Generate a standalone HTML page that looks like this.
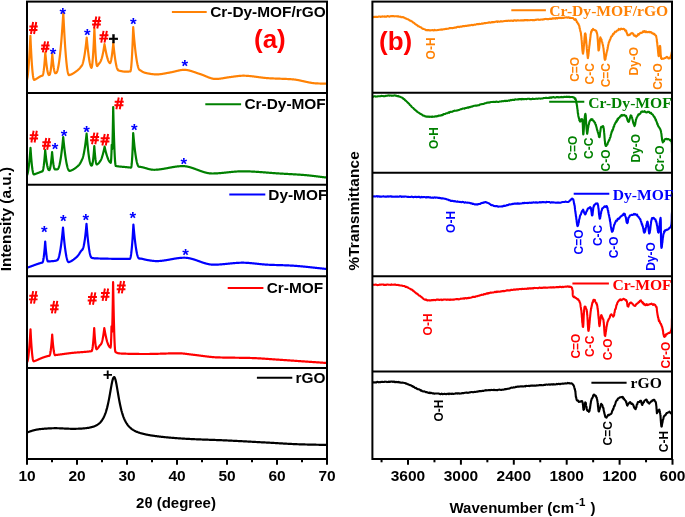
<!DOCTYPE html><html><head><meta charset="utf-8"><style>html,body{margin:0;padding:0;background:#fff;}svg{display:block;will-change:transform;filter:blur(0.35px);}</style></head><body><svg width="685" height="517" viewBox="0 0 685 517">
<rect width="685" height="517" fill="#fff"/>
<defs>
<clipPath id="ca"><rect x="27" y="1.6" width="300" height="457.4"/></clipPath>
<clipPath id="cb"><rect x="372.4" y="1.6" width="299.6" height="457.4"/></clipPath>
</defs>
<g clip-path="url(#ca)" fill="none" stroke-width="2.2" stroke-linejoin="round" stroke-linecap="round">
<path d="M27.00,79.77 L27.25,78.68 L27.50,77.26 L27.75,75.50 L28.00,73.39 L28.25,70.94 L28.50,68.15 L28.75,65.02 L29.00,61.54 L29.25,57.73 L29.50,53.58 L29.75,49.08 L30.00,44.25 L30.25,39.07 L30.40,35.80 L30.50,38.14 L30.75,43.70 L31.00,48.87 L31.25,53.64 L31.50,58.02 L31.75,62.00 L32.00,65.58 L32.25,68.76 L32.50,71.55 L32.75,73.93 L33.00,75.92 L33.25,77.51 L33.50,78.69 L33.75,79.47 L34.00,79.85 L34.25,79.85 L34.50,79.76 L34.75,79.65 L35.00,79.54 L35.25,79.42 L35.50,79.29 L35.75,79.15 L36.00,79.02 L36.25,78.87 L36.50,78.72 L36.75,78.57 L37.00,78.42 L37.25,78.26 L37.50,78.10 L37.75,77.94 L38.00,77.79 L38.25,77.63 L38.50,77.47 L38.75,77.31 L39.00,77.16 L39.25,77.01 L39.50,76.86 L39.75,76.72 L40.00,76.58 L40.25,76.45 L40.50,76.32 L40.75,76.21 L41.00,76.09 L41.25,75.99 L41.50,75.90 L41.75,75.81 L42.00,75.74 L42.25,75.67 L42.50,75.59 L42.75,75.23 L43.00,74.54 L43.25,73.51 L43.50,72.15 L43.75,70.46 L44.00,68.43 L44.25,66.06 L44.50,63.35 L44.75,60.30 L45.00,56.91 L45.25,53.19 L45.30,52.40 L45.50,54.72 L45.75,57.44 L46.00,59.98 L46.25,62.33 L46.50,64.49 L46.75,66.45 L47.00,68.21 L47.25,69.76 L47.50,71.11 L47.75,72.26 L48.00,73.21 L48.25,73.95 L48.50,74.51 L48.75,74.87 L49.00,75.03 L49.25,75.00 L49.50,74.87 L49.75,74.50 L50.00,73.83 L50.25,72.87 L50.50,71.61 L50.75,70.08 L51.00,68.26 L51.25,66.15 L51.50,63.77 L51.75,61.10 L52.00,58.14 L52.25,54.89 L52.30,54.20 L52.50,56.56 L52.75,59.28 L53.00,61.77 L53.25,64.01 L53.50,66.01 L53.75,67.76 L54.00,69.27 L54.25,70.54 L54.50,71.56 L54.75,72.34 L55.00,72.87 L55.25,73.15 L55.50,73.20 L55.75,73.13 L56.00,73.07 L56.25,72.96 L56.50,72.71 L56.75,72.32 L57.00,71.79 L57.25,71.12 L57.50,70.31 L57.75,69.37 L58.00,68.29 L58.25,67.07 L58.50,65.72 L58.75,64.24 L59.00,62.62 L59.25,60.86 L59.50,58.97 L59.75,56.94 L60.00,54.78 L60.25,52.47 L60.50,50.03 L60.75,47.45 L61.00,44.73 L61.25,41.87 L61.50,38.86 L61.75,35.72 L62.00,32.43 L62.25,29.00 L62.50,25.42 L62.75,21.70 L63.00,17.83 L63.25,13.82 L63.30,13.00 L63.50,17.23 L63.75,22.32 L64.00,27.18 L64.25,31.80 L64.50,36.19 L64.75,40.36 L65.00,44.28 L65.25,47.98 L65.50,51.44 L65.75,54.67 L66.00,57.66 L66.25,60.42 L66.50,62.94 L66.75,65.22 L67.00,67.27 L67.25,69.08 L67.50,70.65 L67.75,71.99 L68.00,73.09 L68.25,73.96 L68.50,74.59 L68.75,74.98 L69.00,75.14 L69.25,75.10 L69.50,75.04 L69.75,74.97 L70.00,74.89 L70.25,74.81 L70.50,74.72 L70.75,74.62 L71.00,74.52 L71.25,74.41 L71.50,74.30 L71.75,74.18 L72.00,74.05 L72.25,73.92 L72.50,73.78 L72.75,73.64 L73.00,73.50 L73.25,73.35 L73.50,73.19 L73.75,73.04 L74.00,72.87 L74.25,72.71 L74.50,72.54 L74.75,72.37 L75.00,72.19 L75.25,72.01 L75.50,71.83 L75.75,71.65 L76.00,71.47 L76.25,71.28 L76.50,71.09 L76.75,70.90 L77.00,70.71 L77.25,70.51 L77.50,70.32 L77.75,70.12 L78.00,69.92 L78.25,69.71 L78.50,69.49 L78.75,69.26 L79.00,69.02 L79.25,68.76 L79.50,68.49 L79.75,68.21 L80.00,67.91 L80.25,67.61 L80.50,67.29 L80.75,66.97 L81.00,66.65 L81.25,66.33 L81.50,66.02 L81.75,65.70 L82.00,65.28 L82.25,64.75 L82.50,64.11 L82.75,63.37 L83.00,62.53 L83.25,61.58 L83.50,60.53 L83.75,59.39 L84.00,58.14 L84.25,56.80 L84.50,55.36 L84.75,53.80 L85.00,52.15 L85.25,50.38 L85.50,48.49 L85.75,46.48 L86.00,44.35 L86.25,42.09 L86.50,39.71 L86.70,37.70 L86.75,38.25 L87.00,40.94 L87.25,43.52 L87.50,45.99 L87.75,48.35 L88.00,50.60 L88.25,52.73 L88.50,54.74 L88.75,56.62 L89.00,58.38 L89.25,60.00 L89.50,61.47 L89.75,62.79 L90.00,63.96 L90.25,64.98 L90.50,65.87 L90.75,66.65 L91.00,67.29 L91.25,67.79 L91.50,67.87 L91.75,67.34 L92.00,66.20 L92.25,64.47 L92.50,62.14 L92.75,59.26 L93.00,55.91 L93.25,52.09 L93.50,47.81 L93.75,43.08 L94.00,37.86 L94.25,32.15 L94.40,28.50 L94.50,31.16 L94.75,37.38 L95.00,43.01 L95.25,48.03 L95.50,52.44 L95.75,56.24 L96.00,59.42 L96.25,62.00 L96.50,63.95 L96.75,65.28 L97.00,66.00 L97.25,66.11 L97.50,65.80 L97.75,65.45 L98.00,65.10 L98.25,64.73 L98.50,64.36 L98.75,64.02 L99.00,63.69 L99.25,63.39 L99.50,63.12 L99.75,62.81 L100.00,62.44 L100.25,62.01 L100.50,61.53 L100.75,61.00 L101.00,60.40 L101.25,59.75 L101.50,59.03 L101.75,58.24 L102.00,57.39 L102.25,56.45 L102.50,55.43 L102.75,54.32 L103.00,53.12 L103.25,51.84 L103.50,50.47 L103.75,49.01 L104.00,47.46 L104.25,45.83 L104.50,44.10 L104.75,45.61 L105.00,47.06 L105.25,48.45 L105.50,49.80 L105.75,51.08 L106.00,52.31 L106.25,53.48 L106.50,54.59 L106.75,55.64 L107.00,56.63 L107.25,57.56 L107.50,58.44 L107.75,59.25 L108.00,60.00 L108.25,60.68 L108.50,61.26 L108.75,61.77 L109.00,62.20 L109.25,62.55 L109.50,62.84 L109.75,63.09 L110.00,63.11 L110.25,62.89 L110.50,62.42 L110.75,61.68 L111.00,60.71 L111.25,59.52 L111.50,58.14 L111.75,56.57 L112.00,54.85 L112.25,52.95 L112.50,50.90 L112.75,48.70 L113.00,46.31 L113.25,43.74 L113.30,43.20 L113.50,45.17 L113.75,47.56 L114.00,49.84 L114.25,52.02 L114.50,54.10 L114.75,56.06 L115.00,57.90 L115.25,59.62 L115.50,61.21 L115.75,62.67 L116.00,64.01 L116.25,65.21 L116.50,66.29 L116.75,67.24 L117.00,68.06 L117.25,68.75 L117.50,69.32 L117.75,69.77 L118.00,70.09 L118.25,70.29 L118.50,70.39 L118.75,70.47 L119.00,70.54 L119.25,70.62 L119.50,70.69 L119.75,70.76 L120.00,70.82 L120.25,70.89 L120.50,70.95 L120.75,71.01 L121.00,71.07 L121.25,71.13 L121.50,71.18 L121.75,71.23 L122.00,71.28 L122.25,71.33 L122.50,71.37 L122.75,71.41 L123.00,71.45 L123.25,71.48 L123.50,71.51 L123.75,71.54 L124.00,71.57 L124.25,71.59 L124.50,71.61 L124.75,71.63 L125.00,71.65 L125.25,71.66 L125.50,71.66 L125.75,71.67 L126.00,71.67 L126.25,71.67 L126.50,71.67 L126.75,71.66 L127.00,71.66 L127.25,71.64 L127.50,71.63 L127.75,71.62 L128.00,71.60 L128.25,71.58 L128.50,71.56 L128.75,71.54 L129.00,71.51 L129.25,71.49 L129.50,71.46 L129.75,71.44 L130.00,71.41 L130.25,71.38 L130.50,71.14 L130.75,70.26 L131.00,68.73 L131.25,66.55 L131.50,63.72 L131.75,60.24 L132.00,56.10 L132.25,51.32 L132.50,45.88 L132.75,39.80 L133.00,33.06 L133.20,27.20 L133.25,27.85 L133.50,31.02 L133.75,34.07 L134.00,36.98 L134.25,39.77 L134.50,42.43 L134.75,44.96 L135.00,47.36 L135.25,49.64 L135.50,51.79 L135.75,53.82 L136.00,55.72 L136.25,57.50 L136.50,59.16 L136.75,60.69 L137.00,62.11 L137.25,63.40 L137.50,64.58 L137.75,65.64 L138.00,66.59 L138.25,67.42 L138.50,68.14 L138.75,68.75 L139.00,69.24 L139.25,69.62 L139.50,69.89 L139.75,70.05 L140.00,70.16 L140.25,70.30 L140.50,70.44 L140.75,70.59 L141.00,70.75 L141.25,70.92 L141.50,71.09 L141.75,71.25 L142.00,71.41 L142.25,71.57 L142.50,71.72 L142.75,71.86 L143.00,71.99 L143.25,72.12 L143.50,72.23 L143.75,72.34 L144.00,72.44 L144.25,72.53 L144.50,72.61 L144.75,72.69 L145.00,72.76 L145.25,72.82 L145.50,72.88 L145.75,72.94 L146.00,73.00 L146.25,73.06 L146.50,73.11 L146.75,73.17 L147.00,73.22 L147.25,73.28 L147.50,73.33 L147.75,73.38 L148.00,73.43 L148.25,73.48 L148.50,73.53 L148.75,73.57 L149.00,73.62 L149.25,73.67 L149.50,73.71 L149.75,73.75 L150.00,73.79 L150.25,73.84 L150.50,73.87 L150.75,73.91 L151.00,73.95 L151.25,73.98 L151.50,74.02 L151.75,74.05 L152.00,74.08 L152.25,74.11 L152.50,74.14 L152.75,74.17 L153.00,74.19 L153.25,74.22 L153.50,74.24 L153.75,74.26 L154.00,74.28 L154.25,74.30 L154.50,74.32 L154.75,74.33 L155.00,74.34 L155.25,74.35 L155.50,74.36 L155.75,74.37 L156.00,74.38 L156.25,74.38 L156.50,74.38 L156.75,74.38 L157.00,74.38 L157.25,74.37 L157.50,74.37 L157.75,74.36 L158.00,74.35 L158.25,74.34 L158.50,74.32 L158.75,74.30 L159.00,74.29 L159.25,74.26 L159.50,74.24 L159.75,74.22 L160.00,74.19 L160.25,74.16 L160.50,74.14 L160.75,74.11 L161.00,74.07 L161.25,74.04 L161.50,74.00 L161.75,73.97 L162.00,73.93 L162.25,73.89 L162.50,73.85 L162.75,73.81 L163.00,73.77 L163.25,73.73 L163.50,73.69 L163.75,73.64 L164.00,73.60 L164.25,73.55 L164.50,73.51 L164.75,73.46 L165.00,73.42 L165.25,73.37 L165.50,73.32 L165.75,73.28 L166.00,73.23 L166.25,73.18 L166.50,73.13 L166.75,73.09 L167.00,73.04 L167.25,72.99 L167.50,72.95 L167.75,72.90 L168.00,72.85 L168.25,72.81 L168.50,72.76 L168.75,72.72 L169.00,72.67 L169.25,72.63 L169.50,72.59 L169.75,72.54 L170.00,72.50 L170.25,72.45 L170.50,72.40 L170.75,72.36 L171.00,72.31 L171.25,72.26 L171.50,72.21 L171.75,72.16 L172.00,72.10 L172.25,72.05 L172.50,71.99 L172.75,71.94 L173.00,71.88 L173.25,71.82 L173.50,71.76 L173.75,71.70 L174.00,71.64 L174.25,71.58 L174.50,71.52 L174.75,71.46 L175.00,71.40 L175.25,71.33 L175.50,71.27 L175.75,71.21 L176.00,71.15 L176.25,71.09 L176.50,71.02 L176.75,70.96 L177.00,70.90 L177.25,70.84 L177.50,70.78 L177.75,70.72 L178.00,70.67 L178.25,70.61 L178.50,70.56 L178.75,70.50 L179.00,70.45 L179.25,70.40 L179.50,70.35 L179.75,70.30 L180.00,70.26 L180.25,70.21 L180.50,70.17 L180.75,70.13 L181.00,70.09 L181.25,70.05 L181.50,70.02 L181.75,69.99 L182.00,69.96 L182.25,69.93 L182.50,69.91 L182.75,69.89 L183.00,69.87 L183.25,69.86 L183.50,69.85 L183.75,69.84 L184.00,69.83 L184.25,69.83 L184.50,69.83 L184.75,69.84 L185.00,69.85 L185.25,69.86 L185.50,69.88 L185.75,69.90 L186.00,69.92 L186.25,69.95 L186.50,69.98 L186.75,70.01 L187.00,70.05 L187.25,70.08 L187.50,70.13 L187.75,70.17 L188.00,70.22 L188.25,70.27 L188.50,70.32 L188.75,70.38 L189.00,70.44 L189.25,70.50 L189.50,70.56 L189.75,70.62 L190.00,70.69 L190.25,70.76 L190.50,70.83 L190.75,70.90 L191.00,70.98 L191.25,71.05 L191.50,71.13 L191.75,71.21 L192.00,71.29 L192.25,71.37 L192.50,71.45 L192.75,71.53 L193.00,71.62 L193.25,71.70 L193.50,71.79 L193.75,71.88 L194.00,71.96 L194.25,72.05 L194.50,72.14 L194.75,72.23 L195.00,72.32 L195.25,72.40 L195.50,72.49 L195.75,72.58 L196.00,72.67 L196.25,72.76 L196.50,72.84 L196.75,72.93 L197.00,73.02 L197.25,73.10 L197.50,73.19 L197.75,73.27 L198.00,73.36 L198.25,73.44 L198.50,73.52 L198.75,73.60 L199.00,73.68 L199.25,73.76 L199.50,73.84 L199.75,73.93 L200.00,74.01 L200.25,74.09 L200.50,74.17 L200.75,74.25 L201.00,74.34 L201.25,74.42 L201.50,74.51 L201.75,74.60 L202.00,74.69 L202.25,74.78 L202.50,74.88 L202.75,74.97 L203.00,75.07 L203.25,75.17 L203.50,75.27 L203.75,75.38 L204.00,75.48 L204.25,75.58 L204.50,75.69 L204.75,75.79 L205.00,75.90 L205.25,76.01 L205.50,76.11 L205.75,76.22 L206.00,76.33 L206.25,76.43 L206.50,76.54 L206.75,76.64 L207.00,76.75 L207.25,76.85 L207.50,76.95 L207.75,77.06 L208.00,77.16 L208.25,77.26 L208.50,77.35 L208.75,77.45 L209.00,77.55 L209.25,77.64 L209.50,77.73 L209.75,77.82 L210.00,77.90 L210.25,77.99 L210.50,78.07 L210.75,78.15 L211.00,78.22 L211.25,78.30 L211.50,78.37 L211.75,78.43 L212.00,78.50 L212.25,78.56 L212.50,78.61 L212.75,78.67 L213.00,78.71 L213.25,78.76 L213.50,78.80 L213.75,78.83 L214.00,78.87 L214.25,78.89 L214.50,78.92 L214.75,78.93 L215.00,78.95 L215.25,78.96 L215.50,78.97 L215.75,78.97 L216.00,78.97 L216.25,78.97 L216.50,78.96 L216.75,78.95 L217.00,78.94 L217.25,78.93 L217.50,78.91 L217.75,78.90 L218.00,78.88 L218.25,78.86 L218.50,78.83 L218.75,78.81 L219.00,78.78 L219.25,78.76 L219.50,78.73 L219.75,78.70 L220.00,78.67 L220.25,78.63 L220.50,78.60 L220.75,78.57 L221.00,78.53 L221.25,78.49 L221.50,78.46 L221.75,78.42 L222.00,78.38 L222.25,78.34 L222.50,78.30 L222.75,78.26 L223.00,78.22 L223.25,78.17 L223.50,78.13 L223.75,78.09 L224.00,78.05 L224.25,78.00 L224.50,77.96 L224.75,77.92 L225.00,77.87 L225.25,77.83 L225.50,77.79 L225.75,77.74 L226.00,77.70 L226.25,77.66 L226.50,77.62 L226.75,77.58 L227.00,77.54 L227.25,77.50 L227.50,77.46 L227.75,77.42 L228.00,77.38 L228.25,77.34 L228.50,77.31 L228.75,77.27 L229.00,77.24 L229.25,77.20 L229.50,77.17 L229.75,77.14 L230.00,77.10 L230.25,77.07 L230.50,77.04 L230.75,77.01 L231.00,76.97 L231.25,76.94 L231.50,76.91 L231.75,76.88 L232.00,76.84 L232.25,76.81 L232.50,76.78 L232.75,76.74 L233.00,76.71 L233.25,76.67 L233.50,76.64 L233.75,76.60 L234.00,76.57 L234.25,76.53 L234.50,76.50 L234.75,76.46 L235.00,76.43 L235.25,76.40 L235.50,76.36 L235.75,76.33 L236.00,76.30 L236.25,76.26 L236.50,76.23 L236.75,76.20 L237.00,76.17 L237.25,76.14 L237.50,76.11 L237.75,76.08 L238.00,76.05 L238.25,76.02 L238.50,75.99 L238.75,75.97 L239.00,75.94 L239.25,75.92 L239.50,75.90 L239.75,75.88 L240.00,75.85 L240.25,75.84 L240.50,75.82 L240.75,75.80 L241.00,75.79 L241.25,75.77 L241.50,75.76 L241.75,75.75 L242.00,75.74 L242.25,75.73 L242.50,75.72 L242.75,75.72 L243.00,75.72 L243.25,75.71 L243.50,75.71 L243.75,75.71 L244.00,75.72 L244.25,75.72 L244.50,75.72 L244.75,75.73 L245.00,75.74 L245.25,75.74 L245.50,75.75 L245.75,75.76 L246.00,75.77 L246.25,75.79 L246.50,75.80 L246.75,75.81 L247.00,75.83 L247.25,75.84 L247.50,75.86 L247.75,75.88 L248.00,75.90 L248.25,75.91 L248.50,75.93 L248.75,75.96 L249.00,75.98 L249.25,76.00 L249.50,76.02 L249.75,76.04 L250.00,76.07 L250.25,76.09 L250.50,76.12 L250.75,76.14 L251.00,76.17 L251.25,76.20 L251.50,76.23 L251.75,76.25 L252.00,76.28 L252.25,76.31 L252.50,76.34 L252.75,76.37 L253.00,76.40 L253.25,76.43 L253.50,76.46 L253.75,76.49 L254.00,76.53 L254.25,76.56 L254.50,76.59 L254.75,76.62 L255.00,76.66 L255.25,76.69 L255.50,76.72 L255.75,76.76 L256.00,76.79 L256.25,76.82 L256.50,76.86 L256.75,76.89 L257.00,76.93 L257.25,76.96 L257.50,76.99 L257.75,77.03 L258.00,77.06 L258.25,77.10 L258.50,77.13 L258.75,77.16 L259.00,77.20 L259.25,77.23 L259.50,77.27 L259.75,77.30 L260.00,77.33 L260.25,77.37 L260.50,77.40 L260.75,77.43 L261.00,77.46 L261.25,77.50 L261.50,77.53 L261.75,77.56 L262.00,77.59 L262.25,77.62 L262.50,77.65 L262.75,77.68 L263.00,77.71 L263.25,77.74 L263.50,77.77 L263.75,77.80 L264.00,77.82 L264.25,77.85 L264.50,77.88 L264.75,77.90 L265.00,77.93 L265.25,77.95 L265.50,77.98 L265.75,78.00 L266.00,78.02 L266.25,78.05 L266.50,78.07 L266.75,78.09 L267.00,78.11 L267.25,78.13 L267.50,78.15 L267.75,78.16 L268.00,78.18 L268.25,78.20 L268.50,78.21 L268.75,78.23 L269.00,78.25 L269.25,78.26 L269.50,78.27 L269.75,78.29 L270.00,78.30 L270.25,78.32 L270.50,78.33 L270.75,78.34 L271.00,78.36 L271.25,78.37 L271.50,78.38 L271.75,78.39 L272.00,78.40 L272.25,78.42 L272.50,78.43 L272.75,78.44 L273.00,78.45 L273.25,78.46 L273.50,78.47 L273.75,78.48 L274.00,78.49 L274.25,78.50 L274.50,78.51 L274.75,78.52 L275.00,78.53 L275.25,78.54 L275.50,78.55 L275.75,78.56 L276.00,78.57 L276.25,78.58 L276.50,78.59 L276.75,78.60 L277.00,78.61 L277.25,78.62 L277.50,78.63 L277.75,78.63 L278.00,78.64 L278.25,78.65 L278.50,78.66 L278.75,78.67 L279.00,78.68 L279.25,78.69 L279.50,78.70 L279.75,78.70 L280.00,78.71 L280.25,78.72 L280.50,78.73 L280.75,78.74 L281.00,78.75 L281.25,78.76 L281.50,78.77 L281.75,78.78 L282.00,78.78 L282.25,78.79 L282.50,78.80 L282.75,78.81 L283.00,78.82 L283.25,78.83 L283.50,78.84 L283.75,78.85 L284.00,78.86 L284.25,78.87 L284.50,78.88 L284.75,78.89 L285.00,78.90 L285.25,78.91 L285.50,78.92 L285.75,78.93 L286.00,78.94 L286.25,78.96 L286.50,78.97 L286.75,78.98 L287.00,78.99 L287.25,79.00 L287.50,79.01 L287.75,79.03 L288.00,79.04 L288.25,79.05 L288.50,79.07 L288.75,79.08 L289.00,79.09 L289.25,79.11 L289.50,79.12 L289.75,79.14 L290.00,79.15 L290.25,79.17 L290.50,79.18 L290.75,79.20 L291.00,79.21 L291.25,79.23 L291.50,79.25 L291.75,79.27 L292.00,79.29 L292.25,79.30 L292.50,79.33 L292.75,79.35 L293.00,79.37 L293.25,79.39 L293.50,79.42 L293.75,79.44 L294.00,79.47 L294.25,79.50 L294.50,79.53 L294.75,79.56 L295.00,79.60 L295.25,79.63 L295.50,79.67 L295.75,79.70 L296.00,79.74 L296.25,79.78 L296.50,79.82 L296.75,79.86 L297.00,79.90 L297.25,79.95 L297.50,79.99 L297.75,80.03 L298.00,80.08 L298.25,80.13 L298.50,80.17 L298.75,80.22 L299.00,80.27 L299.25,80.32 L299.50,80.37 L299.75,80.42 L300.00,80.48 L300.25,80.53 L300.50,80.58 L300.75,80.63 L301.00,80.69 L301.25,80.74 L301.50,80.80 L301.75,80.85 L302.00,80.91 L302.25,80.96 L302.50,81.02 L302.75,81.07 L303.00,81.13 L303.25,81.18 L303.50,81.24 L303.75,81.30 L304.00,81.35 L304.25,81.41 L304.50,81.47 L304.75,81.52 L305.00,81.58 L305.25,81.63 L305.50,81.69 L305.75,81.74 L306.00,81.80 L306.25,81.85 L306.50,81.91 L306.75,81.96 L307.00,82.02 L307.25,82.07 L307.50,82.12 L307.75,82.17 L308.00,82.23 L308.25,82.28 L308.50,82.33 L308.75,82.38 L309.00,82.43 L309.25,82.47 L309.50,82.52 L309.75,82.57 L310.00,82.61 L310.25,82.66 L310.50,82.70 L310.75,82.75 L311.00,82.79 L311.25,82.83 L311.50,82.87 L311.75,82.91 L312.00,82.95 L312.25,82.98 L312.50,83.02 L312.75,83.05 L313.00,83.08 L313.25,83.12 L313.50,83.15 L313.75,83.17 L314.00,83.20 L314.25,83.23 L314.50,83.25 L314.75,83.27 L315.00,83.30 L315.25,83.32 L315.50,83.33 L315.75,83.35 L316.00,83.37 L316.25,83.38 L316.50,83.40 L316.75,83.41 L317.00,83.42 L317.25,83.43 L317.50,83.44 L317.75,83.45 L318.00,83.46 L318.25,83.47 L318.50,83.48 L318.75,83.49 L319.00,83.50 L319.25,83.50 L319.50,83.51 L319.75,83.52 L320.00,83.53 L320.25,83.53 L320.50,83.54 L320.75,83.55 L321.00,83.55 L321.25,83.56 L321.50,83.57 L321.75,83.57 L322.00,83.58 L322.25,83.58 L322.50,83.59 L322.75,83.60 L323.00,83.60 L323.25,83.61 L323.50,83.61 L323.75,83.62 L324.00,83.63 L324.25,83.63 L324.50,83.64 L324.75,83.64 L325.00,83.65 L325.25,83.66 L325.50,83.66 L325.75,83.67 L326.00,83.67 L326.25,83.68 L326.50,83.68 L326.75,83.68 L327.00,83.69" stroke="#ff8205"/>
<path d="M27.00,175.39 L27.25,174.79 L27.50,173.98 L27.75,172.97 L28.00,171.74 L28.25,170.30 L28.50,168.65 L28.75,166.78 L29.00,164.71 L29.25,162.43 L29.50,159.94 L29.75,157.24 L30.00,154.34 L30.25,151.22 L30.50,147.90 L30.75,151.64 L31.00,155.11 L31.25,158.28 L31.50,161.17 L31.75,163.78 L32.00,166.11 L32.25,168.14 L32.50,169.90 L32.75,171.37 L33.00,172.55 L33.25,173.45 L33.50,174.06 L33.75,174.39 L34.00,174.43 L34.25,174.35 L34.50,174.27 L34.75,174.19 L35.00,174.10 L35.25,174.01 L35.50,173.92 L35.75,173.83 L36.00,173.74 L36.25,173.64 L36.50,173.55 L36.75,173.45 L37.00,173.35 L37.25,173.25 L37.50,173.16 L37.75,173.06 L38.00,172.96 L38.25,172.86 L38.50,172.76 L38.75,172.66 L39.00,172.57 L39.25,172.47 L39.50,172.37 L39.75,172.28 L40.00,172.19 L40.25,172.10 L40.50,172.01 L40.75,171.92 L41.00,171.84 L41.25,171.75 L41.50,171.67 L41.75,171.60 L42.00,171.52 L42.25,171.45 L42.50,171.28 L42.75,170.82 L43.00,170.05 L43.25,168.98 L43.50,167.60 L43.75,165.93 L44.00,163.94 L44.25,161.66 L44.50,159.07 L44.75,156.18 L45.00,152.98 L45.20,150.20 L45.25,150.71 L45.50,153.18 L45.75,155.47 L46.00,157.60 L46.25,159.56 L46.50,161.36 L46.75,162.99 L47.00,164.45 L47.25,165.74 L47.50,166.87 L47.75,167.83 L48.00,168.62 L48.25,169.25 L48.50,169.71 L48.75,170.00 L49.00,170.12 L49.25,170.10 L49.50,169.87 L49.75,169.39 L50.00,168.64 L50.25,167.63 L50.50,166.35 L50.75,164.82 L51.00,163.02 L51.25,160.96 L51.50,158.64 L51.75,156.05 L52.00,153.21 L52.10,152.00 L52.25,153.75 L52.50,156.47 L52.75,158.93 L53.00,161.13 L53.25,163.07 L53.50,164.75 L53.75,166.17 L54.00,167.34 L54.25,168.24 L54.50,168.89 L54.75,169.28 L55.00,169.40 L55.25,169.40 L55.50,169.40 L55.75,169.39 L56.00,169.39 L56.25,169.38 L56.50,169.36 L56.75,169.35 L57.00,169.33 L57.25,169.31 L57.50,169.27 L57.75,169.14 L58.00,168.88 L58.25,168.50 L58.50,168.00 L58.75,167.38 L59.00,166.64 L59.25,165.78 L59.50,164.81 L59.75,163.72 L60.00,162.52 L60.25,161.20 L60.50,159.77 L60.75,158.23 L61.00,156.58 L61.25,154.81 L61.50,152.93 L61.75,150.94 L62.00,148.83 L62.25,146.61 L62.50,144.27 L62.75,141.82 L63.00,139.24 L63.20,137.10 L63.25,137.62 L63.50,140.16 L63.75,142.60 L64.00,144.95 L64.25,147.20 L64.50,149.36 L64.75,151.41 L65.00,153.37 L65.25,155.23 L65.50,156.98 L65.75,158.63 L66.00,160.18 L66.25,161.63 L66.50,162.97 L66.75,164.21 L67.00,165.34 L67.25,166.37 L67.50,167.29 L67.75,168.11 L68.00,168.83 L68.25,169.43 L68.50,169.94 L68.75,170.34 L69.00,170.63 L69.25,170.82 L69.50,170.91 L69.75,170.89 L70.00,170.83 L70.25,170.76 L70.50,170.68 L70.75,170.60 L71.00,170.51 L71.25,170.42 L71.50,170.32 L71.75,170.21 L72.00,170.10 L72.25,169.98 L72.50,169.86 L72.75,169.73 L73.00,169.59 L73.25,169.45 L73.50,169.30 L73.75,169.15 L74.00,168.99 L74.25,168.83 L74.50,168.67 L74.75,168.50 L75.00,168.32 L75.25,168.14 L75.50,167.95 L75.75,167.76 L76.00,167.57 L76.25,167.37 L76.50,167.17 L76.75,166.96 L77.00,166.75 L77.25,166.54 L77.50,166.32 L77.75,166.10 L78.00,165.88 L78.25,165.65 L78.50,165.42 L78.75,165.18 L79.00,164.91 L79.25,164.62 L79.50,164.30 L79.75,163.95 L80.00,163.57 L80.25,163.16 L80.50,162.71 L80.75,162.24 L81.00,161.75 L81.25,161.23 L81.50,160.71 L81.75,160.18 L82.00,159.64 L82.25,159.12 L82.50,158.55 L82.75,157.84 L83.00,157.02 L83.25,156.08 L83.50,155.03 L83.75,153.89 L84.00,152.65 L84.25,151.31 L84.50,149.89 L84.75,148.36 L85.00,146.74 L85.25,145.01 L85.50,143.17 L85.75,141.21 L86.00,139.12 L86.25,136.89 L86.50,134.50 L86.60,133.50 L86.75,135.38 L87.00,138.43 L87.25,141.33 L87.50,144.10 L87.75,146.71 L88.00,149.16 L88.25,151.44 L88.50,153.54 L88.75,155.48 L89.00,157.24 L89.25,158.82 L89.50,160.23 L89.75,161.47 L90.00,162.54 L90.25,163.45 L90.50,164.19 L90.75,164.76 L91.00,165.19 L91.25,165.47 L91.50,165.60 L91.75,165.59 L92.00,165.30 L92.25,164.66 L92.50,163.67 L92.75,162.32 L93.00,160.62 L93.25,158.57 L93.50,156.16 L93.75,153.41 L94.00,150.30 L94.25,146.83 L94.30,146.10 L94.50,148.90 L94.75,152.08 L95.00,154.90 L95.25,157.36 L95.50,159.46 L95.75,161.20 L96.00,162.57 L96.25,163.58 L96.50,164.23 L96.75,164.51 L97.00,164.45 L97.25,164.30 L97.50,164.14 L97.75,163.96 L98.00,163.77 L98.25,163.56 L98.50,163.33 L98.75,163.06 L99.00,162.77 L99.25,162.45 L99.50,162.11 L99.75,161.76 L100.00,161.40 L100.25,161.05 L100.50,160.69 L100.75,160.26 L101.00,159.75 L101.25,159.20 L101.50,158.58 L101.75,157.90 L102.00,157.16 L102.25,156.38 L102.50,155.55 L102.75,154.69 L103.00,153.78 L103.25,152.83 L103.50,151.83 L103.75,150.77 L104.00,149.63 L104.25,148.42 L104.50,147.14 L104.60,146.60 L104.75,147.33 L105.00,148.51 L105.25,149.62 L105.50,150.69 L105.75,151.70 L106.00,152.65 L106.25,153.55 L106.50,154.40 L106.75,155.21 L107.00,155.99 L107.25,156.73 L107.50,157.45 L107.75,158.13 L108.00,158.78 L108.25,159.39 L108.50,159.95 L108.75,160.46 L109.00,160.92 L109.25,161.31 L109.50,161.64 L109.75,161.91 L110.00,162.17 L110.25,162.41 L110.50,162.64 L110.75,162.78 L111.00,161.37 L111.25,157.81 L111.50,152.07 L111.70,144.91 L111.75,146.12 L112.00,149.48 L112.25,148.34 L112.50,142.70 L112.75,132.59 L113.00,119.32 L113.20,107.00 L113.25,109.21 L113.50,119.65 L113.75,129.04 L114.00,137.37 L114.25,144.64 L114.50,150.84 L114.75,155.99 L115.00,160.06 L115.25,163.07 L115.50,165.00 L115.75,165.87 L116.00,165.98 L116.25,166.04 L116.50,166.10 L116.75,166.14 L117.00,166.19 L117.25,166.23 L117.50,166.27 L117.75,166.30 L118.00,166.34 L118.25,166.38 L118.50,166.41 L118.75,166.44 L119.00,166.47 L119.25,166.50 L119.50,166.53 L119.75,166.56 L120.00,166.58 L120.25,166.61 L120.50,166.63 L120.75,166.66 L121.00,166.68 L121.25,166.70 L121.50,166.72 L121.75,166.74 L122.00,166.76 L122.25,166.78 L122.50,166.81 L122.75,166.83 L123.00,166.85 L123.25,166.87 L123.50,166.89 L123.75,166.91 L124.00,166.93 L124.25,166.95 L124.50,166.97 L124.75,166.99 L125.00,167.01 L125.25,167.04 L125.50,167.06 L125.75,167.08 L126.00,167.11 L126.25,167.13 L126.50,167.16 L126.75,167.19 L127.00,167.21 L127.25,167.24 L127.50,167.27 L127.75,167.30 L128.00,167.33 L128.25,167.35 L128.50,167.38 L128.75,167.41 L129.00,167.43 L129.25,167.45 L129.50,167.48 L129.75,167.50 L130.00,167.51 L130.25,167.53 L130.50,167.54 L130.75,167.55 L131.00,167.56 L131.25,167.19 L131.50,165.92 L131.75,163.73 L132.00,160.62 L132.25,156.60 L132.50,151.67 L132.75,145.83 L133.00,139.07 L133.20,133.00 L133.25,133.58 L133.50,136.43 L133.75,139.15 L134.00,141.73 L134.25,144.18 L134.50,146.51 L134.75,148.70 L135.00,150.77 L135.25,152.71 L135.50,154.52 L135.75,156.20 L136.00,157.76 L136.25,159.20 L136.50,160.50 L136.75,161.68 L137.00,162.74 L137.25,163.68 L137.50,164.49 L137.75,165.17 L138.00,165.74 L138.25,166.18 L138.50,166.49 L138.75,166.69 L139.00,166.76 L139.25,166.77 L139.50,166.78 L139.75,166.81 L140.00,166.83 L140.25,166.86 L140.50,166.89 L140.75,166.93 L141.00,166.97 L141.25,167.01 L141.50,167.06 L141.75,167.11 L142.00,167.16 L142.25,167.21 L142.50,167.27 L142.75,167.33 L143.00,167.39 L143.25,167.45 L143.50,167.52 L143.75,167.59 L144.00,167.65 L144.25,167.72 L144.50,167.79 L144.75,167.87 L145.00,167.94 L145.25,168.01 L145.50,168.09 L145.75,168.16 L146.00,168.24 L146.25,168.31 L146.50,168.38 L146.75,168.46 L147.00,168.53 L147.25,168.60 L147.50,168.68 L147.75,168.75 L148.00,168.82 L148.25,168.89 L148.50,168.95 L148.75,169.02 L149.00,169.08 L149.25,169.15 L149.50,169.21 L149.75,169.27 L150.00,169.32 L150.25,169.37 L150.50,169.42 L150.75,169.47 L151.00,169.52 L151.25,169.56 L151.50,169.59 L151.75,169.63 L152.00,169.66 L152.25,169.69 L152.50,169.71 L152.75,169.73 L153.00,169.74 L153.25,169.76 L153.50,169.77 L153.75,169.77 L154.00,169.78 L154.25,169.78 L154.50,169.78 L154.75,169.77 L155.00,169.76 L155.25,169.76 L155.50,169.75 L155.75,169.73 L156.00,169.72 L156.25,169.71 L156.50,169.69 L156.75,169.67 L157.00,169.66 L157.25,169.64 L157.50,169.62 L157.75,169.59 L158.00,169.57 L158.25,169.55 L158.50,169.52 L158.75,169.49 L159.00,169.47 L159.25,169.44 L159.50,169.41 L159.75,169.38 L160.00,169.35 L160.25,169.31 L160.50,169.28 L160.75,169.25 L161.00,169.21 L161.25,169.17 L161.50,169.14 L161.75,169.10 L162.00,169.06 L162.25,169.02 L162.50,168.98 L162.75,168.94 L163.00,168.90 L163.25,168.86 L163.50,168.82 L163.75,168.78 L164.00,168.73 L164.25,168.69 L164.50,168.65 L164.75,168.60 L165.00,168.56 L165.25,168.51 L165.50,168.47 L165.75,168.42 L166.00,168.37 L166.25,168.33 L166.50,168.28 L166.75,168.23 L167.00,168.19 L167.25,168.14 L167.50,168.09 L167.75,168.04 L168.00,168.00 L168.25,167.95 L168.50,167.90 L168.75,167.86 L169.00,167.81 L169.25,167.76 L169.50,167.71 L169.75,167.67 L170.00,167.62 L170.25,167.57 L170.50,167.53 L170.75,167.48 L171.00,167.43 L171.25,167.39 L171.50,167.34 L171.75,167.30 L172.00,167.25 L172.25,167.21 L172.50,167.17 L172.75,167.12 L173.00,167.08 L173.25,167.04 L173.50,167.00 L173.75,166.96 L174.00,166.92 L174.25,166.88 L174.50,166.84 L174.75,166.80 L175.00,166.76 L175.25,166.73 L175.50,166.69 L175.75,166.65 L176.00,166.62 L176.25,166.59 L176.50,166.55 L176.75,166.52 L177.00,166.49 L177.25,166.46 L177.50,166.43 L177.75,166.41 L178.00,166.38 L178.25,166.35 L178.50,166.33 L178.75,166.31 L179.00,166.28 L179.25,166.26 L179.50,166.24 L179.75,166.23 L180.00,166.21 L180.25,166.19 L180.50,166.18 L180.75,166.17 L181.00,166.15 L181.25,166.14 L181.50,166.14 L181.75,166.13 L182.00,166.12 L182.25,166.12 L182.50,166.12 L182.75,166.12 L183.00,166.12 L183.25,166.13 L183.50,166.14 L183.75,166.15 L184.00,166.16 L184.25,166.18 L184.50,166.20 L184.75,166.22 L185.00,166.24 L185.25,166.27 L185.50,166.30 L185.75,166.33 L186.00,166.37 L186.25,166.41 L186.50,166.45 L186.75,166.49 L187.00,166.54 L187.25,166.58 L187.50,166.63 L187.75,166.69 L188.00,166.74 L188.25,166.80 L188.50,166.85 L188.75,166.91 L189.00,166.98 L189.25,167.04 L189.50,167.11 L189.75,167.17 L190.00,167.24 L190.25,167.31 L190.50,167.39 L190.75,167.46 L191.00,167.54 L191.25,167.61 L191.50,167.69 L191.75,167.77 L192.00,167.85 L192.25,167.93 L192.50,168.02 L192.75,168.10 L193.00,168.19 L193.25,168.27 L193.50,168.36 L193.75,168.45 L194.00,168.54 L194.25,168.63 L194.50,168.72 L194.75,168.81 L195.00,168.90 L195.25,168.99 L195.50,169.09 L195.75,169.18 L196.00,169.27 L196.25,169.37 L196.50,169.46 L196.75,169.55 L197.00,169.65 L197.25,169.74 L197.50,169.84 L197.75,169.93 L198.00,170.03 L198.25,170.12 L198.50,170.22 L198.75,170.31 L199.00,170.40 L199.25,170.50 L199.50,170.59 L199.75,170.68 L200.00,170.77 L200.25,170.86 L200.50,170.95 L200.75,171.04 L201.00,171.13 L201.25,171.22 L201.50,171.31 L201.75,171.40 L202.00,171.48 L202.25,171.57 L202.50,171.65 L202.75,171.73 L203.00,171.81 L203.25,171.89 L203.50,171.97 L203.75,172.05 L204.00,172.12 L204.25,172.20 L204.50,172.27 L204.75,172.34 L205.00,172.41 L205.25,172.48 L205.50,172.55 L205.75,172.61 L206.00,172.67 L206.25,172.73 L206.50,172.79 L206.75,172.85 L207.00,172.90 L207.25,172.96 L207.50,173.01 L207.75,173.05 L208.00,173.10 L208.25,173.14 L208.50,173.18 L208.75,173.22 L209.00,173.26 L209.25,173.29 L209.50,173.32 L209.75,173.35 L210.00,173.38 L210.25,173.40 L210.50,173.42 L210.75,173.43 L211.00,173.45 L211.25,173.46 L211.50,173.47 L211.75,173.48 L212.00,173.48 L212.25,173.49 L212.50,173.49 L212.75,173.49 L213.00,173.48 L213.25,173.48 L213.50,173.48 L213.75,173.47 L214.00,173.47 L214.25,173.46 L214.50,173.45 L214.75,173.44 L215.00,173.43 L215.25,173.42 L215.50,173.41 L215.75,173.40 L216.00,173.39 L216.25,173.38 L216.50,173.37 L216.75,173.35 L217.00,173.34 L217.25,173.32 L217.50,173.31 L217.75,173.29 L218.00,173.27 L218.25,173.26 L218.50,173.24 L218.75,173.22 L219.00,173.20 L219.25,173.18 L219.50,173.16 L219.75,173.14 L220.00,173.12 L220.25,173.10 L220.50,173.08 L220.75,173.06 L221.00,173.04 L221.25,173.02 L221.50,172.99 L221.75,172.97 L222.00,172.95 L222.25,172.92 L222.50,172.90 L222.75,172.87 L223.00,172.85 L223.25,172.82 L223.50,172.80 L223.75,172.77 L224.00,172.75 L224.25,172.72 L224.50,172.70 L224.75,172.67 L225.00,172.64 L225.25,172.62 L225.50,172.59 L225.75,172.57 L226.00,172.54 L226.25,172.51 L226.50,172.49 L226.75,172.46 L227.00,172.43 L227.25,172.41 L227.50,172.38 L227.75,172.35 L228.00,172.32 L228.25,172.30 L228.50,172.27 L228.75,172.24 L229.00,172.22 L229.25,172.19 L229.50,172.17 L229.75,172.14 L230.00,172.11 L230.25,172.09 L230.50,172.06 L230.75,172.04 L231.00,172.01 L231.25,171.99 L231.50,171.96 L231.75,171.94 L232.00,171.91 L232.25,171.89 L232.50,171.86 L232.75,171.84 L233.00,171.82 L233.25,171.79 L233.50,171.77 L233.75,171.75 L234.00,171.73 L234.25,171.71 L234.50,171.68 L234.75,171.66 L235.00,171.64 L235.25,171.62 L235.50,171.60 L235.75,171.59 L236.00,171.57 L236.25,171.55 L236.50,171.53 L236.75,171.52 L237.00,171.50 L237.25,171.48 L237.50,171.47 L237.75,171.45 L238.00,171.44 L238.25,171.43 L238.50,171.41 L238.75,171.40 L239.00,171.39 L239.25,171.38 L239.50,171.37 L239.75,171.36 L240.00,171.35 L240.25,171.34 L240.50,171.34 L240.75,171.33 L241.00,171.32 L241.25,171.32 L241.50,171.32 L241.75,171.31 L242.00,171.31 L242.25,171.31 L242.50,171.31 L242.75,171.31 L243.00,171.31 L243.25,171.31 L243.50,171.31 L243.75,171.31 L244.00,171.31 L244.25,171.31 L244.50,171.31 L244.75,171.32 L245.00,171.32 L245.25,171.33 L245.50,171.33 L245.75,171.33 L246.00,171.34 L246.25,171.34 L246.50,171.35 L246.75,171.36 L247.00,171.36 L247.25,171.37 L247.50,171.38 L247.75,171.38 L248.00,171.39 L248.25,171.40 L248.50,171.41 L248.75,171.41 L249.00,171.42 L249.25,171.43 L249.50,171.44 L249.75,171.45 L250.00,171.46 L250.25,171.47 L250.50,171.48 L250.75,171.49 L251.00,171.50 L251.25,171.52 L251.50,171.53 L251.75,171.54 L252.00,171.55 L252.25,171.56 L252.50,171.58 L252.75,171.59 L253.00,171.60 L253.25,171.62 L253.50,171.63 L253.75,171.64 L254.00,171.66 L254.25,171.67 L254.50,171.69 L254.75,171.70 L255.00,171.72 L255.25,171.73 L255.50,171.75 L255.75,171.76 L256.00,171.78 L256.25,171.79 L256.50,171.81 L256.75,171.82 L257.00,171.84 L257.25,171.86 L257.50,171.87 L257.75,171.89 L258.00,171.91 L258.25,171.93 L258.50,171.94 L258.75,171.96 L259.00,171.98 L259.25,172.00 L259.50,172.01 L259.75,172.03 L260.00,172.05 L260.25,172.07 L260.50,172.09 L260.75,172.10 L261.00,172.12 L261.25,172.14 L261.50,172.16 L261.75,172.18 L262.00,172.20 L262.25,172.22 L262.50,172.24 L262.75,172.26 L263.00,172.27 L263.25,172.29 L263.50,172.31 L263.75,172.33 L264.00,172.35 L264.25,172.37 L264.50,172.39 L264.75,172.41 L265.00,172.43 L265.25,172.45 L265.50,172.47 L265.75,172.49 L266.00,172.51 L266.25,172.53 L266.50,172.55 L266.75,172.57 L267.00,172.59 L267.25,172.61 L267.50,172.63 L267.75,172.65 L268.00,172.67 L268.25,172.69 L268.50,172.71 L268.75,172.73 L269.00,172.75 L269.25,172.77 L269.50,172.79 L269.75,172.81 L270.00,172.83 L270.25,172.85 L270.50,172.87 L270.75,172.89 L271.00,172.91 L271.25,172.93 L271.50,172.94 L271.75,172.96 L272.00,172.98 L272.25,173.00 L272.50,173.02 L272.75,173.04 L273.00,173.06 L273.25,173.08 L273.50,173.10 L273.75,173.11 L274.00,173.13 L274.25,173.15 L274.50,173.17 L274.75,173.19 L275.00,173.21 L275.25,173.22 L275.50,173.24 L275.75,173.26 L276.00,173.28 L276.25,173.29 L276.50,173.31 L276.75,173.33 L277.00,173.35 L277.25,173.36 L277.50,173.38 L277.75,173.39 L278.00,173.41 L278.25,173.43 L278.50,173.44 L278.75,173.46 L279.00,173.47 L279.25,173.49 L279.50,173.50 L279.75,173.52 L280.00,173.54 L280.25,173.55 L280.50,173.56 L280.75,173.58 L281.00,173.59 L281.25,173.61 L281.50,173.62 L281.75,173.64 L282.00,173.65 L282.25,173.67 L282.50,173.68 L282.75,173.70 L283.00,173.71 L283.25,173.72 L283.50,173.74 L283.75,173.75 L284.00,173.77 L284.25,173.78 L284.50,173.79 L284.75,173.81 L285.00,173.82 L285.25,173.83 L285.50,173.85 L285.75,173.86 L286.00,173.88 L286.25,173.89 L286.50,173.90 L286.75,173.92 L287.00,173.93 L287.25,173.95 L287.50,173.96 L287.75,173.97 L288.00,173.99 L288.25,174.00 L288.50,174.01 L288.75,174.03 L289.00,174.04 L289.25,174.06 L289.50,174.07 L289.75,174.08 L290.00,174.10 L290.25,174.11 L290.50,174.12 L290.75,174.14 L291.00,174.15 L291.25,174.17 L291.50,174.18 L291.75,174.19 L292.00,174.21 L292.25,174.22 L292.50,174.24 L292.75,174.25 L293.00,174.27 L293.25,174.28 L293.50,174.30 L293.75,174.31 L294.00,174.32 L294.25,174.34 L294.50,174.35 L294.75,174.37 L295.00,174.38 L295.25,174.40 L295.50,174.41 L295.75,174.43 L296.00,174.44 L296.25,174.46 L296.50,174.48 L296.75,174.49 L297.00,174.51 L297.25,174.52 L297.50,174.54 L297.75,174.55 L298.00,174.57 L298.25,174.59 L298.50,174.60 L298.75,174.62 L299.00,174.64 L299.25,174.65 L299.50,174.67 L299.75,174.69 L300.00,174.71 L300.25,174.72 L300.50,174.74 L300.75,174.76 L301.00,174.78 L301.25,174.79 L301.50,174.81 L301.75,174.83 L302.00,174.85 L302.25,174.87 L302.50,174.89 L302.75,174.90 L303.00,174.92 L303.25,174.94 L303.50,174.96 L303.75,174.98 L304.00,175.00 L304.25,175.02 L304.50,175.04 L304.75,175.06 L305.00,175.09 L305.25,175.11 L305.50,175.13 L305.75,175.15 L306.00,175.17 L306.25,175.20 L306.50,175.22 L306.75,175.24 L307.00,175.27 L307.25,175.29 L307.50,175.31 L307.75,175.34 L308.00,175.36 L308.25,175.39 L308.50,175.41 L308.75,175.44 L309.00,175.46 L309.25,175.49 L309.50,175.52 L309.75,175.54 L310.00,175.57 L310.25,175.60 L310.50,175.62 L310.75,175.65 L311.00,175.68 L311.25,175.71 L311.50,175.74 L311.75,175.76 L312.00,175.79 L312.25,175.82 L312.50,175.85 L312.75,175.88 L313.00,175.91 L313.25,175.94 L313.50,175.97 L313.75,175.99 L314.00,176.02 L314.25,176.05 L314.50,176.08 L314.75,176.11 L315.00,176.14 L315.25,176.17 L315.50,176.20 L315.75,176.23 L316.00,176.27 L316.25,176.30 L316.50,176.33 L316.75,176.36 L317.00,176.39 L317.25,176.42 L317.50,176.45 L317.75,176.48 L318.00,176.51 L318.25,176.54 L318.50,176.57 L318.75,176.60 L319.00,176.63 L319.25,176.67 L319.50,176.70 L319.75,176.73 L320.00,176.76 L320.25,176.79 L320.50,176.82 L320.75,176.85 L321.00,176.88 L321.25,176.91 L321.50,176.94 L321.75,176.97 L322.00,177.01 L322.25,177.04 L322.50,177.07 L322.75,177.10 L323.00,177.13 L323.25,177.16 L323.50,177.19 L323.75,177.22 L324.00,177.25 L324.25,177.28 L324.50,177.31 L324.75,177.34 L325.00,177.37 L325.25,177.40 L325.50,177.43 L325.75,177.45 L326.00,177.47 L326.25,177.50 L326.50,177.51 L326.75,177.53 L327.00,177.55" stroke="#008000"/>
<path d="M27.00,267.64 L27.25,267.59 L27.50,267.54 L27.75,267.49 L28.00,267.41 L28.25,267.34 L28.50,267.27 L28.75,267.18 L29.00,267.09 L29.25,267.00 L29.50,266.91 L29.75,266.82 L30.00,266.73 L30.25,266.64 L30.50,266.55 L30.75,266.45 L31.00,266.36 L31.25,266.27 L31.50,266.18 L31.75,266.08 L32.00,265.99 L32.25,265.90 L32.50,265.80 L32.75,265.71 L33.00,265.62 L33.25,265.52 L33.50,265.43 L33.75,265.34 L34.00,265.25 L34.25,265.15 L34.50,265.06 L34.75,264.97 L35.00,264.88 L35.25,264.79 L35.50,264.70 L35.75,264.61 L36.00,264.52 L36.25,264.43 L36.50,264.34 L36.75,264.25 L37.00,264.17 L37.25,264.08 L37.50,264.00 L37.75,263.91 L38.00,263.83 L38.25,263.74 L38.50,263.66 L38.75,263.58 L39.00,263.50 L39.25,263.42 L39.50,263.35 L39.75,263.27 L40.00,263.19 L40.25,263.12 L40.50,263.05 L40.75,262.97 L41.00,262.90 L41.25,262.83 L41.50,262.77 L41.75,262.70 L42.00,262.64 L42.25,262.57 L42.50,262.41 L42.75,261.96 L43.00,261.20 L43.25,260.15 L43.50,258.79 L43.75,257.14 L44.00,255.18 L44.25,252.92 L44.50,250.36 L44.75,247.50 L45.00,244.34 L45.20,241.60 L45.25,242.28 L45.50,245.53 L45.75,248.47 L46.00,251.12 L46.25,253.46 L46.50,255.51 L46.75,257.25 L47.00,258.70 L47.25,259.84 L47.50,260.68 L47.75,261.23 L48.00,261.47 L48.25,261.47 L48.50,261.44 L48.75,261.42 L49.00,261.40 L49.25,261.38 L49.50,261.36 L49.75,261.34 L50.00,261.32 L50.25,261.30 L50.50,261.28 L50.75,261.26 L51.00,261.25 L51.25,261.23 L51.50,261.21 L51.75,261.19 L52.00,261.17 L52.25,261.16 L52.50,261.14 L52.75,261.12 L53.00,261.10 L53.25,261.07 L53.50,261.05 L53.75,261.03 L54.00,261.00 L54.25,260.97 L54.50,260.94 L54.75,260.91 L55.00,260.88 L55.25,260.83 L55.50,260.78 L55.75,260.72 L56.00,260.65 L56.25,260.58 L56.50,260.49 L56.75,260.40 L57.00,260.31 L57.25,260.21 L57.50,260.04 L57.75,259.75 L58.00,259.33 L58.25,258.80 L58.50,258.16 L58.75,257.40 L59.00,256.53 L59.25,255.56 L59.50,254.48 L59.75,253.30 L60.00,252.00 L60.25,250.61 L60.50,249.10 L60.75,247.49 L61.00,245.76 L61.25,243.91 L61.50,241.95 L61.75,239.87 L62.00,237.68 L62.25,235.37 L62.50,232.93 L62.75,230.38 L63.00,227.70 L63.25,230.62 L63.50,233.42 L63.75,236.09 L64.00,238.64 L64.25,241.06 L64.50,243.35 L64.75,245.52 L65.00,247.55 L65.25,249.46 L65.50,251.23 L65.75,252.87 L66.00,254.38 L66.25,255.76 L66.50,257.00 L66.75,258.10 L67.00,259.08 L67.25,259.92 L67.50,260.62 L67.75,261.19 L68.00,261.63 L68.25,261.93 L68.50,262.09 L68.75,262.13 L69.00,262.07 L69.25,261.99 L69.50,261.91 L69.75,261.82 L70.00,261.72 L70.25,261.61 L70.50,261.50 L70.75,261.37 L71.00,261.24 L71.25,261.11 L71.50,260.96 L71.75,260.81 L72.00,260.66 L72.25,260.49 L72.50,260.33 L72.75,260.15 L73.00,259.97 L73.25,259.79 L73.50,259.61 L73.75,259.42 L74.00,259.22 L74.25,259.02 L74.50,258.82 L74.75,258.62 L75.00,258.42 L75.25,258.21 L75.50,258.00 L75.75,257.79 L76.00,257.58 L76.25,257.36 L76.50,257.14 L76.75,256.90 L77.00,256.66 L77.25,256.40 L77.50,256.13 L77.75,255.84 L78.00,255.54 L78.25,255.22 L78.50,254.89 L78.75,254.54 L79.00,254.18 L79.25,253.81 L79.50,253.42 L79.75,253.03 L80.00,252.63 L80.25,252.24 L80.50,251.85 L80.75,251.48 L81.00,251.13 L81.25,250.81 L81.50,250.52 L81.75,250.26 L82.00,250.04 L82.25,249.84 L82.50,249.53 L82.75,249.08 L83.00,248.48 L83.25,247.73 L83.50,246.84 L83.75,245.79 L84.00,244.60 L84.25,243.26 L84.50,241.76 L84.75,240.11 L85.00,238.29 L85.25,236.31 L85.50,234.16 L85.75,231.84 L86.00,229.34 L86.25,226.66 L86.50,223.80 L86.75,226.93 L87.00,229.93 L87.25,232.79 L87.50,235.50 L87.75,238.06 L88.00,240.47 L88.25,242.72 L88.50,244.82 L88.75,246.76 L89.00,248.54 L89.25,250.16 L89.50,251.62 L89.75,252.93 L90.00,254.08 L90.25,255.06 L90.50,255.90 L90.75,256.58 L91.00,257.10 L91.25,257.47 L91.50,257.68 L91.75,257.78 L92.00,257.86 L92.25,257.94 L92.50,258.01 L92.75,258.07 L93.00,258.12 L93.25,258.17 L93.50,258.21 L93.75,258.25 L94.00,258.28 L94.25,258.30 L94.50,258.32 L94.75,258.34 L95.00,258.35 L95.25,258.36 L95.50,258.37 L95.75,258.38 L96.00,258.39 L96.25,258.40 L96.50,258.41 L96.75,258.42 L97.00,258.42 L97.25,258.43 L97.50,258.44 L97.75,258.45 L98.00,258.46 L98.25,258.47 L98.50,258.48 L98.75,258.48 L99.00,258.49 L99.25,258.50 L99.50,258.51 L99.75,258.51 L100.00,258.52 L100.25,258.53 L100.50,258.54 L100.75,258.54 L101.00,258.55 L101.25,258.56 L101.50,258.57 L101.75,258.57 L102.00,258.58 L102.25,258.59 L102.50,258.59 L102.75,258.60 L103.00,258.61 L103.25,258.61 L103.50,258.62 L103.75,258.63 L104.00,258.63 L104.25,258.64 L104.50,258.64 L104.75,258.65 L105.00,258.66 L105.25,258.66 L105.50,258.67 L105.75,258.67 L106.00,258.68 L106.25,258.68 L106.50,258.69 L106.75,258.69 L107.00,258.70 L107.25,258.70 L107.50,258.71 L107.75,258.71 L108.00,258.72 L108.25,258.72 L108.50,258.73 L108.75,258.73 L109.00,258.74 L109.25,258.74 L109.50,258.75 L109.75,258.75 L110.00,258.75 L110.25,258.76 L110.50,258.76 L110.75,258.77 L111.00,258.77 L111.25,258.77 L111.50,258.78 L111.75,258.78 L112.00,258.79 L112.25,258.79 L112.50,258.79 L112.75,258.80 L113.00,258.80 L113.25,258.80 L113.50,258.81 L113.75,258.81 L114.00,258.81 L114.25,258.81 L114.50,258.82 L114.75,258.82 L115.00,258.82 L115.25,258.83 L115.50,258.83 L115.75,258.83 L116.00,258.83 L116.25,258.84 L116.50,258.84 L116.75,258.84 L117.00,258.84 L117.25,258.85 L117.50,258.85 L117.75,258.85 L118.00,258.85 L118.25,258.85 L118.50,258.86 L118.75,258.86 L119.00,258.86 L119.25,258.86 L119.50,258.86 L119.75,258.87 L120.00,258.87 L120.25,258.87 L120.50,258.87 L120.75,258.87 L121.00,258.87 L121.25,258.87 L121.50,258.88 L121.75,258.88 L122.00,258.88 L122.25,258.88 L122.50,258.88 L122.75,258.88 L123.00,258.88 L123.25,258.88 L123.50,258.89 L123.75,258.89 L124.00,258.89 L124.25,258.89 L124.50,258.89 L124.75,258.89 L125.00,258.89 L125.25,258.89 L125.50,258.89 L125.75,258.89 L126.00,258.89 L126.25,258.89 L126.50,258.90 L126.75,258.90 L127.00,258.90 L127.25,258.90 L127.50,258.90 L127.75,258.90 L128.00,258.90 L128.25,258.90 L128.50,258.90 L128.75,258.90 L129.00,258.90 L129.25,258.90 L129.50,258.90 L129.75,258.90 L130.00,258.77 L130.25,258.31 L130.50,257.52 L130.75,256.41 L131.00,254.97 L131.25,253.21 L131.50,251.11 L131.75,248.69 L132.00,245.94 L132.25,242.87 L132.50,239.46 L132.75,235.73 L133.00,231.67 L133.25,227.29 L133.40,224.50 L133.50,225.67 L133.75,228.50 L134.00,231.20 L134.25,233.78 L134.50,236.22 L134.75,238.54 L135.00,240.73 L135.25,242.80 L135.50,244.73 L135.75,246.54 L136.00,248.22 L136.25,249.77 L136.50,251.20 L136.75,252.50 L137.00,253.67 L137.25,254.72 L137.50,255.63 L137.75,256.43 L138.00,257.09 L138.25,257.63 L138.50,258.04 L138.75,258.33 L139.00,258.49 L139.25,258.53 L139.50,258.53 L139.75,258.54 L140.00,258.55 L140.25,258.56 L140.50,258.58 L140.75,258.61 L141.00,258.64 L141.25,258.67 L141.50,258.71 L141.75,258.76 L142.00,258.81 L142.25,258.86 L142.50,258.92 L142.75,258.98 L143.00,259.04 L143.25,259.11 L143.50,259.18 L143.75,259.24 L144.00,259.31 L144.25,259.37 L144.50,259.44 L144.75,259.50 L145.00,259.56 L145.25,259.62 L145.50,259.67 L145.75,259.73 L146.00,259.78 L146.25,259.83 L146.50,259.87 L146.75,259.92 L147.00,259.96 L147.25,260.01 L147.50,260.05 L147.75,260.09 L148.00,260.13 L148.25,260.17 L148.50,260.22 L148.75,260.26 L149.00,260.30 L149.25,260.34 L149.50,260.38 L149.75,260.42 L150.00,260.46 L150.25,260.50 L150.50,260.54 L150.75,260.57 L151.00,260.61 L151.25,260.65 L151.50,260.68 L151.75,260.72 L152.00,260.75 L152.25,260.78 L152.50,260.81 L152.75,260.84 L153.00,260.87 L153.25,260.90 L153.50,260.92 L153.75,260.94 L154.00,260.97 L154.25,260.99 L154.50,261.00 L154.75,261.02 L155.00,261.04 L155.25,261.05 L155.50,261.06 L155.75,261.07 L156.00,261.07 L156.25,261.08 L156.50,261.08 L156.75,261.08 L157.00,261.08 L157.25,261.08 L157.50,261.08 L157.75,261.07 L158.00,261.06 L158.25,261.05 L158.50,261.04 L158.75,261.03 L159.00,261.02 L159.25,261.00 L159.50,260.98 L159.75,260.97 L160.00,260.95 L160.25,260.93 L160.50,260.91 L160.75,260.88 L161.00,260.86 L161.25,260.84 L161.50,260.81 L161.75,260.78 L162.00,260.76 L162.25,260.73 L162.50,260.70 L162.75,260.67 L163.00,260.63 L163.25,260.60 L163.50,260.57 L163.75,260.53 L164.00,260.50 L164.25,260.46 L164.50,260.43 L164.75,260.39 L165.00,260.35 L165.25,260.31 L165.50,260.27 L165.75,260.23 L166.00,260.19 L166.25,260.15 L166.50,260.11 L166.75,260.07 L167.00,260.02 L167.25,259.98 L167.50,259.94 L167.75,259.89 L168.00,259.85 L168.25,259.81 L168.50,259.76 L168.75,259.72 L169.00,259.67 L169.25,259.63 L169.50,259.58 L169.75,259.54 L170.00,259.49 L170.25,259.45 L170.50,259.40 L170.75,259.35 L171.00,259.31 L171.25,259.26 L171.50,259.22 L171.75,259.17 L172.00,259.13 L172.25,259.08 L172.50,259.04 L172.75,258.99 L173.00,258.95 L173.25,258.91 L173.50,258.86 L173.75,258.82 L174.00,258.78 L174.25,258.73 L174.50,258.69 L174.75,258.65 L175.00,258.61 L175.25,258.57 L175.50,258.53 L175.75,258.49 L176.00,258.45 L176.25,258.41 L176.50,258.37 L176.75,258.34 L177.00,258.30 L177.25,258.27 L177.50,258.23 L177.75,258.20 L178.00,258.17 L178.25,258.13 L178.50,258.10 L178.75,258.07 L179.00,258.04 L179.25,258.02 L179.50,257.99 L179.75,257.96 L180.00,257.94 L180.25,257.92 L180.50,257.89 L180.75,257.87 L181.00,257.85 L181.25,257.83 L181.50,257.82 L181.75,257.80 L182.00,257.78 L182.25,257.77 L182.50,257.76 L182.75,257.75 L183.00,257.74 L183.25,257.73 L183.50,257.73 L183.75,257.72 L184.00,257.72 L184.25,257.72 L184.50,257.72 L184.75,257.73 L185.00,257.73 L185.25,257.74 L185.50,257.75 L185.75,257.77 L186.00,257.79 L186.25,257.81 L186.50,257.83 L186.75,257.85 L187.00,257.88 L187.25,257.91 L187.50,257.94 L187.75,257.98 L188.00,258.02 L188.25,258.06 L188.50,258.10 L188.75,258.14 L189.00,258.19 L189.25,258.24 L189.50,258.29 L189.75,258.34 L190.00,258.40 L190.25,258.45 L190.50,258.51 L190.75,258.57 L191.00,258.63 L191.25,258.70 L191.50,258.76 L191.75,258.83 L192.00,258.90 L192.25,258.97 L192.50,259.04 L192.75,259.11 L193.00,259.18 L193.25,259.26 L193.50,259.34 L193.75,259.41 L194.00,259.49 L194.25,259.57 L194.50,259.65 L194.75,259.73 L195.00,259.82 L195.25,259.90 L195.50,259.99 L195.75,260.07 L196.00,260.16 L196.25,260.24 L196.50,260.33 L196.75,260.42 L197.00,260.50 L197.25,260.59 L197.50,260.68 L197.75,260.77 L198.00,260.86 L198.25,260.95 L198.50,261.04 L198.75,261.13 L199.00,261.22 L199.25,261.31 L199.50,261.40 L199.75,261.49 L200.00,261.58 L200.25,261.67 L200.50,261.75 L200.75,261.84 L201.00,261.93 L201.25,262.02 L201.50,262.11 L201.75,262.19 L202.00,262.28 L202.25,262.36 L202.50,262.45 L202.75,262.53 L203.00,262.62 L203.25,262.70 L203.50,262.78 L203.75,262.86 L204.00,262.94 L204.25,263.02 L204.50,263.09 L204.75,263.17 L205.00,263.25 L205.25,263.32 L205.50,263.39 L205.75,263.46 L206.00,263.53 L206.25,263.60 L206.50,263.67 L206.75,263.73 L207.00,263.79 L207.25,263.85 L207.50,263.91 L207.75,263.97 L208.00,264.03 L208.25,264.08 L208.50,264.13 L208.75,264.18 L209.00,264.23 L209.25,264.28 L209.50,264.32 L209.75,264.36 L210.00,264.40 L210.25,264.44 L210.50,264.47 L210.75,264.50 L211.00,264.53 L211.25,264.56 L211.50,264.58 L211.75,264.60 L212.00,264.62 L212.25,264.64 L212.50,264.65 L212.75,264.66 L213.00,264.67 L213.25,264.68 L213.50,264.68 L213.75,264.69 L214.00,264.69 L214.25,264.69 L214.50,264.68 L214.75,264.68 L215.00,264.68 L215.25,264.67 L215.50,264.67 L215.75,264.66 L216.00,264.65 L216.25,264.64 L216.50,264.63 L216.75,264.62 L217.00,264.61 L217.25,264.60 L217.50,264.59 L217.75,264.58 L218.00,264.57 L218.25,264.55 L218.50,264.54 L218.75,264.52 L219.00,264.51 L219.25,264.49 L219.50,264.48 L219.75,264.46 L220.00,264.44 L220.25,264.42 L220.50,264.40 L220.75,264.39 L221.00,264.37 L221.25,264.35 L221.50,264.33 L221.75,264.31 L222.00,264.28 L222.25,264.26 L222.50,264.24 L222.75,264.22 L223.00,264.20 L223.25,264.17 L223.50,264.15 L223.75,264.13 L224.00,264.10 L224.25,264.08 L224.50,264.06 L224.75,264.03 L225.00,264.01 L225.25,263.98 L225.50,263.96 L225.75,263.93 L226.00,263.91 L226.25,263.88 L226.50,263.86 L226.75,263.83 L227.00,263.81 L227.25,263.78 L227.50,263.76 L227.75,263.73 L228.00,263.71 L228.25,263.68 L228.50,263.65 L228.75,263.63 L229.00,263.60 L229.25,263.58 L229.50,263.55 L229.75,263.53 L230.00,263.50 L230.25,263.48 L230.50,263.45 L230.75,263.43 L231.00,263.40 L231.25,263.38 L231.50,263.35 L231.75,263.33 L232.00,263.30 L232.25,263.28 L232.50,263.26 L232.75,263.23 L233.00,263.21 L233.25,263.19 L233.50,263.17 L233.75,263.15 L234.00,263.12 L234.25,263.10 L234.50,263.08 L234.75,263.06 L235.00,263.04 L235.25,263.02 L235.50,263.00 L235.75,262.98 L236.00,262.97 L236.25,262.95 L236.50,262.93 L236.75,262.91 L237.00,262.90 L237.25,262.88 L237.50,262.87 L237.75,262.85 L238.00,262.84 L238.25,262.83 L238.50,262.81 L238.75,262.80 L239.00,262.79 L239.25,262.78 L239.50,262.77 L239.75,262.76 L240.00,262.75 L240.25,262.74 L240.50,262.74 L240.75,262.73 L241.00,262.72 L241.25,262.72 L241.50,262.72 L241.75,262.71 L242.00,262.71 L242.25,262.71 L242.50,262.71 L242.75,262.71 L243.00,262.71 L243.25,262.71 L243.50,262.71 L243.75,262.72 L244.00,262.72 L244.25,262.73 L244.50,262.73 L244.75,262.74 L245.00,262.75 L245.25,262.76 L245.50,262.77 L245.75,262.78 L246.00,262.79 L246.25,262.80 L246.50,262.81 L246.75,262.82 L247.00,262.84 L247.25,262.85 L247.50,262.87 L247.75,262.88 L248.00,262.90 L248.25,262.92 L248.50,262.93 L248.75,262.95 L249.00,262.97 L249.25,262.99 L249.50,263.01 L249.75,263.03 L250.00,263.05 L250.25,263.07 L250.50,263.09 L250.75,263.11 L251.00,263.14 L251.25,263.16 L251.50,263.18 L251.75,263.21 L252.00,263.23 L252.25,263.25 L252.50,263.28 L252.75,263.30 L253.00,263.33 L253.25,263.35 L253.50,263.38 L253.75,263.40 L254.00,263.43 L254.25,263.46 L254.50,263.48 L254.75,263.51 L255.00,263.54 L255.25,263.56 L255.50,263.59 L255.75,263.62 L256.00,263.64 L256.25,263.67 L256.50,263.70 L256.75,263.73 L257.00,263.75 L257.25,263.78 L257.50,263.81 L257.75,263.83 L258.00,263.86 L258.25,263.89 L258.50,263.92 L258.75,263.94 L259.00,263.97 L259.25,264.00 L259.50,264.02 L259.75,264.05 L260.00,264.07 L260.25,264.10 L260.50,264.13 L260.75,264.15 L261.00,264.18 L261.25,264.20 L261.50,264.23 L261.75,264.25 L262.00,264.27 L262.25,264.30 L262.50,264.32 L262.75,264.34 L263.00,264.37 L263.25,264.39 L263.50,264.41 L263.75,264.43 L264.00,264.45 L264.25,264.47 L264.50,264.49 L264.75,264.51 L265.00,264.53 L265.25,264.55 L265.50,264.57 L265.75,264.59 L266.00,264.60 L266.25,264.62 L266.50,264.63 L266.75,264.65 L267.00,264.66 L267.25,264.68 L267.50,264.69 L267.75,264.70 L268.00,264.72 L268.25,264.73 L268.50,264.74 L268.75,264.75 L269.00,264.76 L269.25,264.77 L269.50,264.79 L269.75,264.80 L270.00,264.81 L270.25,264.82 L270.50,264.83 L270.75,264.84 L271.00,264.85 L271.25,264.86 L271.50,264.87 L271.75,264.88 L272.00,264.88 L272.25,264.89 L272.50,264.90 L272.75,264.91 L273.00,264.92 L273.25,264.93 L273.50,264.94 L273.75,264.95 L274.00,264.95 L274.25,264.96 L274.50,264.97 L274.75,264.98 L275.00,264.99 L275.25,264.99 L275.50,265.00 L275.75,265.01 L276.00,265.02 L276.25,265.02 L276.50,265.03 L276.75,265.04 L277.00,265.05 L277.25,265.05 L277.50,265.06 L277.75,265.07 L278.00,265.08 L278.25,265.08 L278.50,265.09 L278.75,265.10 L279.00,265.11 L279.25,265.11 L279.50,265.12 L279.75,265.13 L280.00,265.14 L280.25,265.14 L280.50,265.15 L280.75,265.16 L281.00,265.17 L281.25,265.17 L281.50,265.18 L281.75,265.19 L282.00,265.20 L282.25,265.20 L282.50,265.21 L282.75,265.22 L283.00,265.23 L283.25,265.24 L283.50,265.25 L283.75,265.25 L284.00,265.26 L284.25,265.27 L284.50,265.28 L284.75,265.29 L285.00,265.30 L285.25,265.31 L285.50,265.32 L285.75,265.33 L286.00,265.33 L286.25,265.34 L286.50,265.35 L286.75,265.36 L287.00,265.37 L287.25,265.38 L287.50,265.40 L287.75,265.41 L288.00,265.42 L288.25,265.43 L288.50,265.44 L288.75,265.45 L289.00,265.46 L289.25,265.48 L289.50,265.49 L289.75,265.50 L290.00,265.51 L290.25,265.53 L290.50,265.54 L290.75,265.55 L291.00,265.57 L291.25,265.58 L291.50,265.59 L291.75,265.61 L292.00,265.62 L292.25,265.64 L292.50,265.65 L292.75,265.67 L293.00,265.69 L293.25,265.70 L293.50,265.72 L293.75,265.74 L294.00,265.75 L294.25,265.77 L294.50,265.79 L294.75,265.80 L295.00,265.82 L295.25,265.84 L295.50,265.86 L295.75,265.88 L296.00,265.90 L296.25,265.92 L296.50,265.93 L296.75,265.95 L297.00,265.97 L297.25,265.99 L297.50,266.01 L297.75,266.03 L298.00,266.05 L298.25,266.08 L298.50,266.10 L298.75,266.12 L299.00,266.14 L299.25,266.16 L299.50,266.18 L299.75,266.20 L300.00,266.23 L300.25,266.25 L300.50,266.27 L300.75,266.29 L301.00,266.32 L301.25,266.34 L301.50,266.36 L301.75,266.38 L302.00,266.41 L302.25,266.43 L302.50,266.45 L302.75,266.48 L303.00,266.50 L303.25,266.53 L303.50,266.55 L303.75,266.57 L304.00,266.60 L304.25,266.62 L304.50,266.65 L304.75,266.67 L305.00,266.70 L305.25,266.72 L305.50,266.75 L305.75,266.77 L306.00,266.80 L306.25,266.82 L306.50,266.85 L306.75,266.88 L307.00,266.90 L307.25,266.93 L307.50,266.95 L307.75,266.98 L308.00,267.00 L308.25,267.03 L308.50,267.06 L308.75,267.08 L309.00,267.11 L309.25,267.14 L309.50,267.16 L309.75,267.19 L310.00,267.22 L310.25,267.24 L310.50,267.27 L310.75,267.30 L311.00,267.32 L311.25,267.35 L311.50,267.38 L311.75,267.40 L312.00,267.43 L312.25,267.46 L312.50,267.48 L312.75,267.51 L313.00,267.54 L313.25,267.57 L313.50,267.59 L313.75,267.62 L314.00,267.65 L314.25,267.67 L314.50,267.70 L314.75,267.73 L315.00,267.76 L315.25,267.78 L315.50,267.81 L315.75,267.84 L316.00,267.86 L316.25,267.89 L316.50,267.92 L316.75,267.95 L317.00,267.97 L317.25,268.00 L317.50,268.03 L317.75,268.05 L318.00,268.08 L318.25,268.11 L318.50,268.13 L318.75,268.16 L319.00,268.19 L319.25,268.21 L319.50,268.24 L319.75,268.27 L320.00,268.29 L320.25,268.32 L320.50,268.35 L320.75,268.37 L321.00,268.40 L321.25,268.43 L321.50,268.45 L321.75,268.48 L322.00,268.50 L322.25,268.53 L322.50,268.55 L322.75,268.58 L323.00,268.61 L323.25,268.63 L323.50,268.66 L323.75,268.68 L324.00,268.71 L324.25,268.73 L324.50,268.76 L324.75,268.78 L325.00,268.81 L325.25,268.83 L325.50,268.86 L325.75,268.87 L326.00,268.89 L326.25,268.91 L326.50,268.93 L326.75,268.94 L327.00,268.96" stroke="#0000ff"/>
<path d="M27.00,362.21 L27.25,361.88 L27.50,361.24 L27.75,360.30 L28.00,359.04 L28.25,357.47 L28.50,355.60 L28.75,353.40 L29.00,350.90 L29.25,348.09 L29.50,344.97 L29.75,341.54 L30.00,337.81 L30.25,333.76 L30.50,329.40 L30.75,334.26 L31.00,338.72 L31.25,342.78 L31.50,346.44 L31.75,349.70 L32.00,352.55 L32.25,355.01 L32.50,357.06 L32.75,358.71 L33.00,359.96 L33.25,360.81 L33.50,361.25 L33.75,361.30 L34.00,361.24 L34.25,361.16 L34.50,361.09 L34.75,361.01 L35.00,360.92 L35.25,360.83 L35.50,360.74 L35.75,360.64 L36.00,360.54 L36.25,360.43 L36.50,360.33 L36.75,360.22 L37.00,360.11 L37.25,359.99 L37.50,359.88 L37.75,359.76 L38.00,359.65 L38.25,359.53 L38.50,359.41 L38.75,359.29 L39.00,359.18 L39.25,359.06 L39.50,358.95 L39.75,358.84 L40.00,358.72 L40.25,358.62 L40.50,358.51 L40.75,358.41 L41.00,358.30 L41.25,358.20 L41.50,358.11 L41.75,358.01 L42.00,357.92 L42.25,357.82 L42.50,357.73 L42.75,357.64 L43.00,357.56 L43.25,357.47 L43.50,357.38 L43.75,357.30 L44.00,357.21 L44.25,357.13 L44.50,357.04 L44.75,356.96 L45.00,356.88 L45.25,356.80 L45.50,356.72 L45.75,356.64 L46.00,356.57 L46.25,356.49 L46.50,356.42 L46.75,356.35 L47.00,356.28 L47.25,356.22 L47.50,356.16 L47.75,356.10 L48.00,356.04 L48.25,355.99 L48.50,355.94 L48.75,355.89 L49.00,355.84 L49.25,355.80 L49.50,355.66 L49.75,355.22 L50.00,354.48 L50.25,353.43 L50.50,352.07 L50.75,350.41 L51.00,348.44 L51.25,346.16 L51.50,343.57 L51.75,340.68 L52.00,337.48 L52.20,334.70 L52.25,335.40 L52.50,338.74 L52.75,341.76 L53.00,344.48 L53.25,346.89 L53.50,348.99 L53.75,350.78 L54.00,352.27 L54.25,353.44 L54.50,354.31 L54.75,354.86 L55.00,355.11 L55.25,355.11 L55.50,355.08 L55.75,355.05 L56.00,355.02 L56.25,354.98 L56.50,354.95 L56.75,354.92 L57.00,354.89 L57.25,354.86 L57.50,354.83 L57.75,354.79 L58.00,354.76 L58.25,354.73 L58.50,354.69 L58.75,354.66 L59.00,354.63 L59.25,354.59 L59.50,354.56 L59.75,354.53 L60.00,354.49 L60.25,354.46 L60.50,354.42 L60.75,354.39 L61.00,354.36 L61.25,354.32 L61.50,354.29 L61.75,354.25 L62.00,354.22 L62.25,354.19 L62.50,354.15 L62.75,354.12 L63.00,354.08 L63.25,354.05 L63.50,354.01 L63.75,353.98 L64.00,353.95 L64.25,353.91 L64.50,353.88 L64.75,353.84 L65.00,353.81 L65.25,353.78 L65.50,353.74 L65.75,353.71 L66.00,353.67 L66.25,353.64 L66.50,353.61 L66.75,353.58 L67.00,353.54 L67.25,353.51 L67.50,353.48 L67.75,353.45 L68.00,353.41 L68.25,353.38 L68.50,353.35 L68.75,353.32 L69.00,353.29 L69.25,353.26 L69.50,353.23 L69.75,353.20 L70.00,353.17 L70.25,353.14 L70.50,353.11 L70.75,353.08 L71.00,353.05 L71.25,353.02 L71.50,352.99 L71.75,352.96 L72.00,352.94 L72.25,352.91 L72.50,352.88 L72.75,352.86 L73.00,352.83 L73.25,352.81 L73.50,352.78 L73.75,352.76 L74.00,352.73 L74.25,352.71 L74.50,352.69 L74.75,352.67 L75.00,352.64 L75.25,352.62 L75.50,352.60 L75.75,352.58 L76.00,352.56 L76.25,352.54 L76.50,352.52 L76.75,352.50 L77.00,352.48 L77.25,352.46 L77.50,352.44 L77.75,352.42 L78.00,352.41 L78.25,352.39 L78.50,352.37 L78.75,352.35 L79.00,352.33 L79.25,352.31 L79.50,352.30 L79.75,352.28 L80.00,352.26 L80.25,352.24 L80.50,352.23 L80.75,352.21 L81.00,352.19 L81.25,352.17 L81.50,352.15 L81.75,352.14 L82.00,352.12 L82.25,352.10 L82.50,352.08 L82.75,352.06 L83.00,352.04 L83.25,352.02 L83.50,352.01 L83.75,351.99 L84.00,351.97 L84.25,351.95 L84.50,351.93 L84.75,351.91 L85.00,351.88 L85.25,351.86 L85.50,351.84 L85.75,351.82 L86.00,351.80 L86.25,351.77 L86.50,351.75 L86.75,351.73 L87.00,351.70 L87.25,351.68 L87.50,351.65 L87.75,351.62 L88.00,351.60 L88.25,351.57 L88.50,351.54 L88.75,351.51 L89.00,351.48 L89.25,351.45 L89.50,351.42 L89.75,351.39 L90.00,351.36 L90.25,351.33 L90.50,351.29 L90.75,351.26 L91.00,351.22 L91.25,351.19 L91.50,351.15 L91.75,351.02 L92.00,350.51 L92.25,349.58 L92.50,348.23 L92.75,346.47 L93.00,344.29 L93.25,341.69 L93.50,338.67 L93.75,335.24 L94.00,331.38 L94.20,328.00 L94.25,328.84 L94.50,332.81 L94.75,336.36 L95.00,339.48 L95.25,342.18 L95.50,344.44 L95.75,346.28 L96.00,347.68 L96.25,348.65 L96.50,349.19 L96.75,349.28 L97.00,349.06 L97.25,348.81 L97.50,348.53 L97.75,348.24 L98.00,347.93 L98.25,347.60 L98.50,347.25 L98.75,346.90 L99.00,346.55 L99.25,346.21 L99.50,345.87 L99.75,345.55 L100.00,345.26 L100.25,344.99 L100.50,344.75 L100.75,344.53 L101.00,344.23 L101.25,343.81 L101.50,343.26 L101.75,342.58 L102.00,341.78 L102.25,340.86 L102.50,339.81 L102.75,338.63 L103.00,337.31 L103.25,335.86 L103.50,334.27 L103.75,332.53 L104.00,330.65 L104.25,328.62 L104.30,328.20 L104.50,329.38 L104.75,330.80 L105.00,332.17 L105.25,333.48 L105.50,334.74 L105.75,335.94 L106.00,337.09 L106.25,338.18 L106.50,339.21 L106.75,340.19 L107.00,341.10 L107.25,341.96 L107.50,342.75 L107.75,343.49 L108.00,344.16 L108.25,344.77 L108.50,345.32 L108.75,345.81 L109.00,346.23 L109.25,346.60 L109.50,346.90 L109.75,347.14 L110.00,347.33 L110.25,347.47 L110.50,347.61 L110.75,346.39 L111.00,342.71 L111.25,336.56 L111.50,326.46 L111.75,331.52 L112.00,331.76 L112.25,327.18 L112.50,317.76 L112.75,304.61 L113.00,289.08 L113.10,282.20 L113.25,290.80 L113.50,303.89 L113.75,315.40 L114.00,325.34 L114.25,333.71 L114.50,340.50 L114.75,345.71 L115.00,349.35 L115.25,351.40 L115.50,351.95 L115.75,352.13 L116.00,352.29 L116.25,352.44 L116.50,352.58 L116.75,352.70 L117.00,352.81 L117.25,352.92 L117.50,353.01 L117.75,353.10 L118.00,353.17 L118.25,353.24 L118.50,353.29 L118.75,353.34 L119.00,353.38 L119.25,353.41 L119.50,353.43 L119.75,353.45 L120.00,353.47 L120.25,353.48 L120.50,353.50 L120.75,353.51 L121.00,353.52 L121.25,353.53 L121.50,353.54 L121.75,353.56 L122.00,353.57 L122.25,353.58 L122.50,353.59 L122.75,353.60 L123.00,353.61 L123.25,353.62 L123.50,353.63 L123.75,353.64 L124.00,353.65 L124.25,353.66 L124.50,353.67 L124.75,353.68 L125.00,353.69 L125.25,353.70 L125.50,353.70 L125.75,353.71 L126.00,353.72 L126.25,353.73 L126.50,353.74 L126.75,353.75 L127.00,353.75 L127.25,353.76 L127.50,353.77 L127.75,353.78 L128.00,353.78 L128.25,353.79 L128.50,353.80 L128.75,353.80 L129.00,353.81 L129.25,353.82 L129.50,353.82 L129.75,353.83 L130.00,353.84 L130.25,353.84 L130.50,353.85 L130.75,353.85 L131.00,353.86 L131.25,353.86 L131.50,353.87 L131.75,353.87 L132.00,353.88 L132.25,353.88 L132.50,353.89 L132.75,353.89 L133.00,353.90 L133.25,353.90 L133.50,353.91 L133.75,353.91 L134.00,353.92 L134.25,353.92 L134.50,353.92 L134.75,353.93 L135.00,353.93 L135.25,353.93 L135.50,353.94 L135.75,353.94 L136.00,353.94 L136.25,353.95 L136.50,353.95 L136.75,353.95 L137.00,353.96 L137.25,353.96 L137.50,353.96 L137.75,353.96 L138.00,353.97 L138.25,353.97 L138.50,353.97 L138.75,353.97 L139.00,353.97 L139.25,353.98 L139.50,353.98 L139.75,353.98 L140.00,353.98 L140.25,353.98 L140.50,353.98 L140.75,353.99 L141.00,353.99 L141.25,353.99 L141.50,353.99 L141.75,353.99 L142.00,353.99 L142.25,353.99 L142.50,353.99 L142.75,353.99 L143.00,354.00 L143.25,354.00 L143.50,354.00 L143.75,354.00 L144.00,354.00 L144.25,354.00 L144.50,354.00 L144.75,354.00 L145.00,354.00 L145.25,354.00 L145.50,354.00 L145.75,354.00 L146.00,354.00 L146.25,354.00 L146.50,354.00 L146.75,354.00 L147.00,354.00 L147.25,354.00 L147.50,353.99 L147.75,353.99 L148.00,353.99 L148.25,353.99 L148.50,353.99 L148.75,353.98 L149.00,353.98 L149.25,353.98 L149.50,353.98 L149.75,353.97 L150.00,353.97 L150.25,353.97 L150.50,353.96 L150.75,353.96 L151.00,353.95 L151.25,353.95 L151.50,353.95 L151.75,353.94 L152.00,353.94 L152.25,353.93 L152.50,353.93 L152.75,353.92 L153.00,353.92 L153.25,353.91 L153.50,353.91 L153.75,353.90 L154.00,353.89 L154.25,353.89 L154.50,353.88 L154.75,353.88 L155.00,353.87 L155.25,353.86 L155.50,353.86 L155.75,353.85 L156.00,353.84 L156.25,353.84 L156.50,353.83 L156.75,353.82 L157.00,353.82 L157.25,353.81 L157.50,353.80 L157.75,353.79 L158.00,353.79 L158.25,353.78 L158.50,353.77 L158.75,353.76 L159.00,353.76 L159.25,353.75 L159.50,353.74 L159.75,353.73 L160.00,353.73 L160.25,353.72 L160.50,353.71 L160.75,353.70 L161.00,353.69 L161.25,353.69 L161.50,353.68 L161.75,353.67 L162.00,353.66 L162.25,353.65 L162.50,353.65 L162.75,353.64 L163.00,353.63 L163.25,353.62 L163.50,353.61 L163.75,353.61 L164.00,353.60 L164.25,353.59 L164.50,353.58 L164.75,353.58 L165.00,353.57 L165.25,353.56 L165.50,353.55 L165.75,353.54 L166.00,353.54 L166.25,353.53 L166.50,353.52 L166.75,353.51 L167.00,353.51 L167.25,353.50 L167.50,353.49 L167.75,353.49 L168.00,353.48 L168.25,353.47 L168.50,353.46 L168.75,353.46 L169.00,353.45 L169.25,353.44 L169.50,353.44 L169.75,353.43 L170.00,353.43 L170.25,353.42 L170.50,353.41 L170.75,353.41 L171.00,353.40 L171.25,353.40 L171.50,353.39 L171.75,353.38 L172.00,353.38 L172.25,353.37 L172.50,353.37 L172.75,353.36 L173.00,353.36 L173.25,353.35 L173.50,353.35 L173.75,353.35 L174.00,353.34 L174.25,353.34 L174.50,353.33 L174.75,353.33 L175.00,353.33 L175.25,353.32 L175.50,353.32 L175.75,353.32 L176.00,353.32 L176.25,353.31 L176.50,353.31 L176.75,353.31 L177.00,353.31 L177.25,353.31 L177.50,353.31 L177.75,353.30 L178.00,353.30 L178.25,353.30 L178.50,353.31 L178.75,353.31 L179.00,353.31 L179.25,353.32 L179.50,353.32 L179.75,353.33 L180.00,353.33 L180.25,353.34 L180.50,353.35 L180.75,353.36 L181.00,353.38 L181.25,353.39 L181.50,353.41 L181.75,353.42 L182.00,353.44 L182.25,353.46 L182.50,353.48 L182.75,353.50 L183.00,353.52 L183.25,353.55 L183.50,353.57 L183.75,353.60 L184.00,353.62 L184.25,353.65 L184.50,353.68 L184.75,353.70 L185.00,353.73 L185.25,353.76 L185.50,353.79 L185.75,353.82 L186.00,353.85 L186.25,353.89 L186.50,353.92 L186.75,353.95 L187.00,353.98 L187.25,354.02 L187.50,354.05 L187.75,354.08 L188.00,354.11 L188.25,354.15 L188.50,354.18 L188.75,354.21 L189.00,354.25 L189.25,354.28 L189.50,354.31 L189.75,354.34 L190.00,354.38 L190.25,354.41 L190.50,354.44 L190.75,354.47 L191.00,354.50 L191.25,354.53 L191.50,354.56 L191.75,354.59 L192.00,354.62 L192.25,354.65 L192.50,354.68 L192.75,354.70 L193.00,354.73 L193.25,354.76 L193.50,354.79 L193.75,354.82 L194.00,354.84 L194.25,354.87 L194.50,354.90 L194.75,354.93 L195.00,354.96 L195.25,354.99 L195.50,355.02 L195.75,355.05 L196.00,355.08 L196.25,355.11 L196.50,355.14 L196.75,355.17 L197.00,355.20 L197.25,355.23 L197.50,355.26 L197.75,355.30 L198.00,355.33 L198.25,355.36 L198.50,355.39 L198.75,355.42 L199.00,355.46 L199.25,355.49 L199.50,355.52 L199.75,355.56 L200.00,355.59 L200.25,355.62 L200.50,355.65 L200.75,355.69 L201.00,355.72 L201.25,355.75 L201.50,355.79 L201.75,355.82 L202.00,355.85 L202.25,355.89 L202.50,355.92 L202.75,355.95 L203.00,355.99 L203.25,356.02 L203.50,356.05 L203.75,356.09 L204.00,356.12 L204.25,356.15 L204.50,356.18 L204.75,356.22 L205.00,356.25 L205.25,356.28 L205.50,356.31 L205.75,356.34 L206.00,356.37 L206.25,356.41 L206.50,356.44 L206.75,356.47 L207.00,356.50 L207.25,356.53 L207.50,356.56 L207.75,356.59 L208.00,356.62 L208.25,356.65 L208.50,356.67 L208.75,356.70 L209.00,356.73 L209.25,356.76 L209.50,356.79 L209.75,356.81 L210.00,356.84 L210.25,356.86 L210.50,356.89 L210.75,356.92 L211.00,356.94 L211.25,356.96 L211.50,356.99 L211.75,357.01 L212.00,357.03 L212.25,357.06 L212.50,357.08 L212.75,357.10 L213.00,357.12 L213.25,357.14 L213.50,357.16 L213.75,357.18 L214.00,357.20 L214.25,357.22 L214.50,357.23 L214.75,357.25 L215.00,357.26 L215.25,357.28 L215.50,357.29 L215.75,357.31 L216.00,357.32 L216.25,357.33 L216.50,357.35 L216.75,357.36 L217.00,357.37 L217.25,357.38 L217.50,357.39 L217.75,357.40 L218.00,357.41 L218.25,357.42 L218.50,357.42 L218.75,357.43 L219.00,357.44 L219.25,357.45 L219.50,357.45 L219.75,357.46 L220.00,357.47 L220.25,357.47 L220.50,357.48 L220.75,357.49 L221.00,357.49 L221.25,357.50 L221.50,357.51 L221.75,357.51 L222.00,357.52 L222.25,357.52 L222.50,357.53 L222.75,357.53 L223.00,357.54 L223.25,357.54 L223.50,357.55 L223.75,357.56 L224.00,357.56 L224.25,357.57 L224.50,357.57 L224.75,357.58 L225.00,357.58 L225.25,357.58 L225.50,357.59 L225.75,357.59 L226.00,357.60 L226.25,357.60 L226.50,357.61 L226.75,357.61 L227.00,357.62 L227.25,357.62 L227.50,357.62 L227.75,357.63 L228.00,357.63 L228.25,357.63 L228.50,357.64 L228.75,357.64 L229.00,357.65 L229.25,357.65 L229.50,357.65 L229.75,357.66 L230.00,357.66 L230.25,357.66 L230.50,357.67 L230.75,357.67 L231.00,357.67 L231.25,357.68 L231.50,357.68 L231.75,357.68 L232.00,357.69 L232.25,357.69 L232.50,357.69 L232.75,357.70 L233.00,357.70 L233.25,357.70 L233.50,357.70 L233.75,357.71 L234.00,357.71 L234.25,357.71 L234.50,357.72 L234.75,357.72 L235.00,357.72 L235.25,357.73 L235.50,357.73 L235.75,357.73 L236.00,357.73 L236.25,357.74 L236.50,357.74 L236.75,357.74 L237.00,357.75 L237.25,357.75 L237.50,357.75 L237.75,357.76 L238.00,357.76 L238.25,357.76 L238.50,357.77 L238.75,357.77 L239.00,357.77 L239.25,357.78 L239.50,357.78 L239.75,357.78 L240.00,357.79 L240.25,357.79 L240.50,357.79 L240.75,357.80 L241.00,357.80 L241.25,357.80 L241.50,357.81 L241.75,357.81 L242.00,357.81 L242.25,357.82 L242.50,357.82 L242.75,357.83 L243.00,357.83 L243.25,357.83 L243.50,357.84 L243.75,357.84 L244.00,357.85 L244.25,357.85 L244.50,357.85 L244.75,357.86 L245.00,357.86 L245.25,357.87 L245.50,357.87 L245.75,357.88 L246.00,357.88 L246.25,357.89 L246.50,357.89 L246.75,357.90 L247.00,357.90 L247.25,357.91 L247.50,357.91 L247.75,357.92 L248.00,357.92 L248.25,357.93 L248.50,357.94 L248.75,357.94 L249.00,357.95 L249.25,357.95 L249.50,357.96 L249.75,357.97 L250.00,357.97 L250.25,357.98 L250.50,357.99 L250.75,357.99 L251.00,358.00 L251.25,358.01 L251.50,358.02 L251.75,358.02 L252.00,358.03 L252.25,358.04 L252.50,358.05 L252.75,358.06 L253.00,358.07 L253.25,358.08 L253.50,358.09 L253.75,358.10 L254.00,358.11 L254.25,358.12 L254.50,358.13 L254.75,358.14 L255.00,358.15 L255.25,358.16 L255.50,358.17 L255.75,358.18 L256.00,358.20 L256.25,358.21 L256.50,358.22 L256.75,358.23 L257.00,358.24 L257.25,358.26 L257.50,358.27 L257.75,358.28 L258.00,358.30 L258.25,358.31 L258.50,358.33 L258.75,358.34 L259.00,358.35 L259.25,358.37 L259.50,358.38 L259.75,358.40 L260.00,358.41 L260.25,358.43 L260.50,358.44 L260.75,358.46 L261.00,358.47 L261.25,358.49 L261.50,358.50 L261.75,358.52 L262.00,358.54 L262.25,358.55 L262.50,358.57 L262.75,358.58 L263.00,358.60 L263.25,358.62 L263.50,358.63 L263.75,358.65 L264.00,358.67 L264.25,358.68 L264.50,358.70 L264.75,358.72 L265.00,358.73 L265.25,358.75 L265.50,358.77 L265.75,358.79 L266.00,358.80 L266.25,358.82 L266.50,358.84 L266.75,358.86 L267.00,358.87 L267.25,358.89 L267.50,358.91 L267.75,358.93 L268.00,358.95 L268.25,358.96 L268.50,358.98 L268.75,359.00 L269.00,359.02 L269.25,359.04 L269.50,359.05 L269.75,359.07 L270.00,359.09 L270.25,359.11 L270.50,359.13 L270.75,359.14 L271.00,359.16 L271.25,359.18 L271.50,359.20 L271.75,359.22 L272.00,359.23 L272.25,359.25 L272.50,359.27 L272.75,359.29 L273.00,359.31 L273.25,359.32 L273.50,359.34 L273.75,359.36 L274.00,359.38 L274.25,359.40 L274.50,359.41 L274.75,359.43 L275.00,359.45 L275.25,359.47 L275.50,359.48 L275.75,359.50 L276.00,359.52 L276.25,359.54 L276.50,359.55 L276.75,359.57 L277.00,359.59 L277.25,359.60 L277.50,359.62 L277.75,359.64 L278.00,359.65 L278.25,359.67 L278.50,359.69 L278.75,359.70 L279.00,359.72 L279.25,359.74 L279.50,359.75 L279.75,359.77 L280.00,359.78 L280.25,359.80 L280.50,359.82 L280.75,359.83 L281.00,359.85 L281.25,359.87 L281.50,359.88 L281.75,359.90 L282.00,359.92 L282.25,359.93 L282.50,359.95 L282.75,359.97 L283.00,359.98 L283.25,360.00 L283.50,360.02 L283.75,360.03 L284.00,360.05 L284.25,360.07 L284.50,360.08 L284.75,360.10 L285.00,360.12 L285.25,360.14 L285.50,360.15 L285.75,360.17 L286.00,360.19 L286.25,360.20 L286.50,360.22 L286.75,360.24 L287.00,360.25 L287.25,360.27 L287.50,360.29 L287.75,360.31 L288.00,360.32 L288.25,360.34 L288.50,360.36 L288.75,360.37 L289.00,360.39 L289.25,360.41 L289.50,360.43 L289.75,360.44 L290.00,360.46 L290.25,360.48 L290.50,360.50 L290.75,360.51 L291.00,360.53 L291.25,360.55 L291.50,360.57 L291.75,360.58 L292.00,360.60 L292.25,360.62 L292.50,360.63 L292.75,360.65 L293.00,360.67 L293.25,360.69 L293.50,360.70 L293.75,360.72 L294.00,360.74 L294.25,360.76 L294.50,360.77 L294.75,360.79 L295.00,360.81 L295.25,360.83 L295.50,360.84 L295.75,360.86 L296.00,360.88 L296.25,360.90 L296.50,360.91 L296.75,360.93 L297.00,360.95 L297.25,360.97 L297.50,360.98 L297.75,361.00 L298.00,361.02 L298.25,361.04 L298.50,361.05 L298.75,361.07 L299.00,361.09 L299.25,361.11 L299.50,361.12 L299.75,361.14 L300.00,361.16 L300.25,361.18 L300.50,361.19 L300.75,361.21 L301.00,361.23 L301.25,361.24 L301.50,361.26 L301.75,361.28 L302.00,361.30 L302.25,361.31 L302.50,361.33 L302.75,361.35 L303.00,361.37 L303.25,361.38 L303.50,361.40 L303.75,361.42 L304.00,361.44 L304.25,361.45 L304.50,361.47 L304.75,361.49 L305.00,361.50 L305.25,361.52 L305.50,361.54 L305.75,361.56 L306.00,361.57 L306.25,361.59 L306.50,361.61 L306.75,361.62 L307.00,361.64 L307.25,361.66 L307.50,361.68 L307.75,361.69 L308.00,361.71 L308.25,361.73 L308.50,361.74 L308.75,361.76 L309.00,361.78 L309.25,361.79 L309.50,361.81 L309.75,361.83 L310.00,361.85 L310.25,361.86 L310.50,361.88 L310.75,361.90 L311.00,361.91 L311.25,361.93 L311.50,361.95 L311.75,361.96 L312.00,361.98 L312.25,362.00 L312.50,362.02 L312.75,362.03 L313.00,362.05 L313.25,362.07 L313.50,362.08 L313.75,362.10 L314.00,362.12 L314.25,362.13 L314.50,362.15 L314.75,362.17 L315.00,362.19 L315.25,362.20 L315.50,362.22 L315.75,362.24 L316.00,362.25 L316.25,362.27 L316.50,362.29 L316.75,362.30 L317.00,362.32 L317.25,362.34 L317.50,362.36 L317.75,362.37 L318.00,362.39 L318.25,362.41 L318.50,362.42 L318.75,362.44 L319.00,362.46 L319.25,362.47 L319.50,362.49 L319.75,362.51 L320.00,362.52 L320.25,362.54 L320.50,362.56 L320.75,362.58 L321.00,362.59 L321.25,362.61 L321.50,362.63 L321.75,362.64 L322.00,362.66 L322.25,362.68 L322.50,362.69 L322.75,362.71 L323.00,362.73 L323.25,362.75 L323.50,362.76 L323.75,362.78 L324.00,362.80 L324.25,362.81 L324.50,362.83 L324.75,362.85 L325.00,362.86 L325.25,362.88 L325.50,362.90 L325.75,362.91 L326.00,362.93 L326.25,362.94 L326.50,362.95 L326.75,362.96 L327.00,362.97" stroke="#ff0000"/>
<path d="M27.00,432.31 L27.50,432.20 L28.00,432.09 L28.50,431.94 L29.00,431.80 L29.50,431.62 L30.00,431.44 L30.50,431.26 L31.00,431.09 L31.50,430.92 L32.00,430.76 L32.50,430.61 L33.00,430.47 L33.50,430.33 L34.00,430.20 L34.50,430.08 L35.00,429.96 L35.50,429.85 L36.00,429.75 L36.50,429.65 L37.00,429.56 L37.50,429.47 L38.00,429.39 L38.50,429.32 L39.00,429.25 L39.50,429.19 L40.00,429.13 L40.50,429.08 L41.00,429.02 L41.50,428.98 L42.00,428.93 L42.50,428.89 L43.00,428.85 L43.50,428.80 L44.00,428.76 L44.50,428.72 L45.00,428.68 L45.50,428.64 L46.00,428.61 L46.50,428.57 L47.00,428.54 L47.50,428.50 L48.00,428.47 L48.50,428.44 L49.00,428.41 L49.50,428.39 L50.00,428.36 L50.50,428.34 L51.00,428.31 L51.50,428.29 L52.00,428.27 L52.50,428.26 L53.00,428.24 L53.50,428.23 L54.00,428.22 L54.50,428.22 L55.00,428.21 L55.50,428.21 L56.00,428.21 L56.50,428.22 L57.00,428.22 L57.50,428.23 L58.00,428.24 L58.50,428.26 L59.00,428.27 L59.50,428.29 L60.00,428.31 L60.50,428.33 L61.00,428.36 L61.50,428.38 L62.00,428.40 L62.50,428.43 L63.00,428.45 L63.50,428.48 L64.00,428.51 L64.50,428.53 L65.00,428.56 L65.50,428.59 L66.00,428.61 L66.50,428.64 L67.00,428.66 L67.50,428.68 L68.00,428.70 L68.50,428.72 L69.00,428.74 L69.50,428.76 L70.00,428.77 L70.50,428.78 L71.00,428.79 L71.50,428.80 L72.00,428.81 L72.50,428.81 L73.00,428.81 L73.50,428.81 L74.00,428.81 L74.50,428.80 L75.00,428.80 L75.50,428.79 L76.00,428.78 L76.50,428.77 L77.00,428.76 L77.50,428.74 L78.00,428.73 L78.50,428.71 L79.00,428.69 L79.50,428.67 L80.00,428.64 L80.50,428.62 L81.00,428.59 L81.50,428.56 L82.00,428.53 L82.50,428.49 L83.00,428.45 L83.50,428.41 L84.00,428.37 L84.50,428.32 L85.00,428.27 L85.50,428.22 L86.00,428.16 L86.50,428.10 L87.00,428.03 L87.50,427.96 L88.00,427.88 L88.50,427.80 L89.00,427.72 L89.50,427.63 L90.00,427.53 L90.50,427.42 L91.00,427.31 L91.50,427.18 L92.00,427.05 L92.50,426.91 L93.00,426.76 L93.50,426.59 L94.00,426.41 L94.50,426.22 L95.00,426.01 L95.50,425.79 L96.00,425.55 L96.50,425.28 L97.00,425.00 L97.50,424.69 L98.00,424.35 L98.50,423.98 L99.00,423.58 L99.50,423.15 L100.00,422.67 L100.50,422.15 L101.00,421.58 L101.50,420.95 L102.00,420.26 L102.50,419.51 L103.00,418.68 L103.50,417.76 L104.00,416.75 L104.50,415.64 L105.00,414.41 L105.50,413.06 L106.00,411.57 L106.50,409.92 L107.00,408.12 L107.50,406.14 L108.00,403.98 L108.50,401.64 L109.00,399.13 L109.50,396.46 L110.00,393.66 L110.50,390.79 L111.00,387.91 L111.50,385.14 L112.00,382.57 L112.50,380.35 L113.00,378.61 L113.50,377.47 L114.00,377.02 L114.50,377.28 L115.00,378.26 L115.50,379.87 L116.00,382.01 L116.50,384.56 L117.00,387.37 L117.50,390.32 L118.00,393.30 L118.50,396.24 L119.00,399.07 L119.50,401.75 L120.00,404.27 L120.50,406.60 L121.00,408.76 L121.50,410.74 L122.00,412.55 L122.50,414.21 L123.00,415.72 L123.50,417.11 L124.00,418.37 L124.50,419.53 L125.00,420.58 L125.50,421.55 L126.00,422.44 L126.50,423.26 L127.00,424.02 L127.50,424.71 L128.00,425.36 L128.50,425.96 L129.00,426.51 L129.50,427.03 L130.00,427.51 L130.50,427.96 L131.00,428.38 L131.50,428.78 L132.00,429.15 L132.50,429.49 L133.00,429.82 L133.50,430.13 L134.00,430.42 L134.50,430.70 L135.00,430.96 L135.50,431.21 L136.00,431.45 L136.50,431.67 L137.00,431.88 L137.50,432.08 L138.00,432.28 L138.50,432.46 L139.00,432.63 L139.50,432.80 L140.00,432.96 L140.50,433.12 L141.00,433.26 L141.50,433.40 L142.00,433.54 L142.50,433.67 L143.00,433.80 L143.50,433.92 L144.00,434.04 L144.50,434.16 L145.00,434.27 L145.50,434.38 L146.00,434.48 L146.50,434.58 L147.00,434.68 L147.50,434.78 L148.00,434.88 L148.50,434.97 L149.00,435.06 L149.50,435.15 L150.00,435.23 L150.50,435.32 L151.00,435.40 L151.50,435.48 L152.00,435.56 L152.50,435.63 L153.00,435.71 L153.50,435.78 L154.00,435.85 L154.50,435.93 L155.00,436.00 L155.50,436.06 L156.00,436.13 L156.50,436.20 L157.00,436.26 L157.50,436.33 L158.00,436.39 L158.50,436.45 L159.00,436.51 L159.50,436.57 L160.00,436.63 L160.50,436.69 L161.00,436.74 L161.50,436.80 L162.00,436.85 L162.50,436.91 L163.00,436.96 L163.50,437.01 L164.00,437.07 L164.50,437.12 L165.00,437.17 L165.50,437.22 L166.00,437.27 L166.50,437.32 L167.00,437.36 L167.50,437.41 L168.00,437.46 L168.50,437.50 L169.00,437.55 L169.50,437.59 L170.00,437.64 L170.50,437.68 L171.00,437.73 L171.50,437.77 L172.00,437.81 L172.50,437.85 L173.00,437.89 L173.50,437.93 L174.00,437.97 L174.50,438.01 L175.00,438.05 L175.50,438.09 L176.00,438.13 L176.50,438.16 L177.00,438.20 L177.50,438.24 L178.00,438.27 L178.50,438.31 L179.00,438.34 L179.50,438.38 L180.00,438.41 L180.50,438.45 L181.00,438.48 L181.50,438.51 L182.00,438.54 L182.50,438.58 L183.00,438.61 L183.50,438.64 L184.00,438.67 L184.50,438.70 L185.00,438.73 L185.50,438.76 L186.00,438.79 L186.50,438.81 L187.00,438.84 L187.50,438.87 L188.00,438.90 L188.50,438.92 L189.00,438.95 L189.50,438.97 L190.00,439.00 L190.50,439.02 L191.00,439.05 L191.50,439.07 L192.00,439.10 L192.50,439.12 L193.00,439.14 L193.50,439.16 L194.00,439.19 L194.50,439.21 L195.00,439.23 L195.50,439.25 L196.00,439.27 L196.50,439.29 L197.00,439.31 L197.50,439.33 L198.00,439.35 L198.50,439.37 L199.00,439.39 L199.50,439.41 L200.00,439.43 L200.50,439.45 L201.00,439.47 L201.50,439.49 L202.00,439.51 L202.50,439.53 L203.00,439.54 L203.50,439.56 L204.00,439.58 L204.50,439.60 L205.00,439.62 L205.50,439.63 L206.00,439.65 L206.50,439.67 L207.00,439.69 L207.50,439.71 L208.00,439.72 L208.50,439.74 L209.00,439.76 L209.50,439.78 L210.00,439.79 L210.50,439.81 L211.00,439.83 L211.50,439.85 L212.00,439.86 L212.50,439.88 L213.00,439.90 L213.50,439.92 L214.00,439.94 L214.50,439.95 L215.00,439.97 L215.50,439.99 L216.00,440.01 L216.50,440.03 L217.00,440.05 L217.50,440.07 L218.00,440.09 L218.50,440.10 L219.00,440.12 L219.50,440.14 L220.00,440.16 L220.50,440.18 L221.00,440.20 L221.50,440.22 L222.00,440.25 L222.50,440.27 L223.00,440.29 L223.50,440.31 L224.00,440.33 L224.50,440.35 L225.00,440.38 L225.50,440.40 L226.00,440.42 L226.50,440.44 L227.00,440.47 L227.50,440.49 L228.00,440.51 L228.50,440.54 L229.00,440.56 L229.50,440.58 L230.00,440.61 L230.50,440.63 L231.00,440.66 L231.50,440.68 L232.00,440.71 L232.50,440.73 L233.00,440.75 L233.50,440.78 L234.00,440.80 L234.50,440.83 L235.00,440.85 L235.50,440.88 L236.00,440.91 L236.50,440.93 L237.00,440.96 L237.50,440.98 L238.00,441.01 L238.50,441.04 L239.00,441.06 L239.50,441.09 L240.00,441.11 L240.50,441.14 L241.00,441.17 L241.50,441.19 L242.00,441.22 L242.50,441.25 L243.00,441.27 L243.50,441.30 L244.00,441.33 L244.50,441.35 L245.00,441.38 L245.50,441.41 L246.00,441.44 L246.50,441.46 L247.00,441.49 L247.50,441.52 L248.00,441.54 L248.50,441.57 L249.00,441.60 L249.50,441.63 L250.00,441.65 L250.50,441.68 L251.00,441.71 L251.50,441.74 L252.00,441.76 L252.50,441.79 L253.00,441.82 L253.50,441.85 L254.00,441.87 L254.50,441.90 L255.00,441.93 L255.50,441.96 L256.00,441.98 L256.50,442.01 L257.00,442.04 L257.50,442.07 L258.00,442.09 L258.50,442.12 L259.00,442.15 L259.50,442.18 L260.00,442.20 L260.50,442.23 L261.00,442.26 L261.50,442.28 L262.00,442.31 L262.50,442.34 L263.00,442.36 L263.50,442.39 L264.00,442.42 L264.50,442.44 L265.00,442.47 L265.50,442.50 L266.00,442.52 L266.50,442.55 L267.00,442.58 L267.50,442.60 L268.00,442.63 L268.50,442.66 L269.00,442.68 L269.50,442.71 L270.00,442.74 L270.50,442.77 L271.00,442.79 L271.50,442.82 L272.00,442.85 L272.50,442.88 L273.00,442.91 L273.50,442.94 L274.00,442.97 L274.50,443.00 L275.00,443.02 L275.50,443.05 L276.00,443.08 L276.50,443.11 L277.00,443.14 L277.50,443.17 L278.00,443.20 L278.50,443.23 L279.00,443.26 L279.50,443.29 L280.00,443.32 L280.50,443.35 L281.00,443.38 L281.50,443.41 L282.00,443.44 L282.50,443.47 L283.00,443.50 L283.50,443.53 L284.00,443.56 L284.50,443.59 L285.00,443.61 L285.50,443.64 L286.00,443.67 L286.50,443.70 L287.00,443.73 L287.50,443.76 L288.00,443.78 L288.50,443.81 L289.00,443.84 L289.50,443.86 L290.00,443.89 L290.50,443.92 L291.00,443.94 L291.50,443.97 L292.00,443.99 L292.50,444.02 L293.00,444.04 L293.50,444.06 L294.00,444.09 L294.50,444.11 L295.00,444.13 L295.50,444.15 L296.00,444.17 L296.50,444.19 L297.00,444.21 L297.50,444.23 L298.00,444.25 L298.50,444.27 L299.00,444.29 L299.50,444.31 L300.00,444.32 L300.50,444.34 L301.00,444.36 L301.50,444.37 L302.00,444.39 L302.50,444.40 L303.00,444.42 L303.50,444.43 L304.00,444.44 L304.50,444.46 L305.00,444.47 L305.50,444.48 L306.00,444.50 L306.50,444.51 L307.00,444.52 L307.50,444.53 L308.00,444.55 L308.50,444.56 L309.00,444.57 L309.50,444.58 L310.00,444.59 L310.50,444.60 L311.00,444.62 L311.50,444.63 L312.00,444.64 L312.50,444.65 L313.00,444.66 L313.50,444.67 L314.00,444.68 L314.50,444.69 L315.00,444.70 L315.50,444.71 L316.00,444.72 L316.50,444.73 L317.00,444.74 L317.50,444.75 L318.00,444.76 L318.50,444.77 L319.00,444.78 L319.50,444.79 L320.00,444.80 L320.50,444.81 L321.00,444.82 L321.50,444.83 L322.00,444.84 L322.50,444.85 L323.00,444.87 L323.50,444.88 L324.00,444.89 L324.50,444.90 L325.00,444.91 L325.50,444.92 L326.00,444.93 L326.50,444.93 L327.00,444.94" stroke="#000"/>
</g>
<g clip-path="url(#cb)" fill="none" stroke-width="2.1" stroke-linejoin="round" stroke-linecap="round">
<path d="M372.00,16.90 L372.72,16.68 L373.44,17.10 L374.18,17.04 L374.92,16.72 L375.68,16.85 L376.43,16.80 L377.20,16.90 L377.97,16.95 L378.74,16.51 L379.52,16.44 L380.30,16.90 L381.08,16.62 L381.86,16.79 L382.64,16.30 L383.43,16.53 L384.21,16.67 L384.99,16.34 L385.77,16.74 L386.54,16.69 L387.31,16.14 L388.08,16.11 L388.84,16.40 L389.59,16.62 L390.34,16.27 L391.08,16.16 L391.81,16.28 L392.53,16.04 L393.24,16.15 L393.94,16.29 L394.62,16.34 L395.30,16.19 L395.96,16.21 L396.61,16.24 L397.24,16.42 L397.86,16.36 L398.46,16.24 L399.05,16.79 L399.61,16.69 L400.16,16.81 L400.69,16.62 L401.20,17.20 L402.06,17.30 L402.87,17.05 L403.63,17.39 L404.34,17.86 L405.02,18.09 L405.67,18.49 L406.30,18.46 L406.91,18.99 L407.52,19.19 L408.12,19.28 L408.73,19.78 L409.36,20.29 L410.00,20.61 L410.60,20.73 L411.19,21.14 L411.78,21.19 L412.37,21.71 L412.96,22.45 L413.54,22.64 L414.12,22.92 L414.70,23.58 L415.28,24.10 L415.85,24.50 L416.42,24.74 L417.00,25.18 L417.56,25.60 L418.13,26.13 L418.70,26.31 L419.37,26.62 L420.01,27.07 L420.64,27.17 L421.27,27.54 L421.89,28.29 L422.52,28.80 L423.16,28.88 L423.83,29.05 L424.51,29.17 L425.24,29.60 L426.00,30.09 L426.62,30.09 L427.27,30.05 L427.94,30.33 L428.63,30.01 L429.33,30.23 L430.06,30.51 L430.79,30.30 L431.54,30.23 L432.29,30.10 L433.05,30.24 L433.82,30.45 L434.59,29.83 L435.37,30.25 L436.14,30.22 L436.92,30.20 L437.68,30.06 L438.45,30.04 L439.20,29.81 L439.88,29.78 L440.55,29.64 L441.23,29.35 L441.90,29.76 L442.58,29.50 L443.25,29.19 L443.93,29.27 L444.60,29.16 L445.28,28.98 L445.96,28.87 L446.65,28.87 L447.34,28.81 L448.03,28.69 L448.73,28.48 L449.43,28.10 L450.14,28.11 L450.86,27.96 L451.58,28.09 L452.31,28.14 L453.05,27.99 L453.80,27.88 L454.45,27.80 L455.11,27.37 L455.77,27.62 L456.44,27.43 L457.12,26.98 L457.80,26.84 L458.49,26.74 L459.18,27.09 L459.88,26.68 L460.58,26.50 L461.29,26.71 L462.00,26.44 L462.71,26.17 L463.43,26.13 L464.15,26.24 L464.87,25.93 L465.59,25.89 L466.31,26.05 L467.03,25.79 L467.76,25.61 L468.48,25.60 L469.20,25.22 L469.92,25.34 L470.64,25.26 L471.36,25.02 L472.07,24.87 L472.79,25.24 L473.49,24.91 L474.20,24.63 L474.90,24.76 L475.60,24.79 L476.30,24.21 L477.00,24.10 L477.70,24.07 L478.40,24.31 L479.09,23.86 L479.79,24.08 L480.48,23.96 L481.18,23.77 L481.87,23.47 L482.57,23.81 L483.26,23.60 L483.96,23.32 L484.66,23.04 L485.35,23.19 L486.05,22.93 L486.75,22.94 L487.46,22.69 L488.16,22.77 L488.86,22.33 L489.57,22.38 L490.28,22.69 L491.00,22.54 L491.71,22.11 L492.43,22.36 L493.15,21.94 L493.87,22.24 L494.60,22.05 L495.29,21.78 L495.98,21.61 L496.68,21.40 L497.38,21.86 L498.09,21.30 L498.80,21.71 L499.51,21.73 L500.23,21.44 L500.95,21.15 L501.67,21.51 L502.40,21.53 L503.13,21.31 L503.85,21.15 L504.58,21.02 L505.31,20.96 L506.04,20.83 L506.77,21.07 L507.50,20.88 L508.22,20.70 L508.95,20.60 L509.67,20.90 L510.39,20.64 L511.10,20.73 L511.82,20.59 L512.52,20.88 L513.23,20.86 L513.93,20.30 L514.62,20.38 L515.31,20.42 L515.99,20.79 L516.67,20.63 L517.34,20.33 L518.00,20.23 L518.74,20.47 L519.48,20.54 L520.20,20.57 L520.91,20.20 L521.61,20.50 L522.31,20.36 L523.00,20.23 L523.69,20.51 L524.37,20.05 L525.04,20.33 L525.72,19.93 L526.39,19.97 L527.06,20.41 L527.74,19.98 L528.41,20.29 L529.09,20.18 L529.77,20.31 L530.46,20.01 L531.15,19.98 L531.85,19.93 L532.56,20.25 L533.28,20.06 L534.01,20.24 L534.75,20.17 L535.50,19.68 L536.15,19.89 L536.82,19.59 L537.50,19.51 L538.20,19.48 L538.91,19.91 L539.64,19.81 L540.37,19.78 L541.12,19.44 L541.87,19.54 L542.63,19.59 L543.39,19.28 L544.16,19.34 L544.93,19.07 L545.70,18.92 L546.48,18.97 L547.25,19.28 L548.02,19.02 L548.79,19.17 L549.55,18.82 L550.30,18.65 L551.05,18.89 L551.79,18.85 L552.52,18.30 L553.24,18.64 L553.94,18.23 L554.63,18.19 L555.31,18.59 L555.97,18.03 L556.61,18.10 L557.23,18.50 L557.83,18.11 L558.41,17.88 L558.96,17.87 L559.49,17.88 L560.00,18.15 L560.89,17.70 L561.71,18.11 L562.48,17.72 L563.19,18.01 L563.87,17.91 L564.53,17.49 L565.18,17.43 L565.83,17.55 L566.50,17.33 L567.20,17.69 L567.94,17.37 L568.70,17.39 L569.47,18.03 L570.24,17.68 L571.01,17.95 L571.76,17.98 L572.49,18.05 L573.17,18.09 L573.82,18.85 L574.40,19.55 L574.98,19.94 L575.52,19.21 L576.00,19.87 L576.45,20.98 L576.86,22.07 L577.25,22.10 L577.63,22.97 L578.00,23.62 L578.28,23.63 L578.54,24.60 L578.79,24.88 L579.02,25.42 L579.24,25.84 L579.44,26.78 L579.64,28.44 L579.83,28.41 L580.01,29.43 L580.18,30.18 L580.36,31.37 L580.53,31.42 L580.70,32.13 L580.81,32.76 L580.92,33.41 L581.02,34.86 L581.12,35.69 L581.22,35.69 L581.31,36.59 L581.40,37.77 L581.48,38.73 L581.57,39.69 L581.65,40.15 L581.73,40.80 L581.80,42.07 L581.87,42.79 L581.95,44.40 L582.02,44.66 L582.09,45.57 L582.16,47.23 L582.22,47.59 L582.29,49.09 L582.36,49.43 L582.43,50.64 L582.49,50.31 L582.56,51.36 L582.63,52.28 L582.70,51.71 L582.77,53.26 L582.85,52.44 L582.92,53.43 L583.00,53.77 L583.08,53.47 L583.16,52.56 L583.24,51.92 L583.32,52.02 L583.40,52.01 L583.48,50.48 L583.56,50.55 L583.64,48.68 L583.72,48.84 L583.80,46.68 L583.88,46.08 L583.96,45.86 L584.04,44.68 L584.12,43.76 L584.20,42.61 L584.28,41.43 L584.36,40.33 L584.44,38.63 L584.51,38.03 L584.59,36.75 L584.67,36.69 L584.75,35.87 L584.82,34.63 L584.90,33.80 L584.98,34.57 L585.05,34.01 L585.13,33.44 L585.20,33.36 L585.28,33.85 L585.36,33.49 L585.44,33.71 L585.52,34.03 L585.60,34.42 L585.68,34.69 L585.76,36.21 L585.84,36.62 L585.91,37.63 L585.99,37.77 L586.07,39.05 L586.15,39.67 L586.22,40.59 L586.30,41.73 L586.37,43.47 L586.45,43.83 L586.52,44.78 L586.59,45.99 L586.66,46.36 L586.73,46.90 L586.80,48.42 L586.87,49.12 L586.93,50.00 L587.00,50.31 L587.10,51.57 L587.19,52.59 L587.28,52.88 L587.36,54.19 L587.44,55.06 L587.53,55.53 L587.61,56.47 L587.70,57.21 L587.80,58.04 L587.90,58.18 L587.97,57.22 L588.05,57.53 L588.13,56.37 L588.20,55.96 L588.28,56.03 L588.36,55.90 L588.45,54.20 L588.53,54.25 L588.61,53.58 L588.70,51.91 L588.79,51.51 L588.88,50.78 L588.97,49.17 L589.07,48.66 L589.17,47.76 L589.27,46.64 L589.37,46.10 L589.48,45.29 L589.59,44.58 L589.70,43.30 L589.81,42.00 L589.92,41.31 L590.02,40.44 L590.11,40.07 L590.20,39.45 L590.29,37.60 L590.39,37.58 L590.48,36.75 L590.59,35.38 L590.70,34.77 L590.82,33.48 L590.96,33.50 L591.10,31.83 L591.27,32.47 L591.45,31.64 L591.65,30.88 L591.88,29.95 L592.13,30.51 L592.40,30.33 L593.05,28.96 L593.80,29.83 L594.59,30.12 L595.35,30.26 L596.00,30.88 L596.23,30.84 L596.44,31.93 L596.63,32.52 L596.80,32.31 L596.96,33.58 L597.11,33.83 L597.24,34.27 L597.36,35.37 L597.47,36.00 L597.57,38.03 L597.66,39.07 L597.74,38.91 L597.81,40.57 L597.87,41.30 L597.94,41.89 L597.99,43.10 L598.05,43.98 L598.10,45.58 L598.15,45.41 L598.20,46.48 L598.24,47.57 L598.30,47.67 L598.35,49.10 L598.41,49.58 L598.47,50.30 L598.54,49.74 L598.62,50.04 L598.70,50.46 L598.81,49.98 L598.91,50.09 L599.00,49.13 L599.09,49.07 L599.18,48.44 L599.27,47.57 L599.36,46.84 L599.44,45.23 L599.53,44.11 L599.62,43.57 L599.71,42.43 L599.80,41.19 L599.90,40.04 L600.01,39.12 L600.12,38.21 L600.24,38.67 L600.36,37.39 L600.50,38.14 L600.68,37.95 L600.87,38.80 L601.07,38.95 L601.29,39.82 L601.51,39.35 L601.74,40.63 L601.96,41.58 L602.19,42.12 L602.41,43.31 L602.63,44.03 L602.83,45.18 L603.02,45.31 L603.20,46.72 L603.33,47.41 L603.46,47.97 L603.58,48.92 L603.68,50.32 L603.79,51.08 L603.88,51.75 L603.98,52.89 L604.06,53.44 L604.15,54.11 L604.24,54.70 L604.32,55.90 L604.41,57.10 L604.49,58.17 L604.59,58.69 L604.68,58.73 L604.78,59.76 L604.89,59.26 L605.00,59.86 L605.16,59.15 L605.33,59.26 L605.50,59.04 L605.68,57.38 L605.86,56.37 L606.04,56.07 L606.23,54.99 L606.42,53.79 L606.61,52.37 L606.80,52.05 L606.94,51.48 L607.08,50.80 L607.21,50.76 L607.34,49.69 L607.47,49.19 L607.60,48.69 L607.74,47.76 L607.87,46.67 L608.01,46.29 L608.16,45.41 L608.32,44.70 L608.48,43.96 L608.66,42.95 L608.85,42.58 L609.05,41.92 L609.27,41.71 L609.50,40.89 L609.80,40.28 L610.10,39.50 L610.42,38.90 L610.75,37.97 L611.09,36.98 L611.45,36.26 L611.83,36.27 L612.22,35.93 L612.64,34.91 L613.07,33.84 L613.52,34.26 L614.00,33.28 L614.51,32.76 L615.06,31.68 L615.64,31.82 L616.25,31.65 L616.88,30.73 L617.52,30.19 L618.16,30.20 L618.80,28.96 L619.44,29.32 L620.05,29.68 L620.64,29.15 L621.20,28.66 L622.02,29.07 L622.84,29.12 L623.64,28.86 L624.39,29.24 L625.09,30.63 L625.70,30.28 L626.13,30.57 L626.47,32.34 L626.74,32.72 L626.99,33.31 L627.26,34.24 L627.58,35.11 L628.00,34.64 L628.57,35.29 L629.22,35.06 L629.92,34.72 L630.63,33.47 L631.34,33.56 L632.00,32.93 L632.62,33.63 L633.21,33.60 L633.79,35.08 L634.38,35.81 L634.97,35.55 L635.60,35.62 L636.21,36.55 L636.83,35.91 L637.47,35.68 L638.13,34.06 L638.78,34.73 L639.44,33.86 L640.10,33.05 L640.83,32.83 L641.57,32.91 L642.30,32.58 L643.05,31.45 L643.82,31.82 L644.60,31.04 L645.34,32.12 L646.10,31.42 L646.88,32.17 L647.67,32.06 L648.46,32.09 L649.24,31.83 L650.00,32.44 L650.71,32.13 L651.45,32.36 L652.20,33.41 L652.94,33.20 L653.65,34.07 L654.31,33.75 L654.90,34.87 L655.40,35.40 L655.75,35.36 L656.03,35.68 L656.26,36.73 L656.44,37.56 L656.58,37.76 L656.69,38.66 L656.79,39.27 L656.88,40.84 L656.97,42.07 L657.07,41.98 L657.20,42.56 L657.30,44.16 L657.40,45.07 L657.50,46.10 L657.59,46.49 L657.68,47.03 L657.76,48.66 L657.84,48.61 L657.93,50.35 L658.00,50.45 L658.08,51.76 L658.16,52.73 L658.23,53.35 L658.31,53.76 L658.38,54.45 L658.46,55.75 L658.54,55.63 L658.62,56.03 L658.70,55.60 L658.79,56.15 L658.89,55.21 L658.98,54.95 L659.07,54.58 L659.16,53.77 L659.25,51.44 L659.34,51.41 L659.43,50.43 L659.53,48.67 L659.62,47.82 L659.71,47.29 L659.81,47.13 L659.90,46.01 L660.00,46.52 L660.08,46.46 L660.15,45.92 L660.21,47.43 L660.27,46.81 L660.33,47.72 L660.38,49.28 L660.43,49.37 L660.49,50.80 L660.54,51.48 L660.61,52.98 L660.68,54.53 L660.76,55.63 L660.84,55.39 L660.95,56.31 L661.06,58.17 L661.19,57.75 L661.34,58.61 L661.51,58.77 L661.70,58.94 L662.52,58.57 L663.50,58.69 L664.11,58.50 L664.80,58.02 L665.51,57.87 L666.22,57.33 L666.90,56.85 L667.64,57.43 L668.38,58.42 L669.08,58.43 L669.70,57.95 L670.05,57.42 L670.36,58.16 L670.63,57.05 L670.87,55.96 L671.10,55.48 L671.31,54.55 L671.53,53.62 L671.76,52.15 L672.00,52.00" stroke="#ff8205"/>
<path d="M372.00,96.50 L372.72,96.77 L373.44,96.75 L374.18,96.20 L374.93,96.20 L375.69,96.62 L376.45,96.52 L377.22,96.45 L378.00,96.19 L378.78,96.32 L379.57,96.28 L380.35,96.21 L381.15,95.91 L381.94,96.02 L382.73,95.95 L383.52,96.10 L384.31,96.21 L385.09,96.14 L385.87,95.85 L386.65,95.75 L387.42,95.60 L388.19,95.43 L388.94,95.40 L389.69,95.64 L390.43,95.53 L391.16,95.56 L391.87,95.86 L392.58,95.64 L393.27,95.68 L393.94,95.50 L394.60,95.41 L395.25,95.63 L395.88,95.57 L396.48,95.85 L397.07,96.22 L397.64,96.12 L398.19,95.92 L398.72,96.46 L399.22,96.53 L399.70,96.64 L400.52,97.04 L401.27,97.30 L401.96,97.68 L402.58,97.82 L403.17,98.62 L403.72,99.06 L404.26,99.05 L404.78,99.90 L405.31,100.38 L405.84,100.74 L406.40,101.30 L407.00,101.79 L407.51,102.50 L408.01,102.72 L408.52,103.41 L409.02,103.63 L409.52,104.47 L410.02,105.02 L410.52,105.30 L411.03,105.91 L411.53,106.68 L412.04,107.11 L412.56,107.51 L413.08,107.89 L413.61,108.48 L414.14,109.21 L414.69,109.38 L415.24,110.30 L415.80,110.36 L416.39,111.20 L416.98,111.29 L417.58,112.13 L418.19,112.43 L418.80,112.75 L419.41,113.19 L420.03,113.69 L420.66,114.06 L421.30,114.28 L421.94,114.58 L422.60,115.11 L423.26,115.69 L423.93,115.79 L424.61,115.73 L425.30,116.40 L426.00,116.54 L426.68,116.79 L427.37,116.47 L428.09,116.89 L428.83,116.54 L429.57,116.92 L430.33,116.70 L431.09,116.66 L431.86,117.01 L432.63,116.50 L433.40,116.68 L434.17,116.80 L434.93,116.34 L435.68,116.22 L436.42,116.51 L437.15,116.12 L437.85,116.17 L438.54,115.64 L439.20,115.72 L439.93,115.45 L440.64,115.58 L441.32,115.03 L441.99,115.34 L442.64,114.56 L443.28,114.74 L443.91,114.07 L444.55,113.97 L445.19,114.05 L445.84,113.41 L446.51,113.18 L447.19,113.24 L447.90,112.83 L448.54,112.43 L449.19,112.80 L449.84,112.10 L450.50,111.84 L451.17,111.83 L451.84,111.80 L452.52,111.68 L453.21,111.10 L453.90,111.04 L454.60,110.67 L455.30,110.72 L456.00,110.72 L456.72,110.51 L457.43,110.41 L458.15,110.13 L458.87,110.01 L459.60,109.72 L460.26,109.41 L460.92,109.10 L461.60,109.19 L462.28,108.81 L462.96,108.52 L463.65,108.56 L464.34,108.65 L465.04,108.03 L465.74,108.14 L466.44,107.86 L467.15,107.77 L467.85,107.38 L468.56,107.70 L469.27,107.12 L469.98,107.16 L470.69,106.88 L471.39,106.47 L472.10,106.63 L472.80,106.22 L473.50,106.00 L474.20,105.82 L474.90,105.73 L475.59,105.52 L476.28,105.66 L476.98,105.41 L477.67,105.51 L478.37,105.30 L479.06,105.15 L479.75,104.51 L480.45,104.46 L481.14,104.16 L481.84,104.18 L482.53,104.03 L483.23,103.96 L483.92,103.74 L484.62,103.30 L485.31,103.24 L486.01,103.15 L486.71,102.69 L487.40,102.57 L488.10,102.67 L488.80,102.37 L489.53,102.62 L490.25,102.22 L490.98,102.04 L491.71,102.00 L492.44,101.95 L493.17,101.87 L493.90,101.99 L494.63,101.89 L495.36,101.74 L496.09,101.88 L496.82,101.57 L497.55,101.93 L498.28,101.92 L499.02,101.72 L499.75,101.49 L500.48,101.48 L501.21,101.46 L501.94,101.08 L502.67,101.23 L503.40,101.22 L504.09,100.93 L504.79,100.80 L505.47,101.13 L506.16,100.78 L506.85,100.78 L507.53,100.93 L508.22,100.65 L508.90,100.36 L509.59,100.68 L510.27,100.22 L510.96,99.91 L511.65,100.22 L512.34,99.78 L513.03,99.81 L513.73,100.04 L514.43,99.86 L515.13,99.38 L515.84,99.57 L516.56,99.47 L517.28,99.45 L518.00,99.22 L518.67,99.40 L519.34,99.05 L520.02,99.14 L520.71,99.16 L521.40,99.46 L522.09,98.92 L522.78,99.30 L523.48,98.95 L524.18,99.16 L524.88,99.03 L525.59,99.06 L526.29,99.22 L527.00,98.99 L527.71,98.81 L528.42,98.80 L529.13,98.76 L529.84,99.21 L530.56,99.07 L531.27,99.24 L531.98,99.06 L532.68,98.64 L533.39,99.00 L534.10,99.04 L534.80,98.97 L535.50,98.80 L536.21,98.67 L536.92,98.69 L537.65,98.84 L538.39,98.47 L539.13,98.57 L539.87,98.48 L540.62,98.70 L541.38,98.55 L542.13,98.56 L542.88,98.44 L543.63,98.05 L544.37,97.94 L545.11,98.03 L545.84,97.82 L546.57,97.86 L547.28,97.95 L547.98,98.03 L548.67,97.77 L549.35,97.85 L550.00,97.37 L550.64,97.47 L551.27,97.81 L551.87,97.26 L552.44,97.38 L553.00,97.14 L553.82,97.11 L554.58,97.56 L555.29,97.60 L555.96,97.37 L556.61,97.05 L557.25,97.14 L557.89,97.09 L558.56,97.34 L559.26,97.33 L560.00,97.16 L560.65,97.19 L561.33,96.91 L562.04,97.12 L562.77,97.32 L563.51,97.15 L564.27,96.70 L565.03,96.91 L565.79,96.98 L566.53,96.67 L567.27,97.02 L567.98,96.75 L568.66,96.90 L569.32,96.74 L569.93,97.13 L570.50,97.07 L571.38,97.07 L572.22,96.94 L573.00,97.28 L573.71,97.26 L574.35,98.00 L574.90,98.83 L575.32,98.38 L575.63,99.45 L575.88,100.11 L576.07,100.77 L576.24,102.02 L576.41,103.20 L576.60,103.78 L576.73,104.05 L576.85,105.37 L576.96,105.18 L577.07,106.48 L577.17,107.11 L577.27,108.02 L577.36,108.94 L577.45,108.87 L577.55,110.22 L577.64,110.72 L577.73,111.87 L577.83,113.07 L577.93,113.35 L578.04,113.21 L578.15,114.52 L578.27,115.50 L578.40,116.33 L578.61,116.95 L578.82,118.16 L579.04,118.01 L579.27,120.15 L579.52,120.57 L579.79,120.91 L580.10,121.56 L580.69,121.11 L581.33,119.14 L581.90,119.74 L582.06,119.82 L582.20,119.37 L582.33,120.60 L582.44,121.00 L582.53,121.19 L582.62,122.87 L582.69,122.86 L582.76,124.49 L582.81,125.26 L582.86,126.05 L582.90,127.53 L582.94,128.43 L582.97,129.07 L583.01,131.08 L583.04,130.74 L583.07,131.44 L583.11,132.80 L583.15,133.86 L583.19,134.05 L583.24,134.46 L583.30,134.18 L583.36,134.37 L583.42,133.68 L583.48,133.25 L583.54,133.11 L583.59,131.89 L583.65,131.31 L583.70,131.51 L583.75,129.91 L583.81,129.85 L583.86,128.99 L583.92,127.54 L583.97,126.96 L584.02,126.16 L584.08,125.31 L584.14,123.37 L584.19,122.50 L584.25,121.94 L584.31,121.24 L584.37,120.26 L584.43,119.20 L584.50,119.38 L584.62,118.95 L584.75,117.09 L584.87,116.33 L585.00,115.22 L585.14,114.58 L585.27,114.68 L585.40,113.74 L585.46,114.29 L585.53,114.28 L585.59,114.72 L585.65,115.72 L585.72,115.16 L585.78,116.89 L585.84,116.95 L585.90,118.29 L585.97,119.42 L586.03,120.19 L586.09,120.85 L586.15,122.52 L586.22,122.55 L586.28,124.37 L586.35,125.10 L586.41,126.34 L586.48,127.80 L586.54,128.70 L586.61,129.39 L586.68,129.81 L586.75,130.49 L586.82,131.49 L586.89,131.78 L586.97,132.32 L587.04,133.62 L587.12,132.68 L587.20,133.74 L587.31,133.02 L587.42,132.66 L587.52,132.07 L587.63,131.05 L587.73,130.77 L587.84,129.47 L587.95,128.89 L588.07,127.69 L588.20,127.53 L588.35,126.61 L588.51,125.07 L588.70,124.55 L588.90,124.29 L589.20,122.65 L589.53,121.50 L589.88,120.88 L590.26,120.08 L590.65,120.16 L591.07,119.31 L591.50,119.10 L591.96,119.78 L592.47,119.29 L593.00,120.55 L593.54,120.90 L594.07,121.26 L594.56,122.55 L595.00,122.58 L595.29,123.85 L595.55,124.50 L595.80,124.54 L596.02,125.47 L596.24,126.53 L596.44,126.97 L596.63,127.71 L596.81,128.61 L596.99,129.43 L597.17,129.90 L597.34,130.90 L597.52,130.60 L597.70,131.67 L597.96,132.66 L598.22,133.24 L598.47,134.29 L598.71,134.90 L598.95,136.74 L599.18,136.42 L599.40,136.77 L599.55,137.20 L599.68,135.83 L599.79,136.30 L599.90,134.38 L600.00,133.36 L600.10,132.83 L600.21,131.82 L600.33,131.57 L600.46,130.53 L600.60,129.45 L600.77,128.20 L600.97,127.71 L601.20,126.84 L602.04,126.87 L602.90,126.15 L603.07,126.16 L603.23,126.94 L603.38,126.68 L603.51,127.44 L603.64,128.90 L603.75,128.47 L603.86,129.33 L603.96,130.27 L604.05,131.25 L604.14,132.45 L604.23,133.22 L604.31,134.37 L604.39,135.27 L604.47,136.31 L604.55,137.85 L604.63,138.49 L604.71,139.52 L604.80,141.02 L604.89,140.94 L604.98,141.89 L605.09,143.62 L605.20,143.72 L605.32,144.79 L605.44,144.38 L605.58,145.29 L605.74,145.97 L605.90,145.38 L606.24,145.88 L606.61,145.29 L607.00,144.41 L607.41,144.49 L607.82,142.80 L608.23,142.01 L608.62,141.31 L609.00,140.05 L609.26,140.18 L609.50,139.23 L609.74,138.56 L609.97,137.82 L610.19,137.75 L610.42,137.04 L610.64,136.11 L610.86,134.84 L611.09,134.04 L611.32,133.46 L611.55,132.05 L611.80,131.40 L612.05,131.90 L612.32,129.99 L612.60,130.40 L612.88,129.37 L613.16,129.01 L613.45,127.15 L613.75,126.76 L614.05,126.73 L614.35,124.93 L614.67,124.35 L614.98,123.99 L615.31,123.05 L615.64,122.34 L615.98,122.41 L616.33,120.98 L616.68,121.58 L617.05,120.56 L617.42,119.19 L617.80,119.85 L618.35,118.28 L618.93,117.95 L619.54,117.42 L620.16,116.24 L620.78,116.20 L621.40,115.11 L622.00,114.92 L622.57,115.64 L623.10,115.34 L624.04,114.93 L624.91,115.47 L625.70,116.32 L626.07,115.80 L626.39,116.99 L626.69,117.35 L626.97,118.26 L627.23,119.17 L627.49,120.16 L627.75,120.64 L628.02,121.33 L628.30,121.73 L628.60,121.86 L628.89,121.62 L629.19,120.87 L629.49,119.65 L629.79,118.34 L630.09,117.94 L630.39,116.09 L630.69,115.46 L631.00,116.24 L631.25,116.12 L631.50,115.95 L631.75,116.78 L632.01,117.45 L632.27,118.53 L632.53,119.50 L632.79,120.49 L633.04,122.06 L633.30,123.05 L633.55,123.60 L633.80,124.25 L634.04,124.58 L634.27,125.63 L634.50,126.07 L634.73,124.89 L634.93,125.19 L635.12,124.63 L635.29,123.87 L635.45,122.17 L635.62,121.98 L635.80,120.54 L636.00,119.56 L636.22,119.15 L636.47,118.35 L636.76,117.53 L637.10,117.03 L637.51,116.37 L637.95,115.45 L638.43,114.28 L638.94,114.71 L639.47,114.26 L640.02,113.78 L640.58,113.01 L641.15,111.85 L641.73,111.74 L642.30,111.36 L643.03,111.87 L643.80,111.63 L644.58,111.12 L645.37,112.22 L646.15,112.33 L646.90,112.34 L647.60,111.85 L648.36,111.75 L649.09,111.80 L649.78,112.86 L650.45,112.98 L651.10,112.79 L651.58,114.04 L652.05,114.03 L652.50,114.32 L652.94,114.87 L653.37,115.88 L653.79,116.14 L654.20,117.06 L654.60,116.98 L654.93,118.35 L655.24,118.36 L655.55,119.89 L655.85,119.60 L656.14,120.45 L656.43,121.44 L656.72,121.94 L657.00,122.82 L657.27,124.06 L657.55,123.73 L657.82,125.17 L658.10,125.67 L658.44,126.49 L658.79,126.68 L659.13,127.30 L659.47,127.76 L659.80,128.55 L660.11,128.90 L660.42,129.51 L660.70,130.67 L660.88,130.90 L661.05,132.01 L661.20,132.96 L661.34,133.46 L661.47,134.18 L661.59,135.71 L661.71,137.01 L661.82,137.05 L661.94,138.49 L662.06,139.40 L662.18,140.48 L662.32,140.89 L662.47,140.95 L662.63,141.26 L662.80,142.43 L663.00,141.82 L663.45,141.13 L663.93,141.48 L664.47,139.62 L665.10,139.14 L665.72,138.94 L666.44,138.77 L667.19,139.44 L667.93,139.01 L668.60,139.32 L669.34,139.55 L670.04,140.47 L670.67,139.84 L671.20,141.31 L671.40,141.12 L671.56,141.64 L671.69,142.84 L671.78,143.14 L671.85,143.39 L671.90,144.83 L671.93,146.04 L671.94,146.45 L671.94,147.04 L671.94,148.28 L671.93,149.26 L671.93,149.02 L671.93,150.04 L671.94,151.74 L671.96,152.46 L672.00,152.60" stroke="#008000"/>
<path d="M372.00,196.40 L372.71,196.25 L373.42,196.44 L374.13,196.34 L374.84,196.49 L375.56,196.51 L376.28,196.18 L377.00,196.15 L377.72,196.65 L378.44,196.31 L379.16,196.30 L379.89,196.76 L380.61,196.45 L381.34,196.67 L382.07,196.46 L382.79,196.56 L383.52,196.27 L384.25,196.57 L384.98,196.71 L385.71,196.51 L386.44,196.64 L387.17,196.60 L387.90,196.24 L388.63,196.66 L389.36,196.56 L390.09,196.39 L390.82,196.23 L391.55,196.74 L392.28,196.50 L393.00,196.66 L393.73,196.76 L394.46,196.66 L395.18,196.79 L395.90,196.48 L396.62,196.73 L397.34,196.52 L398.06,196.82 L398.78,196.79 L399.49,196.33 L400.20,196.36 L400.91,196.41 L401.62,196.87 L402.33,196.56 L403.03,196.68 L403.73,196.50 L404.43,196.63 L405.13,196.57 L405.82,196.56 L406.51,196.71 L407.20,196.72 L407.88,196.93 L408.56,196.81 L409.24,196.97 L409.91,196.94 L410.58,197.04 L411.25,196.86 L411.91,196.58 L412.57,197.01 L413.22,197.09 L413.88,197.08 L414.52,196.90 L415.16,197.01 L415.80,196.73 L416.59,197.13 L417.38,197.00 L418.18,196.85 L418.98,196.75 L419.79,197.25 L420.60,197.36 L421.41,196.84 L422.22,197.30 L423.03,197.09 L423.85,196.96 L424.66,197.08 L425.47,197.39 L426.28,197.48 L427.08,197.01 L427.88,197.39 L428.68,197.08 L429.47,197.51 L430.26,197.31 L431.03,197.68 L431.81,197.77 L432.57,197.52 L433.32,197.86 L434.07,197.48 L434.80,197.39 L435.53,197.74 L436.24,197.45 L436.94,197.59 L437.62,197.77 L438.29,197.94 L438.95,197.72 L439.59,197.71 L440.22,198.27 L440.83,198.00 L441.42,198.45 L441.99,198.48 L442.54,198.23 L443.08,198.36 L443.59,198.47 L444.08,198.62 L444.55,198.67 L445.00,198.74 L445.95,198.99 L446.78,199.44 L447.52,199.45 L448.19,199.68 L448.82,200.13 L449.45,200.10 L450.10,200.38 L450.80,200.99 L451.52,200.88 L452.21,201.03 L452.91,200.82 L453.61,201.17 L454.33,201.36 L455.08,201.11 L455.86,201.57 L456.70,201.68 L457.32,201.41 L457.98,201.82 L458.67,201.80 L459.39,201.99 L460.12,201.86 L460.87,202.14 L461.64,202.23 L462.41,201.87 L463.19,201.96 L463.97,202.40 L464.74,202.65 L465.51,202.30 L466.26,202.50 L467.00,202.67 L467.71,202.59 L468.40,202.72 L469.17,202.82 L469.93,203.02 L470.67,203.33 L471.40,203.35 L472.12,203.59 L472.84,204.02 L473.54,203.76 L474.25,204.24 L474.96,204.48 L475.67,204.32 L476.38,204.33 L477.10,204.68 L477.84,204.27 L478.59,204.09 L479.35,204.03 L480.11,203.92 L480.87,203.27 L481.63,203.11 L482.38,202.82 L483.12,202.86 L483.85,202.40 L484.55,202.48 L485.24,201.99 L485.90,202.10 L486.60,202.43 L487.26,202.81 L487.89,202.86 L488.49,203.10 L489.10,203.44 L489.71,204.10 L490.33,204.29 L491.00,205.00 L491.70,205.30 L492.36,205.12 L493.04,205.38 L493.75,205.89 L494.48,205.97 L495.22,206.24 L495.97,206.11 L496.73,206.11 L497.50,206.32 L498.26,206.70 L499.01,206.44 L499.76,206.52 L500.50,206.55 L501.22,206.50 L501.93,206.39 L502.63,206.56 L503.32,205.93 L504.01,205.64 L504.71,205.99 L505.41,205.72 L506.13,205.56 L506.86,205.01 L507.61,205.11 L508.39,204.91 L509.20,204.33 L509.84,204.54 L510.49,204.50 L511.15,204.30 L511.82,204.13 L512.50,203.91 L513.19,203.86 L513.88,203.72 L514.59,203.55 L515.31,203.79 L516.04,203.54 L516.78,203.79 L517.52,203.27 L518.28,203.73 L519.04,203.55 L519.82,203.63 L520.60,203.56 L521.39,203.50 L522.18,203.26 L522.99,202.86 L523.80,203.25 L524.43,202.86 L525.08,202.90 L525.75,203.07 L526.42,202.95 L527.11,202.84 L527.81,203.12 L528.52,202.88 L529.24,202.68 L529.97,202.59 L530.71,202.91 L531.45,202.65 L532.20,202.79 L532.95,202.50 L533.70,202.37 L534.46,202.54 L535.21,202.68 L535.97,202.26 L536.73,202.61 L537.48,202.66 L538.23,202.56 L538.97,202.55 L539.71,202.03 L540.45,202.39 L541.17,202.51 L541.89,202.00 L542.60,202.12 L543.30,202.10 L543.98,202.24 L544.66,202.17 L545.32,202.19 L545.96,202.37 L546.59,201.90 L547.20,201.93 L548.01,201.98 L548.82,202.00 L549.61,202.00 L550.39,202.58 L551.16,202.55 L551.92,202.14 L552.67,202.44 L553.41,202.38 L554.13,202.43 L554.84,202.50 L555.54,202.72 L556.22,202.73 L556.89,202.63 L557.54,202.55 L558.18,202.64 L558.80,202.52 L559.41,202.76 L560.00,202.83 L560.91,202.53 L561.80,202.20 L562.66,202.07 L563.48,201.99 L564.25,201.94 L564.97,201.89 L565.62,201.55 L566.20,201.78 L567.13,201.99 L568.00,202.06 L568.50,201.80 L569.07,201.43 L569.69,200.96 L570.32,200.15 L570.95,199.70 L571.54,199.05 L572.06,198.60 L572.50,198.72 L572.91,199.11 L573.23,199.30 L573.47,200.28 L573.68,201.19 L573.88,202.44 L574.10,203.80 L574.22,203.55 L574.34,204.84 L574.45,205.31 L574.56,205.22 L574.67,206.18 L574.77,206.41 L574.87,208.09 L574.97,208.62 L575.06,209.69 L575.16,210.33 L575.25,210.93 L575.34,211.80 L575.43,212.33 L575.53,212.46 L575.62,213.88 L575.71,213.82 L575.81,214.72 L575.90,216.29 L576.00,215.94 L576.10,216.64 L576.23,217.48 L576.36,219.46 L576.48,219.43 L576.61,220.16 L576.73,222.22 L576.86,222.12 L576.99,223.94 L577.12,224.44 L577.25,225.28 L577.40,225.91 L577.54,225.70 L577.70,226.11 L577.86,224.95 L578.02,225.64 L578.18,224.78 L578.34,224.40 L578.51,222.78 L578.68,222.80 L578.86,222.12 L579.05,219.94 L579.24,219.33 L579.44,218.70 L579.65,218.17 L579.87,216.55 L580.10,215.76 L580.40,215.05 L580.72,214.68 L581.05,213.98 L581.40,212.61 L581.76,211.77 L582.11,211.11 L582.46,210.49 L582.79,210.22 L583.10,209.62 L583.46,210.50 L583.80,211.89 L584.13,212.08 L584.45,213.50 L584.77,213.44 L585.10,214.46 L585.42,214.34 L585.72,213.66 L586.03,212.66 L586.35,211.74 L586.70,211.10 L587.10,210.75 L587.57,209.08 L588.10,208.30 L588.67,208.52 L589.23,208.19 L589.75,207.29 L590.20,207.12 L590.48,207.76 L590.73,207.58 L590.94,208.48 L591.13,209.33 L591.30,210.91 L591.45,211.60 L591.60,212.51 L591.74,214.06 L591.88,215.16 L592.04,214.74 L592.20,215.48 L592.34,214.96 L592.46,215.23 L592.58,214.34 L592.68,213.23 L592.78,212.37 L592.87,211.21 L592.98,210.90 L593.09,209.79 L593.21,208.52 L593.36,207.84 L593.52,206.91 L593.72,206.74 L593.94,205.21 L594.20,205.88 L594.73,204.49 L595.36,204.03 L596.02,203.38 L596.65,203.63 L597.20,203.64 L597.43,203.47 L597.63,203.72 L597.82,204.56 L597.99,205.38 L598.14,205.50 L598.28,206.80 L598.40,208.03 L598.52,208.33 L598.62,209.02 L598.72,210.06 L598.81,211.77 L598.90,212.75 L598.99,214.14 L599.07,214.94 L599.16,214.98 L599.25,215.70 L599.34,216.49 L599.44,216.96 L599.55,218.11 L599.67,218.60 L599.80,218.75 L599.96,217.75 L600.12,218.26 L600.26,216.99 L600.40,216.48 L600.54,216.12 L600.68,214.37 L600.84,213.46 L601.01,213.54 L601.19,211.86 L601.40,211.07 L601.63,210.57 L601.90,210.00 L602.20,208.52 L602.69,208.31 L603.25,207.80 L603.86,207.26 L604.50,206.36 L605.12,206.49 L605.69,206.80 L606.20,206.05 L606.52,206.45 L606.80,206.19 L607.07,206.87 L607.31,207.99 L607.53,207.90 L607.74,209.72 L607.93,210.57 L608.12,210.32 L608.29,212.38 L608.47,212.52 L608.64,213.98 L608.82,214.86 L609.01,215.10 L609.20,216.44 L609.35,217.06 L609.50,217.99 L609.65,218.01 L609.79,219.50 L609.93,220.64 L610.07,221.13 L610.20,221.84 L610.34,222.17 L610.47,223.61 L610.61,224.32 L610.74,225.71 L610.87,226.52 L611.01,227.18 L611.14,227.43 L611.28,228.79 L611.41,229.42 L611.55,229.38 L611.70,230.86 L611.84,230.94 L611.99,230.51 L612.14,231.82 L612.30,230.81 L612.51,230.96 L612.71,231.18 L612.91,230.51 L613.11,229.80 L613.30,229.15 L613.51,228.03 L613.72,226.91 L613.94,225.78 L614.18,224.69 L614.43,224.68 L614.70,223.89 L614.99,222.87 L615.30,222.53 L615.72,221.38 L616.18,220.69 L616.66,220.34 L617.17,220.54 L617.69,218.94 L618.22,219.13 L618.76,218.32 L619.30,218.57 L619.83,217.49 L620.40,216.87 L620.99,216.33 L621.60,215.90 L622.19,215.63 L622.77,214.56 L623.33,214.87 L623.84,213.66 L624.30,213.88 L624.65,213.89 L624.96,214.40 L625.24,216.01 L625.50,216.78 L625.74,216.98 L625.96,217.99 L626.16,219.33 L626.36,220.77 L626.55,221.78 L626.73,222.48 L626.92,222.88 L627.10,222.67 L627.30,223.16 L627.50,222.72 L627.66,222.74 L627.80,222.14 L627.92,220.82 L628.04,219.97 L628.19,219.74 L628.37,217.75 L628.61,217.94 L628.91,217.31 L629.30,216.82 L629.81,215.59 L630.42,215.40 L631.10,215.08 L631.83,214.84 L632.59,215.06 L633.36,214.48 L634.09,213.85 L634.78,214.61 L635.40,214.18 L635.99,214.55 L636.55,215.07 L637.08,214.51 L637.59,216.10 L638.07,216.53 L638.53,216.92 L638.97,217.60 L639.40,218.15 L639.74,218.32 L640.07,219.37 L640.37,219.31 L640.66,220.59 L640.94,221.45 L641.20,221.84 L641.46,222.69 L641.70,223.92 L641.94,224.51 L642.17,224.14 L642.40,225.70 L642.63,226.23 L642.85,226.30 L643.05,227.64 L643.24,228.40 L643.43,229.08 L643.61,230.56 L643.80,231.82 L643.99,231.55 L644.19,232.68 L644.40,232.57 L644.58,231.67 L644.78,232.30 L644.98,231.39 L645.18,231.11 L645.39,229.97 L645.60,229.06 L645.82,227.52 L646.03,227.15 L646.24,226.33 L646.45,225.30 L646.66,223.87 L646.86,223.59 L647.05,222.66 L647.23,221.78 L647.40,221.57 L647.55,221.75 L647.70,222.28 L647.84,222.77 L647.96,223.95 L648.09,225.07 L648.21,225.78 L648.32,226.62 L648.43,227.97 L648.54,228.53 L648.66,229.75 L648.77,231.09 L648.88,231.43 L649.00,231.84 L649.13,233.37 L649.26,233.48 L649.40,233.12 L649.52,233.04 L649.64,233.01 L649.75,232.70 L649.86,231.66 L649.97,230.72 L650.07,230.26 L650.18,230.23 L650.29,228.45 L650.40,227.95 L650.52,226.60 L650.64,225.62 L650.76,224.56 L650.89,223.89 L651.03,222.60 L651.18,221.48 L651.33,220.73 L651.50,220.02 L651.67,219.76 L651.86,218.58 L652.06,218.05 L652.27,218.31 L652.50,218.07 L653.05,218.44 L653.68,217.79 L654.32,218.75 L654.95,219.36 L655.50,219.55 L655.77,221.31 L656.01,220.89 L656.24,221.44 L656.46,222.78 L656.66,223.24 L656.85,224.82 L657.03,225.41 L657.20,226.09 L657.36,226.96 L657.51,228.83 L657.66,229.09 L657.80,230.60 L657.94,230.86 L658.08,232.09 L658.22,231.65 L658.36,231.86 L658.50,231.98 L658.63,232.63 L658.76,232.07 L658.88,231.21 L659.00,230.25 L659.11,230.33 L659.23,229.88 L659.33,228.43 L659.44,226.63 L659.54,225.63 L659.64,224.66 L659.74,223.72 L659.84,222.50 L659.93,221.53 L660.02,221.44 L660.10,220.94 L660.19,219.24 L660.27,219.70 L660.35,218.56 L660.43,218.72 L660.50,218.78 L660.55,218.86 L660.59,217.76 L660.63,218.38 L660.67,219.13 L660.70,220.02 L660.73,219.33 L660.76,220.19 L660.78,221.59 L660.80,221.28 L660.82,222.42 L660.84,223.15 L660.85,224.49 L660.86,225.74 L660.87,225.64 L660.88,227.40 L660.89,228.39 L660.90,229.56 L660.90,230.21 L660.91,231.78 L660.92,232.07 L660.93,233.20 L660.93,234.01 L660.94,235.83 L660.95,236.46 L660.96,237.19 L660.97,238.06 L660.99,239.79 L661.00,240.58 L661.02,241.63 L661.04,242.04 L661.07,242.99 L661.09,243.30 L661.12,244.77 L661.15,244.46 L661.19,245.64 L661.23,246.54 L661.28,246.85 L661.32,246.39 L661.38,246.83 L661.44,247.82 L661.50,247.60 L661.59,247.85 L661.68,247.64 L661.76,246.71 L661.85,246.88 L661.94,246.09 L662.03,244.88 L662.12,244.20 L662.22,242.98 L662.32,242.57 L662.42,242.43 L662.53,240.31 L662.65,239.99 L662.77,238.38 L662.90,237.37 L663.04,237.20 L663.18,235.70 L663.34,234.55 L663.50,233.85 L663.68,233.75 L663.87,232.96 L664.07,231.55 L664.28,231.34 L664.50,231.94 L665.03,230.29 L665.62,230.33 L666.25,229.82 L666.88,230.03 L667.50,229.44 L668.14,229.35 L668.81,228.72 L669.47,227.93 L670.08,227.49 L670.60,226.72 L670.81,227.35 L670.99,225.90 L671.14,225.26 L671.28,225.99 L671.39,224.31 L671.48,224.61 L671.55,222.79 L671.61,222.58 L671.66,221.48 L671.69,221.53 L671.72,220.43 L671.74,219.64 L671.76,218.98 L671.78,218.29 L671.79,216.73 L671.81,216.26 L671.83,215.22 L671.86,213.95 L671.89,214.16 L671.94,213.07 L672.00,212.20" stroke="#0000ff"/>
<path d="M372.00,284.90 L372.71,284.75 L373.44,284.67 L374.17,284.84 L374.91,284.69 L375.65,284.63 L376.40,284.82 L377.15,285.12 L377.91,285.03 L378.68,285.00 L379.44,284.65 L380.21,284.82 L380.98,284.65 L381.75,284.56 L382.52,284.50 L383.28,284.55 L384.05,284.96 L384.82,284.88 L385.58,284.85 L386.34,284.83 L387.09,284.45 L387.84,284.51 L388.59,284.69 L389.32,284.75 L390.05,284.82 L390.78,284.84 L391.49,284.37 L392.20,284.69 L392.89,284.75 L393.58,284.67 L394.25,284.49 L394.92,284.70 L395.56,284.51 L396.20,285.06 L396.82,285.06 L397.43,284.93 L398.02,284.84 L398.60,285.28 L399.16,285.16 L399.70,285.43 L400.55,285.56 L401.36,285.52 L402.13,285.64 L402.88,285.93 L403.59,286.03 L404.29,286.07 L404.96,286.38 L405.61,286.91 L406.25,286.69 L406.88,286.95 L407.51,287.57 L408.13,287.64 L408.75,288.09 L409.37,288.36 L410.00,288.61 L410.63,289.34 L411.24,289.23 L411.85,289.76 L412.45,290.05 L413.04,290.74 L413.62,290.98 L414.20,291.48 L414.77,292.17 L415.34,292.38 L415.90,292.98 L416.46,293.65 L417.02,293.61 L417.58,294.02 L418.14,294.54 L418.70,295.26 L419.32,295.61 L419.91,295.83 L420.49,296.34 L421.06,296.70 L421.62,297.32 L422.19,297.50 L422.77,298.31 L423.36,298.82 L423.97,299.22 L424.61,299.41 L425.29,299.83 L426.00,299.51 L426.62,299.83 L427.26,300.36 L427.92,300.34 L428.61,300.18 L429.31,300.54 L430.03,300.36 L430.77,300.47 L431.51,300.13 L432.27,300.03 L433.03,300.14 L433.80,299.90 L434.58,299.99 L435.36,300.28 L436.13,299.84 L436.91,299.60 L437.68,299.57 L438.44,299.62 L439.20,299.97 L439.91,299.71 L440.62,299.66 L441.34,299.54 L442.05,300.07 L442.77,299.74 L443.49,299.61 L444.21,299.51 L444.93,299.51 L445.65,299.57 L446.37,299.87 L447.10,299.55 L447.83,299.47 L448.57,299.73 L449.30,299.56 L450.04,299.99 L450.79,299.44 L451.53,299.65 L452.29,299.76 L453.04,299.50 L453.80,299.79 L454.47,299.44 L455.15,299.25 L455.83,299.29 L456.52,299.01 L457.21,299.19 L457.90,299.02 L458.59,299.34 L459.29,299.24 L460.00,298.97 L460.70,298.62 L461.40,298.67 L462.11,298.59 L462.82,298.48 L463.53,298.41 L464.24,298.70 L464.95,298.18 L465.66,298.03 L466.37,298.45 L467.08,298.13 L467.79,298.28 L468.49,297.82 L469.20,298.00 L469.90,297.74 L470.60,297.70 L471.30,297.55 L472.00,297.26 L472.71,296.88 L473.42,296.80 L474.13,297.04 L474.84,296.89 L475.54,296.73 L476.25,296.20 L476.96,296.21 L477.67,296.11 L478.38,295.82 L479.09,295.74 L479.80,295.37 L480.50,295.25 L481.21,295.08 L481.91,294.64 L482.61,294.84 L483.31,294.67 L484.01,293.96 L484.70,294.32 L485.39,294.14 L486.08,293.80 L486.77,293.26 L487.45,293.62 L488.13,293.01 L488.80,293.38 L489.52,293.06 L490.24,292.57 L490.95,292.51 L491.65,292.67 L492.36,292.52 L493.06,292.51 L493.75,292.52 L494.45,291.99 L495.14,291.76 L495.83,292.22 L496.52,291.58 L497.20,292.01 L497.89,291.46 L498.57,291.79 L499.26,291.69 L499.95,291.66 L500.63,291.38 L501.32,291.49 L502.01,291.00 L502.71,291.19 L503.40,290.90 L504.13,291.14 L504.84,290.98 L505.56,290.70 L506.26,290.64 L506.97,290.25 L507.67,290.17 L508.37,290.41 L509.07,290.26 L509.78,290.40 L510.48,290.16 L511.19,289.80 L511.91,289.85 L512.63,290.01 L513.37,289.78 L514.11,289.39 L514.86,289.81 L515.62,289.72 L516.40,289.20 L517.19,289.40 L518.00,289.23 L518.63,289.42 L519.27,289.08 L519.92,288.97 L520.58,289.07 L521.26,289.31 L521.94,288.73 L522.63,288.69 L523.33,288.94 L524.03,289.05 L524.74,288.78 L525.46,288.68 L526.18,288.88 L526.90,288.79 L527.63,288.31 L528.36,288.76 L529.10,288.30 L529.84,288.32 L530.57,288.59 L531.31,288.30 L532.05,288.48 L532.78,288.06 L533.52,288.44 L534.25,287.98 L534.98,287.92 L535.71,288.09 L536.43,287.96 L537.14,288.04 L537.86,288.22 L538.56,288.07 L539.26,287.61 L539.95,287.76 L540.63,287.86 L541.30,287.79 L542.06,287.89 L542.82,287.71 L543.58,287.43 L544.34,287.50 L545.10,287.82 L545.86,287.49 L546.61,287.71 L547.37,287.81 L548.12,287.56 L548.87,287.56 L549.61,287.49 L550.35,287.28 L551.09,287.61 L551.82,287.32 L552.54,287.56 L553.26,287.17 L553.97,287.48 L554.68,287.41 L555.37,287.28 L556.06,287.16 L556.74,286.96 L557.41,287.32 L558.08,287.06 L558.73,287.22 L559.37,286.89 L560.00,286.85 L560.84,286.86 L561.69,287.21 L562.56,286.77 L563.42,287.13 L564.28,286.74 L565.12,286.79 L565.95,286.59 L566.74,286.70 L567.51,286.35 L568.23,286.52 L568.91,286.86 L569.53,286.47 L570.09,286.85 L570.58,286.80 L571.00,286.98 L571.61,287.34 L571.99,288.00 L572.26,289.33 L572.50,290.10 L572.63,290.69 L572.69,291.40 L572.71,292.27 L572.70,292.60 L572.70,293.66 L572.73,294.40 L572.80,295.18 L572.95,296.04 L573.20,296.46 L573.72,297.10 L574.37,296.64 L575.11,297.65 L575.84,297.97 L576.50,298.44 L577.12,298.72 L577.72,299.50 L578.30,299.29 L578.83,300.77 L579.30,300.77 L579.55,301.54 L579.76,302.51 L579.95,302.83 L580.12,302.92 L580.26,303.47 L580.40,304.30 L580.52,305.44 L580.63,306.70 L580.74,307.34 L580.85,307.44 L580.97,308.25 L581.10,309.64 L581.19,309.51 L581.28,310.35 L581.37,310.54 L581.45,311.56 L581.54,312.88 L581.62,313.96 L581.70,314.74 L581.78,315.32 L581.85,317.05 L581.93,317.54 L582.00,317.82 L582.08,318.62 L582.15,320.78 L582.22,321.67 L582.29,322.42 L582.37,322.78 L582.44,323.13 L582.51,323.51 L582.58,324.36 L582.65,324.86 L582.72,326.30 L582.79,326.63 L582.86,326.75 L582.93,326.06 L583.00,326.24 L583.07,326.25 L583.13,326.93 L583.19,325.49 L583.24,325.89 L583.30,325.16 L583.35,324.30 L583.40,324.10 L583.44,322.30 L583.49,321.75 L583.54,320.29 L583.58,319.19 L583.63,318.06 L583.68,317.39 L583.73,316.05 L583.78,314.89 L583.83,315.11 L583.89,313.10 L583.94,312.92 L584.01,311.69 L584.07,310.81 L584.14,309.86 L584.22,309.49 L584.30,308.70 L584.39,307.89 L584.48,307.18 L584.58,307.00 L584.69,306.80 L584.80,306.47 L585.13,306.58 L585.50,306.67 L585.89,308.47 L586.27,309.00 L586.60,309.50 L586.72,310.11 L586.82,311.65 L586.92,311.43 L587.02,312.32 L587.10,313.49 L587.19,314.56 L587.26,314.70 L587.33,315.69 L587.40,316.68 L587.46,317.10 L587.52,319.25 L587.58,319.05 L587.64,321.34 L587.69,321.21 L587.74,322.18 L587.79,324.08 L587.84,324.96 L587.89,325.02 L587.94,326.29 L587.99,326.95 L588.05,328.00 L588.10,327.91 L588.16,329.36 L588.22,330.07 L588.28,330.06 L588.35,330.64 L588.42,330.84 L588.50,330.13 L588.58,330.73 L588.65,330.56 L588.72,329.98 L588.80,328.99 L588.87,329.29 L588.94,329.21 L589.02,327.82 L589.09,327.67 L589.16,327.34 L589.24,326.20 L589.31,324.64 L589.39,324.64 L589.47,323.26 L589.55,323.20 L589.63,322.02 L589.71,320.59 L589.79,320.45 L589.87,319.12 L589.96,317.76 L590.05,317.49 L590.14,316.61 L590.23,315.68 L590.33,314.74 L590.43,313.54 L590.53,312.73 L590.63,311.77 L590.74,310.87 L590.85,310.76 L590.96,309.20 L591.08,308.19 L591.20,308.49 L591.40,307.31 L591.61,306.47 L591.82,305.62 L592.04,304.22 L592.26,303.27 L592.49,302.26 L592.73,302.48 L592.97,301.98 L593.22,301.12 L593.47,299.88 L593.73,300.78 L594.00,300.45 L594.38,300.13 L594.80,299.83 L595.23,301.61 L595.66,302.09 L596.08,302.96 L596.46,303.04 L596.80,304.92 L596.98,304.50 L597.14,305.70 L597.29,305.88 L597.42,306.84 L597.54,308.27 L597.66,308.80 L597.76,309.64 L597.85,309.69 L597.94,310.59 L598.02,311.67 L598.10,311.66 L598.17,312.96 L598.24,314.51 L598.31,314.96 L598.38,315.85 L598.45,315.78 L598.52,317.01 L598.60,317.80 L598.70,318.57 L598.78,319.15 L598.86,319.79 L598.93,320.58 L599.00,322.76 L599.07,323.74 L599.14,323.66 L599.22,325.03 L599.30,325.09 L599.39,325.75 L599.50,326.17 L599.60,325.31 L599.70,325.32 L599.80,324.19 L599.91,323.74 L600.02,322.14 L600.14,321.44 L600.26,320.41 L600.38,320.21 L600.52,318.10 L600.66,318.02 L600.80,316.27 L600.96,316.87 L601.12,315.31 L601.30,315.04 L601.65,315.39 L602.05,316.96 L602.46,317.46 L602.85,318.78 L603.20,319.30 L603.33,319.27 L603.45,320.19 L603.56,321.04 L603.66,322.54 L603.76,322.23 L603.84,323.21 L603.93,324.96 L604.00,324.91 L604.07,327.06 L604.14,327.11 L604.20,328.46 L604.26,329.55 L604.32,330.82 L604.38,330.57 L604.44,332.49 L604.50,332.37 L604.56,333.83 L604.62,333.52 L604.69,335.10 L604.76,334.74 L604.83,335.11 L604.91,335.08 L605.00,335.56 L605.11,335.46 L605.23,336.08 L605.34,335.10 L605.46,334.16 L605.58,334.30 L605.70,332.35 L605.82,331.51 L605.94,331.59 L606.07,330.60 L606.20,329.25 L606.33,328.69 L606.47,326.49 L606.61,326.80 L606.75,325.75 L606.90,325.03 L607.10,324.48 L607.30,322.72 L607.50,322.14 L607.71,321.38 L607.93,321.19 L608.16,320.64 L608.42,319.99 L608.70,319.11 L609.05,318.87 L609.43,318.15 L609.84,317.19 L610.26,315.40 L610.69,314.89 L611.10,314.51 L611.50,314.34 L612.13,315.27 L612.74,315.65 L613.30,316.67 L613.55,316.08 L613.77,315.68 L613.96,315.54 L614.13,315.11 L614.30,313.22 L614.47,312.53 L614.65,312.48 L614.86,310.52 L615.10,309.45 L615.31,309.04 L615.51,309.24 L615.72,308.40 L615.94,307.95 L616.16,306.58 L616.39,305.19 L616.63,304.81 L616.89,304.64 L617.16,303.49 L617.45,302.47 L617.75,302.18 L618.08,301.74 L618.43,301.11 L618.80,300.83 L619.48,299.88 L620.25,299.36 L621.06,300.13 L621.89,299.88 L622.68,299.34 L623.40,298.87 L624.18,299.09 L624.92,299.51 L625.61,300.16 L626.20,299.97 L626.52,301.14 L626.77,301.24 L626.96,301.64 L627.12,303.20 L627.25,304.14 L627.39,305.04 L627.55,305.96 L627.75,305.51 L628.00,306.31 L628.38,306.60 L628.78,305.03 L629.22,304.03 L629.69,303.32 L630.18,302.74 L630.70,302.61 L631.25,302.59 L631.82,303.54 L632.42,303.58 L633.05,304.52 L633.71,305.52 L634.40,305.56 L634.93,306.03 L635.50,305.70 L636.10,304.31 L636.72,303.86 L637.35,303.52 L637.99,302.89 L638.62,302.03 L639.24,302.17 L639.83,300.82 L640.39,300.93 L640.90,300.37 L641.48,301.65 L641.99,301.72 L642.46,302.91 L642.92,302.46 L643.39,303.93 L643.91,304.36 L644.50,303.98 L645.19,305.20 L645.94,305.27 L646.73,304.06 L647.55,305.09 L648.38,304.71 L649.20,304.35 L650.00,304.26 L650.73,303.92 L651.49,303.68 L652.26,304.31 L653.03,304.94 L653.77,304.17 L654.46,304.75 L655.08,304.79 L655.60,305.76 L655.94,306.57 L656.22,307.00 L656.43,306.78 L656.60,307.63 L656.73,307.78 L656.84,309.26 L656.92,310.50 L656.99,311.28 L657.07,311.00 L657.16,312.27 L657.26,312.52 L657.40,313.70 L657.57,315.13 L657.73,315.01 L657.89,316.54 L658.05,317.45 L658.21,318.00 L658.38,317.89 L658.56,319.60 L658.75,320.31 L658.96,321.11 L659.20,320.42 L659.50,321.14 L659.84,322.21 L660.20,323.18 L660.58,323.69 L660.96,323.88 L661.33,325.30 L661.68,326.06 L662.00,326.78 L662.21,327.28 L662.40,328.10 L662.57,329.14 L662.74,329.19 L662.89,330.64 L663.03,331.17 L663.18,332.06 L663.32,333.87 L663.47,334.09 L663.63,334.86 L663.79,335.40 L663.98,336.33 L664.18,336.02 L664.40,336.89 L664.89,335.83 L665.41,336.27 L665.98,334.23 L666.60,334.37 L667.25,333.75 L667.96,333.40 L668.67,333.05 L669.30,332.81 L669.87,332.86 L670.38,331.94 L670.82,331.24 L671.20,329.95 L671.34,330.00 L671.46,328.85 L671.56,328.70 L671.64,328.30 L671.71,327.49 L671.76,326.84 L671.79,326.10 L671.82,324.82 L671.84,325.11 L671.86,323.94 L671.87,323.21 L671.88,322.73 L671.89,321.25 L671.91,320.30 L671.93,319.50 L671.96,318.77 L672.00,318.30" stroke="#ff0000"/>
<path d="M372.00,382.20 L372.71,382.27 L373.44,382.34 L374.17,382.36 L374.91,382.44 L375.65,382.30 L376.40,382.40 L377.15,381.84 L377.91,382.08 L378.67,382.35 L379.44,382.15 L380.20,382.28 L380.97,381.78 L381.74,381.97 L382.51,381.81 L383.28,381.96 L384.05,381.96 L384.81,381.60 L385.57,381.70 L386.33,381.72 L387.08,382.08 L387.83,381.97 L388.58,381.60 L389.32,381.97 L390.05,381.56 L390.77,381.85 L391.48,381.55 L392.19,381.48 L392.88,382.00 L393.57,381.62 L394.24,381.64 L394.91,382.12 L395.56,382.08 L396.19,381.76 L396.82,382.20 L397.43,381.99 L398.02,382.12 L398.60,381.89 L399.16,382.39 L399.70,382.31 L400.54,382.61 L401.35,382.70 L402.12,382.49 L402.86,382.69 L403.57,382.74 L404.26,382.90 L404.93,383.04 L405.58,383.38 L406.22,383.77 L406.85,383.62 L407.48,384.25 L408.10,384.28 L408.73,384.49 L409.36,385.04 L410.00,385.09 L410.70,385.28 L411.40,385.69 L412.08,386.16 L412.75,386.12 L413.41,387.03 L414.07,386.82 L414.73,387.62 L415.38,388.05 L416.03,387.91 L416.69,388.72 L417.35,388.81 L418.02,389.25 L418.70,389.21 L419.36,389.50 L420.02,389.85 L420.67,390.57 L421.32,390.36 L421.97,390.94 L422.63,391.27 L423.29,391.51 L423.96,391.36 L424.64,391.58 L425.33,391.88 L426.03,392.22 L426.76,391.99 L427.50,392.55 L428.15,392.72 L428.82,392.89 L429.49,392.52 L430.17,393.18 L430.86,392.78 L431.57,393.03 L432.27,393.29 L432.99,393.56 L433.72,393.30 L434.45,393.73 L435.19,393.57 L435.95,393.50 L436.70,393.56 L437.47,393.54 L438.24,393.53 L439.02,393.61 L439.81,393.98 L440.60,394.20 L441.24,393.72 L441.90,393.67 L442.57,394.25 L443.25,393.98 L443.93,393.91 L444.63,393.81 L445.34,394.01 L446.05,394.14 L446.76,393.91 L447.48,393.87 L448.21,393.63 L448.94,394.12 L449.67,393.56 L450.40,393.81 L451.13,393.99 L451.86,393.53 L452.59,393.85 L453.32,393.95 L454.05,393.71 L454.77,393.77 L455.48,393.32 L456.19,393.47 L456.89,393.26 L457.58,393.63 L458.26,393.26 L458.94,393.31 L459.60,393.60 L460.37,393.46 L461.14,393.48 L461.90,393.11 L462.65,393.07 L463.39,393.15 L464.12,392.94 L464.86,392.76 L465.58,392.76 L466.30,392.54 L467.02,392.60 L467.74,392.90 L468.46,392.80 L469.17,392.53 L469.88,392.37 L470.60,392.20 L471.31,391.97 L472.03,392.00 L472.75,392.23 L473.47,392.20 L474.20,391.82 L474.90,391.99 L475.59,391.90 L476.29,391.77 L476.98,391.66 L477.68,391.63 L478.37,391.30 L479.07,391.41 L479.76,391.06 L480.46,391.08 L481.15,391.16 L481.85,391.02 L482.54,390.68 L483.24,390.98 L483.93,390.72 L484.63,390.59 L485.32,390.16 L486.02,390.40 L486.71,390.15 L487.41,390.33 L488.10,390.14 L488.80,390.29 L489.53,390.13 L490.27,390.18 L491.00,389.87 L491.74,390.02 L492.49,390.06 L493.23,390.09 L493.98,389.79 L494.72,390.08 L495.46,390.08 L496.21,389.97 L496.95,390.13 L497.68,390.10 L498.42,389.82 L499.15,389.81 L499.87,389.57 L500.59,389.93 L501.30,389.95 L502.01,389.62 L502.71,389.69 L503.40,389.63 L504.12,389.54 L504.83,389.10 L505.52,389.35 L506.20,389.10 L506.87,389.02 L507.53,388.73 L508.20,388.70 L508.86,388.64 L509.51,388.40 L510.18,388.29 L510.85,387.72 L511.52,387.65 L512.21,387.68 L512.91,387.66 L513.62,387.27 L514.35,387.42 L515.10,387.28 L515.73,386.84 L516.37,387.01 L517.02,386.79 L517.68,386.61 L518.35,386.59 L519.02,386.63 L519.70,386.48 L520.39,386.42 L521.08,386.27 L521.77,386.47 L522.48,386.36 L523.18,386.44 L523.90,386.38 L524.61,386.11 L525.33,386.46 L526.05,385.87 L526.77,386.06 L527.50,385.93 L528.23,385.96 L528.96,385.73 L529.68,386.11 L530.41,385.79 L531.14,385.53 L531.87,385.82 L532.60,385.46 L533.28,385.67 L533.98,385.50 L534.70,385.59 L535.42,385.76 L536.16,385.63 L536.90,385.33 L537.65,385.51 L538.41,385.36 L539.17,385.14 L539.93,384.95 L540.70,385.17 L541.46,385.10 L542.23,385.28 L542.99,385.24 L543.74,384.97 L544.49,384.76 L545.24,385.04 L545.97,384.46 L546.69,384.47 L547.40,384.70 L548.10,384.68 L548.78,384.35 L549.45,384.60 L550.09,384.72 L550.72,384.37 L551.33,384.37 L551.91,384.20 L552.47,384.21 L553.00,384.58 L553.84,384.17 L554.60,384.47 L555.31,384.39 L555.97,384.16 L556.61,383.92 L557.23,384.31 L557.87,383.98 L558.53,383.90 L559.24,383.82 L560.00,384.19 L560.65,383.86 L561.35,383.69 L562.09,383.73 L562.87,383.44 L563.67,383.65 L564.49,383.45 L565.32,383.27 L566.15,383.49 L566.98,383.45 L567.78,382.92 L568.57,383.21 L569.32,383.07 L570.03,383.51 L570.69,383.51 L571.29,383.32 L571.83,383.52 L572.30,383.69 L572.88,384.66 L573.33,384.81 L573.70,385.64 L573.99,386.28 L574.23,387.26 L574.45,388.01 L574.66,389.02 L574.90,388.97 L575.07,390.48 L575.21,390.52 L575.32,391.55 L575.42,392.03 L575.50,392.75 L575.58,393.85 L575.65,394.54 L575.73,395.17 L575.82,396.45 L575.92,396.96 L576.05,396.88 L576.20,397.80 L576.38,398.65 L576.60,399.77 L577.05,400.48 L577.57,400.68 L578.13,400.50 L578.72,401.96 L579.30,401.70 L580.19,401.67 L581.11,401.29 L581.90,401.08 L582.18,401.19 L582.41,402.36 L582.61,402.41 L582.77,403.34 L582.91,404.99 L583.03,405.14 L583.13,406.32 L583.23,408.02 L583.33,407.82 L583.44,409.56 L583.56,409.81 L583.70,409.61 L583.87,409.21 L584.03,409.36 L584.20,408.76 L584.37,406.75 L584.54,406.18 L584.71,405.24 L584.88,404.21 L585.05,403.20 L585.23,402.42 L585.40,402.82 L585.57,403.29 L585.73,402.69 L585.89,403.56 L586.04,405.18 L586.20,406.05 L586.37,406.82 L586.55,406.88 L586.75,408.71 L586.96,409.81 L587.20,410.39 L587.74,410.83 L588.34,410.59 L588.90,411.87 L589.10,410.86 L589.29,411.14 L589.47,411.11 L589.63,410.20 L589.78,408.71 L589.93,408.16 L590.07,408.18 L590.21,406.22 L590.35,405.93 L590.49,404.72 L590.64,403.44 L590.79,403.17 L590.95,401.51 L591.12,400.80 L591.30,400.45 L591.50,399.41 L591.80,398.56 L592.12,398.40 L592.45,397.77 L592.78,397.15 L593.13,395.41 L593.48,395.25 L593.84,394.70 L594.20,394.94 L594.63,394.91 L595.09,395.92 L595.55,395.73 L596.00,396.03 L596.42,397.73 L596.80,397.82 L596.99,399.03 L597.16,399.51 L597.32,400.83 L597.45,401.18 L597.58,402.18 L597.69,402.64 L597.79,404.01 L597.88,404.59 L597.97,406.25 L598.06,406.88 L598.14,407.26 L598.23,408.25 L598.32,409.20 L598.42,410.38 L598.52,410.16 L598.63,411.32 L598.76,411.51 L598.90,410.83 L599.10,411.45 L599.31,410.14 L599.53,409.41 L599.76,409.12 L599.99,407.60 L600.22,407.45 L600.46,405.94 L600.71,404.93 L600.95,405.03 L601.20,403.75 L601.62,404.92 L602.04,404.60 L602.48,405.59 L602.90,407.62 L603.10,407.78 L603.30,407.80 L603.49,408.41 L603.68,410.43 L603.87,410.90 L604.05,412.04 L604.24,412.04 L604.42,413.63 L604.61,414.14 L604.81,414.79 L605.01,415.66 L605.22,416.68 L605.43,416.80 L605.66,417.19 L605.90,417.00 L606.43,417.70 L606.98,416.68 L607.57,416.00 L608.20,414.81 L609.04,415.08 L609.95,414.46 L610.80,414.13 L611.14,413.73 L611.46,413.48 L611.77,412.45 L612.06,411.41 L612.35,410.64 L612.63,410.15 L612.90,409.18 L613.17,409.59 L613.45,408.27 L613.72,407.92 L614.01,406.17 L614.30,406.16 L614.60,406.06 L614.89,404.99 L615.18,404.02 L615.46,403.35 L615.75,402.14 L616.04,401.52 L616.34,400.87 L616.67,400.54 L617.01,399.99 L617.39,400.16 L617.80,398.72 L618.46,398.32 L619.19,397.86 L619.97,397.31 L620.75,397.20 L621.51,397.00 L622.20,397.38 L622.77,396.96 L623.32,398.56 L623.86,398.29 L624.38,399.65 L624.86,399.93 L625.30,400.54 L625.70,400.86 L626.07,402.28 L626.34,402.05 L626.57,403.76 L626.79,404.08 L627.05,405.24 L627.40,405.62 L627.87,404.63 L628.39,404.07 L628.95,403.04 L629.53,402.65 L630.10,402.12 L630.75,402.68 L631.42,403.87 L632.08,403.59 L632.70,404.14 L633.12,404.93 L633.51,405.44 L633.89,406.91 L634.25,407.72 L634.60,407.67 L634.95,408.27 L635.30,409.04 L635.60,409.23 L635.88,408.36 L636.14,407.39 L636.40,407.33 L636.66,405.09 L636.94,404.26 L637.23,404.39 L637.55,403.14 L637.90,402.07 L638.55,402.06 L639.27,402.05 L639.99,400.99 L640.60,400.69 L641.01,400.78 L641.32,401.61 L641.60,403.74 L641.91,404.01 L642.30,405.00 L642.66,403.63 L643.06,403.41 L643.49,402.45 L643.94,402.12 L644.40,400.84 L644.87,400.39 L645.34,400.09 L645.80,399.73 L646.29,399.55 L646.78,400.03 L647.28,402.00 L647.78,401.66 L648.29,402.80 L648.79,403.17 L649.30,403.54 L649.81,402.74 L650.33,402.57 L650.86,401.61 L651.38,401.48 L651.90,401.32 L652.40,400.36 L652.90,400.49 L653.59,399.70 L654.29,399.80 L654.94,401.11 L655.50,401.78 L655.72,402.36 L655.91,402.70 L656.06,403.78 L656.19,404.74 L656.29,405.90 L656.37,406.01 L656.45,407.18 L656.51,408.67 L656.57,408.79 L656.62,409.54 L656.68,410.65 L656.75,411.08 L656.83,412.65 L656.93,413.19 L657.05,412.81 L657.20,412.69 L657.53,412.29 L657.91,411.64 L658.30,410.36 L658.67,409.95 L659.00,409.81 L659.25,409.56 L659.46,409.83 L659.66,411.46 L659.85,411.46 L660.02,412.64 L660.20,413.70 L660.30,414.42 L660.39,414.75 L660.48,415.99 L660.56,416.71 L660.64,418.24 L660.71,418.93 L660.78,420.37 L660.85,421.01 L660.92,422.10 L661.00,422.76 L661.07,423.42 L661.14,424.71 L661.22,425.16 L661.31,426.13 L661.40,426.25 L661.50,426.48 L661.60,425.98 L661.74,426.60 L661.87,425.64 L662.00,424.72 L662.14,423.89 L662.29,423.18 L662.44,422.39 L662.60,421.99 L662.77,420.50 L662.96,419.29 L663.17,419.44 L663.40,418.48 L663.70,417.01 L664.02,416.33 L664.36,415.75 L664.73,415.42 L665.12,415.51 L665.54,415.10 L666.00,414.15 L666.65,413.11 L667.38,412.91 L668.14,412.44 L668.86,412.15 L669.50,411.63 L670.43,412.79 L671.20,413.65 L671.62,413.68 L672.00,413.50" stroke="#000"/>
</g>
<g fill="none" stroke="#000" stroke-width="2.0">
<rect x="27" y="1.6" width="300" height="457.4"/>
<rect x="372.4" y="1.6" width="299.6" height="457.4"/>
<line x1="27" y1="93" x2="327" y2="93"/>
<line x1="27" y1="184.7" x2="327" y2="184.7"/>
<line x1="27" y1="276.2" x2="327" y2="276.2"/>
<line x1="27" y1="367.9" x2="327" y2="367.9"/>
<line x1="372.4" y1="92.8" x2="672" y2="92.8"/>
<line x1="372.4" y1="172.7" x2="672" y2="172.7"/>
<line x1="372.4" y1="276.2" x2="672" y2="276.2"/>
<line x1="372.4" y1="371.6" x2="672" y2="371.6"/>
<line x1="27" y1="459" x2="27" y2="464.7"/>
<line x1="52" y1="459" x2="52" y2="462.3"/>
<line x1="77" y1="459" x2="77" y2="464.7"/>
<line x1="102" y1="459" x2="102" y2="462.3"/>
<line x1="127" y1="459" x2="127" y2="464.7"/>
<line x1="152" y1="459" x2="152" y2="462.3"/>
<line x1="177" y1="459" x2="177" y2="464.7"/>
<line x1="202" y1="459" x2="202" y2="462.3"/>
<line x1="227" y1="459" x2="227" y2="464.7"/>
<line x1="252" y1="459" x2="252" y2="462.3"/>
<line x1="277" y1="459" x2="277" y2="464.7"/>
<line x1="302" y1="459" x2="302" y2="462.3"/>
<line x1="327" y1="459" x2="327" y2="464.7"/>
<line x1="381.55" y1="459" x2="381.55" y2="462.3"/>
<line x1="408.00" y1="459" x2="408.00" y2="464.7"/>
<line x1="434.45" y1="459" x2="434.45" y2="462.3"/>
<line x1="460.90" y1="459" x2="460.90" y2="464.7"/>
<line x1="487.35" y1="459" x2="487.35" y2="462.3"/>
<line x1="513.80" y1="459" x2="513.80" y2="464.7"/>
<line x1="540.25" y1="459" x2="540.25" y2="462.3"/>
<line x1="566.70" y1="459" x2="566.70" y2="464.7"/>
<line x1="593.15" y1="459" x2="593.15" y2="462.3"/>
<line x1="619.60" y1="459" x2="619.60" y2="464.7"/>
<line x1="646.05" y1="459" x2="646.05" y2="462.3"/>
<line x1="672.50" y1="459" x2="672.50" y2="464.7"/>
</g>
<g font-family='"Liberation Sans", sans-serif' font-weight="bold" font-size="15.5" text-anchor="middle" fill="#000">
<text x="27" y="481">10</text>
<text x="77" y="481">20</text>
<text x="127" y="481">30</text>
<text x="177" y="481">40</text>
<text x="227" y="481">50</text>
<text x="277" y="481">60</text>
<text x="327" y="481">70</text>
<text x="408.00" y="481">3600</text>
<text x="460.90" y="481">3000</text>
<text x="513.80" y="481">2400</text>
<text x="566.70" y="481">1800</text>
<text x="619.60" y="481">1200</text>
<text x="672.50" y="481">600</text>
</g>
<text font-family='"Liberation Sans", sans-serif' font-weight="bold" font-size="15" text-anchor="middle" x="176" y="508.4">2θ (degree)</text>
<text font-family='"Liberation Sans", sans-serif' font-weight="bold" font-size="15" x="449.5" y="512.8">Wavenumber (cm<tspan font-size="11.5" dx="1.2" dy="-6.5">-1</tspan><tspan dx="1" dy="6.5"> )</tspan></text>
<text font-family='"Liberation Sans", sans-serif' font-weight="bold" font-size="15.4" text-anchor="middle" transform="translate(11.2,219.1) rotate(-90)">Intensity (a.u.)</text>
<text font-family='"Liberation Sans", sans-serif' font-weight="bold" font-size="15.3" letter-spacing="0.15" text-anchor="middle" transform="translate(359.2,210.9) rotate(-90)">%Transmittance</text>
<line x1="171.9" y1="12.0" x2="206.7" y2="12.0" stroke="#ff8205" stroke-width="2"/>
<text font-family='"Liberation Sans", sans-serif' font-weight="bold" font-size="15.4" x="210.2" y="17.4" fill="#000">Cr-Dy-MOF/rGO</text>
<line x1="205.3" y1="104.3" x2="241.1" y2="104.3" stroke="#008000" stroke-width="2"/>
<text font-family='"Liberation Sans", sans-serif' font-weight="bold" font-size="15.4" x="244.5" y="109.0" fill="#000">Cr-Dy-MOF</text>
<line x1="229.3" y1="194.5" x2="265.3" y2="194.5" stroke="#0000ff" stroke-width="2"/>
<text font-family='"Liberation Sans", sans-serif' font-weight="bold" font-size="15.4" x="268.3" y="199.6" fill="#000">Dy-MOF</text>
<line x1="227.7" y1="288.1" x2="263.4" y2="288.1" stroke="#ff0000" stroke-width="2"/>
<text font-family='"Liberation Sans", sans-serif' font-weight="bold" font-size="15.4" x="266.7" y="292.8" fill="#000">Cr-MOF</text>
<line x1="256.9" y1="377.7" x2="292.3" y2="377.7" stroke="#000" stroke-width="2"/>
<text font-family='"Liberation Sans", sans-serif' font-weight="bold" font-size="15.4" x="295.6" y="383.0" fill="#000">rGO</text>
<line x1="511.3" y1="10.3" x2="545.9" y2="10.3" stroke="#ff8205" stroke-width="2"/>
<text font-family='"Liberation Serif", serif' font-weight="bold" font-size="15.6" x="549.3" y="15.7" fill="#ff8205">Cr-Dy-MOF/rGO</text>
<line x1="549.2" y1="101.8" x2="584.3" y2="101.8" stroke="#008000" stroke-width="2"/>
<text font-family='"Liberation Serif", serif' font-weight="bold" font-size="15.6" x="588.3" y="107.7" fill="#008000">Cr-Dy-MOF</text>
<line x1="573.7" y1="193.8" x2="609.3" y2="193.8" stroke="#0000ff" stroke-width="2"/>
<text font-family='"Liberation Serif", serif' font-weight="bold" font-size="15.6" x="612.8" y="199.6" fill="#0000ff">Dy-MOF</text>
<line x1="572.4" y1="283.6" x2="608.9" y2="283.6" stroke="#ff0000" stroke-width="2"/>
<text font-family='"Liberation Serif", serif' font-weight="bold" font-size="15.6" x="612.4" y="289.6" fill="#ff0000">Cr-MOF</text>
<line x1="591.4" y1="382.8" x2="626.6" y2="382.8" stroke="#000" stroke-width="2"/>
<text font-family='"Liberation Serif", serif' font-weight="bold" font-size="15.6" x="630.6" y="388.2" fill="#000">rGO</text>
<text font-family='"Liberation Sans", sans-serif' font-weight="bold" font-size="26" x="254" y="48" fill="#ff0000">(a)</text>
<text font-family='"Liberation Sans", sans-serif' font-weight="bold" font-size="26" x="379" y="50" fill="#ff0000">(b)</text>
<path d="M33.12,22.00 L30.92,34.00 M36.25,22.00 L34.04,34.00 M29.35,26.44 L37.72,26.44 M29.08,29.92 L37.45,29.92" stroke="#ff0000" stroke-width="1.95" fill="none"/>
<path d="M45.02,41.40 L42.82,52.40 M48.15,41.40 L45.94,52.40 M41.25,45.47 L49.62,45.47 M40.98,48.66 L49.35,48.66" stroke="#ff0000" stroke-width="1.95" fill="none"/>
<text font-family='"Liberation Sans", sans-serif' font-weight="bold" font-size="17" text-anchor="middle" x="53.1" y="59.8" fill="#0000ff">*</text>
<text font-family='"Liberation Sans", sans-serif' font-weight="bold" font-size="17" text-anchor="middle" x="62.8" y="20.3" fill="#0000ff">*</text>
<text font-family='"Liberation Sans", sans-serif' font-weight="bold" font-size="17" text-anchor="middle" x="87.3" y="41.4" fill="#0000ff">*</text>
<path d="M96.31,16.50 L94.01,28.50 M99.58,16.50 L97.27,28.50 M92.38,20.94 L101.11,20.94 M92.09,24.42 L100.82,24.42" stroke="#ff0000" stroke-width="1.95" fill="none"/>
<path d="M103.56,30.90 L101.23,42.60 M106.86,30.90 L104.53,42.60 M99.58,35.23 L108.41,35.23 M99.29,38.62 L108.12,38.62" stroke="#ff0000" stroke-width="1.95" fill="none"/>
<text font-family='"Liberation Sans", sans-serif' font-weight="bold" font-size="17" text-anchor="middle" x="113.5" y="43.5" fill="#000" stroke="#000" stroke-width="0.5">+</text>
<text font-family='"Liberation Sans", sans-serif' font-weight="bold" font-size="17" text-anchor="middle" x="133.2" y="30.4" fill="#0000ff">*</text>
<text font-family='"Liberation Sans", sans-serif' font-weight="bold" font-size="17" text-anchor="middle" x="184.9" y="71.7" fill="#0000ff">*</text>
<path d="M33.62,130.80 L31.36,142.50 M36.81,130.80 L34.56,142.50 M29.76,135.13 L38.32,135.13 M29.48,138.52 L38.04,138.52" stroke="#ff0000" stroke-width="1.95" fill="none"/>
<path d="M46.22,138.00 L43.96,149.70 M49.41,138.00 L47.16,149.70 M42.36,142.33 L50.92,142.33 M42.08,145.72 L50.64,145.72" stroke="#ff0000" stroke-width="1.95" fill="none"/>
<text font-family='"Liberation Sans", sans-serif' font-weight="bold" font-size="17" text-anchor="middle" x="55.0" y="155.3" fill="#0000ff">*</text>
<text font-family='"Liberation Sans", sans-serif' font-weight="bold" font-size="17" text-anchor="middle" x="64.1" y="141.8" fill="#0000ff">*</text>
<text font-family='"Liberation Sans", sans-serif' font-weight="bold" font-size="17" text-anchor="middle" x="86.5" y="138.2" fill="#0000ff">*</text>
<path d="M94.31,132.60 L92.01,144.30 M97.58,132.60 L95.27,144.30 M90.38,136.93 L99.11,136.93 M90.09,140.32 L98.82,140.32" stroke="#ff0000" stroke-width="1.95" fill="none"/>
<path d="M104.75,134.00 L102.38,145.50 M108.12,134.00 L105.74,145.50 M100.69,138.25 L109.70,138.25 M100.40,141.59 L109.41,141.59" stroke="#ff0000" stroke-width="1.95" fill="none"/>
<path d="M118.75,97.50 L116.38,109.20 M122.12,97.50 L119.74,109.20 M114.69,101.83 L123.70,101.83 M114.40,105.22 L123.41,105.22" stroke="#ff0000" stroke-width="1.95" fill="none"/>
<text font-family='"Liberation Sans", sans-serif' font-weight="bold" font-size="17" text-anchor="middle" x="134.2" y="136.4" fill="#0000ff">*</text>
<text font-family='"Liberation Sans", sans-serif' font-weight="bold" font-size="17" text-anchor="middle" x="183.9" y="170.2" fill="#0000ff">*</text>
<text font-family='"Liberation Sans", sans-serif' font-weight="bold" font-size="17" text-anchor="middle" x="44.2" y="238.3" fill="#0000ff">*</text>
<text font-family='"Liberation Sans", sans-serif' font-weight="bold" font-size="17" text-anchor="middle" x="63.2" y="227.1" fill="#0000ff">*</text>
<text font-family='"Liberation Sans", sans-serif' font-weight="bold" font-size="17" text-anchor="middle" x="85.8" y="226.2" fill="#0000ff">*</text>
<text font-family='"Liberation Sans", sans-serif' font-weight="bold" font-size="17" text-anchor="middle" x="132.7" y="224.4" fill="#0000ff">*</text>
<text font-family='"Liberation Sans", sans-serif' font-weight="bold" font-size="17" text-anchor="middle" x="185.5" y="260.6" fill="#0000ff">*</text>
<path d="M33.12,291.10 L30.86,303.60 M36.31,291.10 L34.06,303.60 M29.26,295.73 L37.82,295.73 M28.98,299.35 L37.54,299.35" stroke="#ff0000" stroke-width="1.95" fill="none"/>
<path d="M54.12,300.90 L51.86,313.40 M57.31,300.90 L55.06,313.40 M50.26,305.52 L58.82,305.52 M49.98,309.15 L58.54,309.15" stroke="#ff0000" stroke-width="1.95" fill="none"/>
<path d="M92.01,292.40 L89.65,304.80 M95.34,292.40 L92.99,304.80 M87.99,296.99 L96.91,296.99 M87.69,300.58 L96.61,300.58" stroke="#ff0000" stroke-width="1.95" fill="none"/>
<path d="M104.91,288.50 L102.61,300.90 M108.18,288.50 L105.87,300.90 M100.98,293.09 L109.71,293.09 M100.69,296.68 L109.42,296.68" stroke="#ff0000" stroke-width="1.95" fill="none"/>
<path d="M120.91,281.00 L118.61,293.40 M124.18,281.00 L121.87,293.40 M116.98,285.59 L125.71,285.59 M116.69,289.18 L125.42,289.18" stroke="#ff0000" stroke-width="1.95" fill="none"/>
<text font-family='"Liberation Sans", sans-serif' font-weight="bold" font-size="17" text-anchor="middle" x="107.8" y="379.5" fill="#000">+</text>
<text font-family='"Liberation Sans", sans-serif' font-size="12" font-weight="bold" text-anchor="middle" fill="#ff8205" transform="translate(434.7,48.4) rotate(-90)">O-H</text>
<text font-family='"Liberation Sans", sans-serif' font-size="12" font-weight="bold" text-anchor="middle" fill="#ff8205" transform="translate(578.5,69.3) rotate(-90)">C=O</text>
<text font-family='"Liberation Sans", sans-serif' font-size="12" font-weight="bold" text-anchor="middle" fill="#ff8205" transform="translate(593.8,73.8) rotate(-90)">C-C</text>
<text font-family='"Liberation Sans", sans-serif' font-size="12" font-weight="bold" text-anchor="middle" fill="#ff8205" transform="translate(609.6,75.2) rotate(-90)">C=C</text>
<text font-family='"Liberation Sans", sans-serif' font-size="12" font-weight="bold" text-anchor="middle" fill="#ff8205" transform="translate(638.2,61.2) rotate(-90)">Dy-O</text>
<text font-family='"Liberation Sans", sans-serif' font-size="12" font-weight="bold" text-anchor="middle" fill="#ff8205" transform="translate(662.2,76.5) rotate(-90)">Cr-O</text>
<text font-family='"Liberation Sans", sans-serif' font-size="12" font-weight="bold" text-anchor="middle" fill="#008000" transform="translate(438.2,138.0) rotate(-90)">O-H</text>
<text font-family='"Liberation Sans", sans-serif' font-size="12" font-weight="bold" text-anchor="middle" fill="#008000" transform="translate(577.1,148.2) rotate(-90)">C=O</text>
<text font-family='"Liberation Sans", sans-serif' font-size="12" font-weight="bold" text-anchor="middle" fill="#008000" transform="translate(592.9,148.3) rotate(-90)">C-C</text>
<text font-family='"Liberation Sans", sans-serif' font-size="12" font-weight="bold" text-anchor="middle" fill="#008000" transform="translate(609.5,160.4) rotate(-90)">C-O</text>
<text font-family='"Liberation Sans", sans-serif' font-size="12" font-weight="bold" text-anchor="middle" fill="#008000" transform="translate(639.9,148.2) rotate(-90)">Dy-O</text>
<text font-family='"Liberation Sans", sans-serif' font-size="12" font-weight="bold" text-anchor="middle" fill="#008000" transform="translate(663.8,158.7) rotate(-90)">Cr-O</text>
<text font-family='"Liberation Sans", sans-serif' font-size="12" font-weight="bold" text-anchor="middle" fill="#0000ff" transform="translate(454.8,221.9) rotate(-90)">O-H</text>
<text font-family='"Liberation Sans", sans-serif' font-size="12" font-weight="bold" text-anchor="middle" fill="#0000ff" transform="translate(582.7,241.9) rotate(-90)">C=O</text>
<text font-family='"Liberation Sans", sans-serif' font-size="12" font-weight="bold" text-anchor="middle" fill="#0000ff" transform="translate(601.8,235.4) rotate(-90)">C-C</text>
<text font-family='"Liberation Sans", sans-serif' font-size="12" font-weight="bold" text-anchor="middle" fill="#0000ff" transform="translate(617.9,247.3) rotate(-90)">C-O</text>
<text font-family='"Liberation Sans", sans-serif' font-size="12" font-weight="bold" text-anchor="middle" fill="#0000ff" transform="translate(655.3,256.4) rotate(-90)">Dy-O</text>
<text font-family='"Liberation Sans", sans-serif' font-size="12" font-weight="bold" text-anchor="middle" fill="#ff0000" transform="translate(431.5,324.4) rotate(-90)">O-H</text>
<text font-family='"Liberation Sans", sans-serif' font-size="12" font-weight="bold" text-anchor="middle" fill="#ff0000" transform="translate(579.8,346.1) rotate(-90)">C=O</text>
<text font-family='"Liberation Sans", sans-serif' font-size="12" font-weight="bold" text-anchor="middle" fill="#ff0000" transform="translate(593.6,346.3) rotate(-90)">C-C</text>
<text font-family='"Liberation Sans", sans-serif' font-size="12" font-weight="bold" text-anchor="middle" fill="#ff0000" transform="translate(612.0,349.3) rotate(-90)">C-O</text>
<text font-family='"Liberation Sans", sans-serif' font-size="12" font-weight="bold" text-anchor="middle" fill="#ff0000" transform="translate(669.5,355.1) rotate(-90)">Cr-O</text>
<text font-family='"Liberation Sans", sans-serif' font-size="12" font-weight="bold" text-anchor="middle" fill="#000" transform="translate(443.1,410.6) rotate(-90)">O-H</text>
<text font-family='"Liberation Sans", sans-serif' font-size="12" font-weight="bold" text-anchor="middle" fill="#000" transform="translate(612.2,433.3) rotate(-90)">C=C</text>
<text font-family='"Liberation Sans", sans-serif' font-size="12" font-weight="bold" text-anchor="middle" fill="#000" transform="translate(668.2,441.6) rotate(-90)">C-H</text>
</svg></body></html>
